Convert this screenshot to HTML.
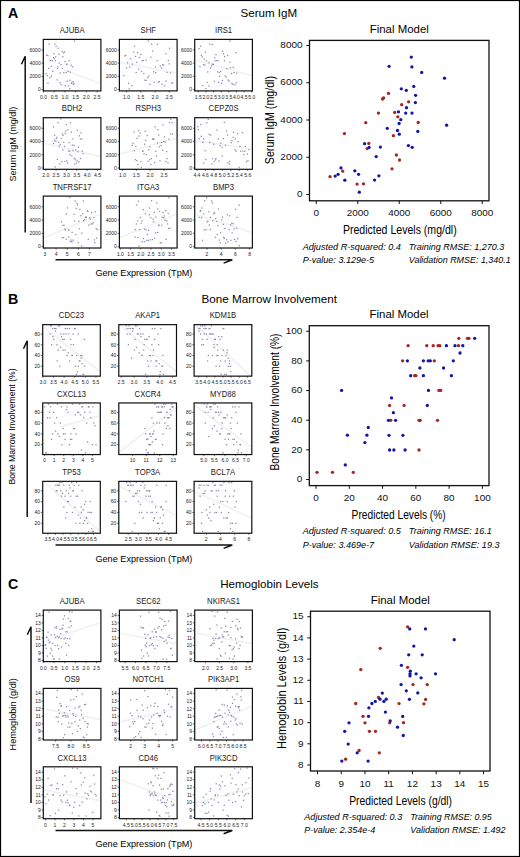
<!DOCTYPE html>
<html><head><meta charset="utf-8"><style>
html,body{margin:0;padding:0;background:#fff;width:520px;height:857px;overflow:hidden}
svg{display:block}
text{font-family:"Liberation Sans", sans-serif}
</style></head><body>
<svg width="520" height="857" viewBox="0 0 520 857" font-family='"Liberation Sans", sans-serif'>
<rect x="0" y="0" width="520" height="857" fill="#fff"/>
<rect x="0.55" y="0.55" width="518.9" height="855.9" fill="none" stroke="#000" stroke-width="1.1"/>
<text x="8.10" y="18.30" font-size="14.2" font-weight="bold">A</text>
<text x="240.50" y="17.20" font-size="11.6" textLength="56.70" lengthAdjust="spacingAndGlyphs">Serum IgM</text>
<text transform="translate(15.90,181.40) rotate(-90)" font-size="9.2" textLength="74.60" lengthAdjust="spacingAndGlyphs">Serum IgM (mg/dl)</text>
<path d="M25.20,232.50 L25.20,56.20 L21.50,64.20" fill="none" stroke="#111" stroke-width="1.5" stroke-linejoin="miter"/>
<path d="M55.5,259.80 L232.3,259.80 L223.6,263.10" fill="none" stroke="#111" stroke-width="1.5"/>
<text x="95.40" y="276.30" font-size="9.1" textLength="97.00" lengthAdjust="spacingAndGlyphs">Gene Expression (TpM)</text>
<text transform="translate(72.10,33.10) scale(0.93,1)" x="0" y="0" font-size="8.3" text-anchor="middle" fill="#1a1a1a">AJUBA</text>
<line x1="63.76" y1="69.78" x2="99.90" y2="83.18" stroke="#f1f1f1" stroke-width="1.7"/>
<rect x="53.29" y="53.02" width="1.25" height="1.25" fill="#8888b0"/>
<rect x="47.23" y="54.90" width="1.25" height="1.25" fill="#8888b0"/>
<rect x="46.07" y="54.45" width="1.25" height="1.25" fill="#8888b0"/>
<rect x="68.42" y="60.04" width="1.25" height="1.25" fill="#8888b0"/>
<rect x="50.17" y="59.88" width="1.25" height="1.25" fill="#8888b0"/>
<rect x="64.45" y="61.12" width="1.25" height="1.25" fill="#8888b0"/>
<rect x="62.24" y="56.07" width="1.25" height="1.25" fill="#8888b0"/>
<rect x="52.88" y="56.99" width="1.25" height="1.25" fill="#8888b0"/>
<rect x="66.16" y="63.71" width="1.25" height="1.25" fill="#8888b0"/>
<rect x="56.85" y="67.97" width="1.25" height="1.25" fill="#8888b0"/>
<rect x="65.84" y="63.63" width="1.25" height="1.25" fill="#8888b0"/>
<rect x="61.73" y="67.65" width="1.25" height="1.25" fill="#8888b0"/>
<rect x="52.18" y="70.67" width="1.25" height="1.25" fill="#8888b0"/>
<rect x="45.57" y="72.99" width="1.25" height="1.25" fill="#8888b0"/>
<rect x="46.71" y="75.04" width="1.25" height="1.25" fill="#8888b0"/>
<rect x="49.20" y="77.00" width="1.25" height="1.25" fill="#8888b0"/>
<rect x="69.24" y="79.66" width="1.25" height="1.25" fill="#8888b0"/>
<rect x="72.69" y="80.93" width="1.25" height="1.25" fill="#8888b0"/>
<rect x="73.54" y="82.94" width="1.25" height="1.25" fill="#8888b0"/>
<rect x="64.73" y="85.00" width="1.25" height="1.25" fill="#8888b0"/>
<rect x="68.03" y="85.37" width="1.25" height="1.25" fill="#8888b0"/>
<rect x="73.97" y="40.50" width="1.25" height="1.25" fill="#8888b0"/>
<rect x="48.63" y="43.50" width="1.25" height="1.25" fill="#8888b0"/>
<rect x="54.28" y="43.59" width="1.25" height="1.25" fill="#8888b0"/>
<rect x="55.52" y="45.72" width="1.25" height="1.25" fill="#8888b0"/>
<rect x="57.50" y="47.58" width="1.25" height="1.25" fill="#8888b0"/>
<rect x="61.50" y="50.84" width="1.25" height="1.25" fill="#8888b0"/>
<rect x="63.90" y="51.43" width="1.25" height="1.25" fill="#8888b0"/>
<rect x="62.86" y="52.25" width="1.25" height="1.25" fill="#8888b0"/>
<rect x="58.40" y="53.64" width="1.25" height="1.25" fill="#8888b0"/>
<rect x="55.08" y="56.17" width="1.25" height="1.25" fill="#8888b0"/>
<rect x="53.76" y="58.08" width="1.25" height="1.25" fill="#8888b0"/>
<rect x="49.50" y="59.92" width="1.25" height="1.25" fill="#8888b0"/>
<rect x="51.75" y="60.10" width="1.25" height="1.25" fill="#8888b0"/>
<rect x="54.74" y="60.10" width="1.25" height="1.25" fill="#8888b0"/>
<rect x="58.65" y="62.42" width="1.25" height="1.25" fill="#8888b0"/>
<rect x="60.37" y="64.02" width="1.25" height="1.25" fill="#8888b0"/>
<rect x="70.47" y="64.57" width="1.25" height="1.25" fill="#8888b0"/>
<rect x="50.66" y="65.69" width="1.25" height="1.25" fill="#8888b0"/>
<rect x="71.78" y="66.06" width="1.25" height="1.25" fill="#8888b0"/>
<rect x="57.30" y="66.37" width="1.25" height="1.25" fill="#8888b0"/>
<rect x="48.00" y="67.78" width="1.25" height="1.25" fill="#8888b0"/>
<rect x="67.58" y="70.74" width="1.25" height="1.25" fill="#8888b0"/>
<rect x="63.22" y="71.97" width="1.25" height="1.25" fill="#8888b0"/>
<rect x="65.57" y="72.01" width="1.25" height="1.25" fill="#8888b0"/>
<rect x="69.72" y="71.47" width="1.25" height="1.25" fill="#8888b0"/>
<rect x="59.57" y="72.43" width="1.25" height="1.25" fill="#8888b0"/>
<rect x="50.88" y="75.44" width="1.25" height="1.25" fill="#8888b0"/>
<rect x="56.43" y="79.27" width="1.25" height="1.25" fill="#8888b0"/>
<rect x="66.61" y="80.52" width="1.25" height="1.25" fill="#8888b0"/>
<rect x="71.27" y="81.62" width="1.25" height="1.25" fill="#8888b0"/>
<rect x="59.28" y="82.02" width="1.25" height="1.25" fill="#8888b0"/>
<rect x="70.98" y="82.62" width="1.25" height="1.25" fill="#8888b0"/>
<rect x="47.33" y="82.60" width="1.25" height="1.25" fill="#8888b0"/>
<rect x="60.55" y="83.89" width="1.25" height="1.25" fill="#8888b0"/>
<rect x="72.65" y="83.67" width="1.25" height="1.25" fill="#8888b0"/>
<rect x="69.13" y="88.10" width="1.25" height="1.25" fill="#8888b0"/>
<rect x="43.30" y="39.40" width="57.60" height="51.50" fill="none" stroke="#111" stroke-width="1.2"/>
<line x1="41.50" y1="49.96" x2="43.30" y2="49.96" stroke="#111" stroke-width="0.6"/>
<text x="40.70" y="51.76" font-size="5.0" text-anchor="end" fill="#222">6000</text>
<line x1="41.50" y1="63.17" x2="43.30" y2="63.17" stroke="#111" stroke-width="0.6"/>
<text x="40.70" y="64.97" font-size="5.0" text-anchor="end" fill="#222">4000</text>
<line x1="41.50" y1="76.37" x2="43.30" y2="76.37" stroke="#111" stroke-width="0.6"/>
<text x="40.70" y="78.17" font-size="5.0" text-anchor="end" fill="#222">2000</text>
<line x1="41.50" y1="89.58" x2="43.30" y2="89.58" stroke="#111" stroke-width="0.6"/>
<text x="40.70" y="91.38" font-size="5.0" text-anchor="end" fill="#222">0</text>
<line x1="43.50" y1="90.90" x2="43.50" y2="92.50" stroke="#111" stroke-width="0.6"/>
<text x="43.50" y="98.80" font-size="5.0" text-anchor="middle" fill="#222">0.0</text>
<line x1="54.22" y1="90.90" x2="54.22" y2="92.50" stroke="#111" stroke-width="0.6"/>
<text x="54.22" y="98.80" font-size="5.0" text-anchor="middle" fill="#222">0.5</text>
<line x1="64.94" y1="90.90" x2="64.94" y2="92.50" stroke="#111" stroke-width="0.6"/>
<text x="64.94" y="98.80" font-size="5.0" text-anchor="middle" fill="#222">1.0</text>
<line x1="75.66" y1="90.90" x2="75.66" y2="92.50" stroke="#111" stroke-width="0.6"/>
<text x="75.66" y="98.80" font-size="5.0" text-anchor="middle" fill="#222">1.5</text>
<line x1="86.38" y1="90.90" x2="86.38" y2="92.50" stroke="#111" stroke-width="0.6"/>
<text x="86.38" y="98.80" font-size="5.0" text-anchor="middle" fill="#222">2.0</text>
<line x1="97.10" y1="90.90" x2="97.10" y2="92.50" stroke="#111" stroke-width="0.6"/>
<text x="97.10" y="98.80" font-size="5.0" text-anchor="middle" fill="#222">2.5</text>
<text transform="translate(148.25,33.10) scale(0.93,1)" x="0" y="0" font-size="8.3" text-anchor="middle" fill="#1a1a1a">SHF</text>
<line x1="120.40" y1="62.58" x2="176.10" y2="72.88" stroke="#f1f1f1" stroke-width="1.7"/>
<rect x="165.23" y="53.18" width="1.25" height="1.25" fill="#8888b0"/>
<rect x="124.35" y="55.31" width="1.25" height="1.25" fill="#8888b0"/>
<rect x="125.03" y="54.78" width="1.25" height="1.25" fill="#8888b0"/>
<rect x="141.52" y="60.06" width="1.25" height="1.25" fill="#8888b0"/>
<rect x="156.58" y="59.99" width="1.25" height="1.25" fill="#8888b0"/>
<rect x="136.13" y="61.64" width="1.25" height="1.25" fill="#8888b0"/>
<rect x="134.91" y="55.85" width="1.25" height="1.25" fill="#8888b0"/>
<rect x="138.59" y="56.90" width="1.25" height="1.25" fill="#8888b0"/>
<rect x="168.58" y="63.25" width="1.25" height="1.25" fill="#8888b0"/>
<rect x="138.20" y="68.35" width="1.25" height="1.25" fill="#8888b0"/>
<rect x="131.87" y="63.45" width="1.25" height="1.25" fill="#8888b0"/>
<rect x="126.04" y="67.31" width="1.25" height="1.25" fill="#8888b0"/>
<rect x="140.93" y="70.84" width="1.25" height="1.25" fill="#8888b0"/>
<rect x="143.13" y="72.96" width="1.25" height="1.25" fill="#8888b0"/>
<rect x="123.14" y="75.06" width="1.25" height="1.25" fill="#8888b0"/>
<rect x="147.19" y="77.00" width="1.25" height="1.25" fill="#8888b0"/>
<rect x="145.50" y="79.77" width="1.25" height="1.25" fill="#8888b0"/>
<rect x="158.73" y="80.86" width="1.25" height="1.25" fill="#8888b0"/>
<rect x="171.34" y="82.43" width="1.25" height="1.25" fill="#8888b0"/>
<rect x="131.36" y="85.03" width="1.25" height="1.25" fill="#8888b0"/>
<rect x="163.95" y="85.32" width="1.25" height="1.25" fill="#8888b0"/>
<rect x="147.71" y="40.40" width="1.25" height="1.25" fill="#8888b0"/>
<rect x="150.99" y="43.47" width="1.25" height="1.25" fill="#8888b0"/>
<rect x="156.80" y="43.76" width="1.25" height="1.25" fill="#8888b0"/>
<rect x="133.84" y="45.55" width="1.25" height="1.25" fill="#8888b0"/>
<rect x="168.97" y="47.70" width="1.25" height="1.25" fill="#8888b0"/>
<rect x="152.06" y="50.56" width="1.25" height="1.25" fill="#8888b0"/>
<rect x="133.13" y="51.50" width="1.25" height="1.25" fill="#8888b0"/>
<rect x="136.93" y="52.05" width="1.25" height="1.25" fill="#8888b0"/>
<rect x="140.26" y="53.75" width="1.25" height="1.25" fill="#8888b0"/>
<rect x="150.25" y="56.59" width="1.25" height="1.25" fill="#8888b0"/>
<rect x="129.98" y="57.95" width="1.25" height="1.25" fill="#8888b0"/>
<rect x="145.47" y="59.39" width="1.25" height="1.25" fill="#8888b0"/>
<rect x="142.61" y="59.97" width="1.25" height="1.25" fill="#8888b0"/>
<rect x="167.70" y="60.10" width="1.25" height="1.25" fill="#8888b0"/>
<rect x="126.95" y="62.17" width="1.25" height="1.25" fill="#8888b0"/>
<rect x="162.03" y="63.96" width="1.25" height="1.25" fill="#8888b0"/>
<rect x="162.95" y="64.55" width="1.25" height="1.25" fill="#8888b0"/>
<rect x="159.69" y="65.37" width="1.25" height="1.25" fill="#8888b0"/>
<rect x="129.12" y="66.31" width="1.25" height="1.25" fill="#8888b0"/>
<rect x="154.86" y="66.36" width="1.25" height="1.25" fill="#8888b0"/>
<rect x="160.97" y="67.51" width="1.25" height="1.25" fill="#8888b0"/>
<rect x="153.02" y="71.19" width="1.25" height="1.25" fill="#8888b0"/>
<rect x="155.06" y="71.99" width="1.25" height="1.25" fill="#8888b0"/>
<rect x="169.82" y="72.37" width="1.25" height="1.25" fill="#8888b0"/>
<rect x="166.49" y="71.77" width="1.25" height="1.25" fill="#8888b0"/>
<rect x="135.54" y="72.00" width="1.25" height="1.25" fill="#8888b0"/>
<rect x="148.23" y="75.49" width="1.25" height="1.25" fill="#8888b0"/>
<rect x="144.24" y="79.57" width="1.25" height="1.25" fill="#8888b0"/>
<rect x="165.38" y="80.35" width="1.25" height="1.25" fill="#8888b0"/>
<rect x="153.63" y="81.62" width="1.25" height="1.25" fill="#8888b0"/>
<rect x="157.63" y="81.68" width="1.25" height="1.25" fill="#8888b0"/>
<rect x="128.01" y="82.70" width="1.25" height="1.25" fill="#8888b0"/>
<rect x="171.92" y="82.14" width="1.25" height="1.25" fill="#8888b0"/>
<rect x="161.53" y="83.62" width="1.25" height="1.25" fill="#8888b0"/>
<rect x="149.43" y="83.75" width="1.25" height="1.25" fill="#8888b0"/>
<rect x="128.55" y="88.38" width="1.25" height="1.25" fill="#8888b0"/>
<rect x="119.40" y="39.40" width="57.70" height="51.50" fill="none" stroke="#111" stroke-width="1.2"/>
<line x1="117.60" y1="49.96" x2="119.40" y2="49.96" stroke="#111" stroke-width="0.6"/>
<text x="116.80" y="51.76" font-size="5.0" text-anchor="end" fill="#222">6000</text>
<line x1="117.60" y1="63.17" x2="119.40" y2="63.17" stroke="#111" stroke-width="0.6"/>
<text x="116.80" y="64.97" font-size="5.0" text-anchor="end" fill="#222">4000</text>
<line x1="117.60" y1="76.37" x2="119.40" y2="76.37" stroke="#111" stroke-width="0.6"/>
<text x="116.80" y="78.17" font-size="5.0" text-anchor="end" fill="#222">2000</text>
<line x1="117.60" y1="89.58" x2="119.40" y2="89.58" stroke="#111" stroke-width="0.6"/>
<text x="116.80" y="91.38" font-size="5.0" text-anchor="end" fill="#222">0</text>
<line x1="126.60" y1="90.90" x2="126.60" y2="92.50" stroke="#111" stroke-width="0.6"/>
<text x="126.60" y="98.80" font-size="5.0" text-anchor="middle" fill="#222">1.0</text>
<line x1="140.80" y1="90.90" x2="140.80" y2="92.50" stroke="#111" stroke-width="0.6"/>
<text x="140.80" y="98.80" font-size="5.0" text-anchor="middle" fill="#222">1.5</text>
<line x1="155.00" y1="90.90" x2="155.00" y2="92.50" stroke="#111" stroke-width="0.6"/>
<text x="155.00" y="98.80" font-size="5.0" text-anchor="middle" fill="#222">2.0</text>
<line x1="169.20" y1="90.90" x2="169.20" y2="92.50" stroke="#111" stroke-width="0.6"/>
<text x="169.20" y="98.80" font-size="5.0" text-anchor="middle" fill="#222">2.5</text>
<text transform="translate(223.55,33.10) scale(0.93,1)" x="0" y="0" font-size="8.3" text-anchor="middle" fill="#1a1a1a">IRS1</text>
<line x1="195.70" y1="60.00" x2="251.40" y2="75.45" stroke="#f1f1f1" stroke-width="1.7"/>
<rect x="222.83" y="52.99" width="1.25" height="1.25" fill="#8888b0"/>
<rect x="200.75" y="54.90" width="1.25" height="1.25" fill="#8888b0"/>
<rect x="226.98" y="54.96" width="1.25" height="1.25" fill="#8888b0"/>
<rect x="223.78" y="60.16" width="1.25" height="1.25" fill="#8888b0"/>
<rect x="217.59" y="60.10" width="1.25" height="1.25" fill="#8888b0"/>
<rect x="229.20" y="61.64" width="1.25" height="1.25" fill="#8888b0"/>
<rect x="223.97" y="55.89" width="1.25" height="1.25" fill="#8888b0"/>
<rect x="214.13" y="57.23" width="1.25" height="1.25" fill="#8888b0"/>
<rect x="211.88" y="63.59" width="1.25" height="1.25" fill="#8888b0"/>
<rect x="226.20" y="68.03" width="1.25" height="1.25" fill="#8888b0"/>
<rect x="212.80" y="63.76" width="1.25" height="1.25" fill="#8888b0"/>
<rect x="229.89" y="67.18" width="1.25" height="1.25" fill="#8888b0"/>
<rect x="220.06" y="70.78" width="1.25" height="1.25" fill="#8888b0"/>
<rect x="230.88" y="72.85" width="1.25" height="1.25" fill="#8888b0"/>
<rect x="224.63" y="75.25" width="1.25" height="1.25" fill="#8888b0"/>
<rect x="225.44" y="76.47" width="1.25" height="1.25" fill="#8888b0"/>
<rect x="221.82" y="79.84" width="1.25" height="1.25" fill="#8888b0"/>
<rect x="228.50" y="80.48" width="1.25" height="1.25" fill="#8888b0"/>
<rect x="231.27" y="82.94" width="1.25" height="1.25" fill="#8888b0"/>
<rect x="208.26" y="85.47" width="1.25" height="1.25" fill="#8888b0"/>
<rect x="202.09" y="84.93" width="1.25" height="1.25" fill="#8888b0"/>
<rect x="229.44" y="40.42" width="1.25" height="1.25" fill="#8888b0"/>
<rect x="209.18" y="43.45" width="1.25" height="1.25" fill="#8888b0"/>
<rect x="211.70" y="44.01" width="1.25" height="1.25" fill="#8888b0"/>
<rect x="199.91" y="45.61" width="1.25" height="1.25" fill="#8888b0"/>
<rect x="198.35" y="47.97" width="1.25" height="1.25" fill="#8888b0"/>
<rect x="221.96" y="50.55" width="1.25" height="1.25" fill="#8888b0"/>
<rect x="204.77" y="51.46" width="1.25" height="1.25" fill="#8888b0"/>
<rect x="235.22" y="52.00" width="1.25" height="1.25" fill="#8888b0"/>
<rect x="215.34" y="54.04" width="1.25" height="1.25" fill="#8888b0"/>
<rect x="201.61" y="56.44" width="1.25" height="1.25" fill="#8888b0"/>
<rect x="203.59" y="58.36" width="1.25" height="1.25" fill="#8888b0"/>
<rect x="216.15" y="59.88" width="1.25" height="1.25" fill="#8888b0"/>
<rect x="205.80" y="60.15" width="1.25" height="1.25" fill="#8888b0"/>
<rect x="214.50" y="60.21" width="1.25" height="1.25" fill="#8888b0"/>
<rect x="208.46" y="62.16" width="1.25" height="1.25" fill="#8888b0"/>
<rect x="202.88" y="63.95" width="1.25" height="1.25" fill="#8888b0"/>
<rect x="204.23" y="64.53" width="1.25" height="1.25" fill="#8888b0"/>
<rect x="211.05" y="65.35" width="1.25" height="1.25" fill="#8888b0"/>
<rect x="199.37" y="66.01" width="1.25" height="1.25" fill="#8888b0"/>
<rect x="232.63" y="66.79" width="1.25" height="1.25" fill="#8888b0"/>
<rect x="210.01" y="67.40" width="1.25" height="1.25" fill="#8888b0"/>
<rect x="217.09" y="70.96" width="1.25" height="1.25" fill="#8888b0"/>
<rect x="218.56" y="72.00" width="1.25" height="1.25" fill="#8888b0"/>
<rect x="233.48" y="71.98" width="1.25" height="1.25" fill="#8888b0"/>
<rect x="207.08" y="71.33" width="1.25" height="1.25" fill="#8888b0"/>
<rect x="236.08" y="72.50" width="1.25" height="1.25" fill="#8888b0"/>
<rect x="219.17" y="75.68" width="1.25" height="1.25" fill="#8888b0"/>
<rect x="227.62" y="79.49" width="1.25" height="1.25" fill="#8888b0"/>
<rect x="213.71" y="80.71" width="1.25" height="1.25" fill="#8888b0"/>
<rect x="206.58" y="81.96" width="1.25" height="1.25" fill="#8888b0"/>
<rect x="217.92" y="81.95" width="1.25" height="1.25" fill="#8888b0"/>
<rect x="235.69" y="82.17" width="1.25" height="1.25" fill="#8888b0"/>
<rect x="221.03" y="82.60" width="1.25" height="1.25" fill="#8888b0"/>
<rect x="234.30" y="84.13" width="1.25" height="1.25" fill="#8888b0"/>
<rect x="232.05" y="83.58" width="1.25" height="1.25" fill="#8888b0"/>
<rect x="205.23" y="87.86" width="1.25" height="1.25" fill="#8888b0"/>
<rect x="194.70" y="39.40" width="57.70" height="51.50" fill="none" stroke="#111" stroke-width="1.2"/>
<line x1="192.90" y1="49.96" x2="194.70" y2="49.96" stroke="#111" stroke-width="0.6"/>
<text x="192.10" y="51.76" font-size="5.0" text-anchor="end" fill="#222">6000</text>
<line x1="192.90" y1="63.17" x2="194.70" y2="63.17" stroke="#111" stroke-width="0.6"/>
<text x="192.10" y="64.97" font-size="5.0" text-anchor="end" fill="#222">4000</text>
<line x1="192.90" y1="76.37" x2="194.70" y2="76.37" stroke="#111" stroke-width="0.6"/>
<text x="192.10" y="78.17" font-size="5.0" text-anchor="end" fill="#222">2000</text>
<line x1="192.90" y1="89.58" x2="194.70" y2="89.58" stroke="#111" stroke-width="0.6"/>
<text x="192.10" y="91.38" font-size="5.0" text-anchor="end" fill="#222">0</text>
<line x1="198.30" y1="90.90" x2="198.30" y2="92.50" stroke="#111" stroke-width="0.6"/>
<text x="198.30" y="98.80" font-size="5.0" text-anchor="middle" fill="#222">1.5</text>
<line x1="205.93" y1="90.90" x2="205.93" y2="92.50" stroke="#111" stroke-width="0.6"/>
<text x="205.93" y="98.80" font-size="5.0" text-anchor="middle" fill="#222">2.0</text>
<line x1="213.56" y1="90.90" x2="213.56" y2="92.50" stroke="#111" stroke-width="0.6"/>
<text x="213.56" y="98.80" font-size="5.0" text-anchor="middle" fill="#222">2.5</text>
<line x1="221.19" y1="90.90" x2="221.19" y2="92.50" stroke="#111" stroke-width="0.6"/>
<text x="221.19" y="98.80" font-size="5.0" text-anchor="middle" fill="#222">3.0</text>
<line x1="228.81" y1="90.90" x2="228.81" y2="92.50" stroke="#111" stroke-width="0.6"/>
<text x="228.81" y="98.80" font-size="5.0" text-anchor="middle" fill="#222">3.5</text>
<line x1="236.44" y1="90.90" x2="236.44" y2="92.50" stroke="#111" stroke-width="0.6"/>
<text x="236.44" y="98.80" font-size="5.0" text-anchor="middle" fill="#222">4.0</text>
<line x1="244.07" y1="90.90" x2="244.07" y2="92.50" stroke="#111" stroke-width="0.6"/>
<text x="244.07" y="98.80" font-size="5.0" text-anchor="middle" fill="#222">4.5</text>
<line x1="251.70" y1="90.90" x2="251.70" y2="92.50" stroke="#111" stroke-width="0.6"/>
<text x="251.70" y="98.80" font-size="5.0" text-anchor="middle" fill="#222">5.0</text>
<text transform="translate(72.10,111.40) scale(0.93,1)" x="0" y="0" font-size="8.3" text-anchor="middle" fill="#1a1a1a">BDH2</text>
<line x1="44.30" y1="143.50" x2="99.90" y2="156.40" stroke="#f1f1f1" stroke-width="1.7"/>
<rect x="70.66" y="131.47" width="1.25" height="1.25" fill="#8888b0"/>
<rect x="61.73" y="133.37" width="1.25" height="1.25" fill="#8888b0"/>
<rect x="64.58" y="132.81" width="1.25" height="1.25" fill="#8888b0"/>
<rect x="72.41" y="138.34" width="1.25" height="1.25" fill="#8888b0"/>
<rect x="55.58" y="138.17" width="1.25" height="1.25" fill="#8888b0"/>
<rect x="53.86" y="139.74" width="1.25" height="1.25" fill="#8888b0"/>
<rect x="54.04" y="134.63" width="1.25" height="1.25" fill="#8888b0"/>
<rect x="78.78" y="135.19" width="1.25" height="1.25" fill="#8888b0"/>
<rect x="63.12" y="141.69" width="1.25" height="1.25" fill="#8888b0"/>
<rect x="77.78" y="146.62" width="1.25" height="1.25" fill="#8888b0"/>
<rect x="58.01" y="141.77" width="1.25" height="1.25" fill="#8888b0"/>
<rect x="58.51" y="145.48" width="1.25" height="1.25" fill="#8888b0"/>
<rect x="62.25" y="149.39" width="1.25" height="1.25" fill="#8888b0"/>
<rect x="77.30" y="151.02" width="1.25" height="1.25" fill="#8888b0"/>
<rect x="82.35" y="153.15" width="1.25" height="1.25" fill="#8888b0"/>
<rect x="71.18" y="155.24" width="1.25" height="1.25" fill="#8888b0"/>
<rect x="79.82" y="157.94" width="1.25" height="1.25" fill="#8888b0"/>
<rect x="74.70" y="159.07" width="1.25" height="1.25" fill="#8888b0"/>
<rect x="61.27" y="160.89" width="1.25" height="1.25" fill="#8888b0"/>
<rect x="74.12" y="163.51" width="1.25" height="1.25" fill="#8888b0"/>
<rect x="59.03" y="163.34" width="1.25" height="1.25" fill="#8888b0"/>
<rect x="60.17" y="118.34" width="1.25" height="1.25" fill="#8888b0"/>
<rect x="57.49" y="122.11" width="1.25" height="1.25" fill="#8888b0"/>
<rect x="69.83" y="122.15" width="1.25" height="1.25" fill="#8888b0"/>
<rect x="65.67" y="123.91" width="1.25" height="1.25" fill="#8888b0"/>
<rect x="52.92" y="126.26" width="1.25" height="1.25" fill="#8888b0"/>
<rect x="67.17" y="129.23" width="1.25" height="1.25" fill="#8888b0"/>
<rect x="76.70" y="129.61" width="1.25" height="1.25" fill="#8888b0"/>
<rect x="65.11" y="130.49" width="1.25" height="1.25" fill="#8888b0"/>
<rect x="80.35" y="132.14" width="1.25" height="1.25" fill="#8888b0"/>
<rect x="62.52" y="134.77" width="1.25" height="1.25" fill="#8888b0"/>
<rect x="56.27" y="136.70" width="1.25" height="1.25" fill="#8888b0"/>
<rect x="60.46" y="137.74" width="1.25" height="1.25" fill="#8888b0"/>
<rect x="81.29" y="138.24" width="1.25" height="1.25" fill="#8888b0"/>
<rect x="79.72" y="138.42" width="1.25" height="1.25" fill="#8888b0"/>
<rect x="55.21" y="140.77" width="1.25" height="1.25" fill="#8888b0"/>
<rect x="68.45" y="141.97" width="1.25" height="1.25" fill="#8888b0"/>
<rect x="52.87" y="142.93" width="1.25" height="1.25" fill="#8888b0"/>
<rect x="59.65" y="143.87" width="1.25" height="1.25" fill="#8888b0"/>
<rect x="71.60" y="144.46" width="1.25" height="1.25" fill="#8888b0"/>
<rect x="73.37" y="144.81" width="1.25" height="1.25" fill="#8888b0"/>
<rect x="63.75" y="145.70" width="1.25" height="1.25" fill="#8888b0"/>
<rect x="75.05" y="149.21" width="1.25" height="1.25" fill="#8888b0"/>
<rect x="69.16" y="150.72" width="1.25" height="1.25" fill="#8888b0"/>
<rect x="81.67" y="150.57" width="1.25" height="1.25" fill="#8888b0"/>
<rect x="72.29" y="150.04" width="1.25" height="1.25" fill="#8888b0"/>
<rect x="67.93" y="150.35" width="1.25" height="1.25" fill="#8888b0"/>
<rect x="69.40" y="153.96" width="1.25" height="1.25" fill="#8888b0"/>
<rect x="73.63" y="157.76" width="1.25" height="1.25" fill="#8888b0"/>
<rect x="56.75" y="158.82" width="1.25" height="1.25" fill="#8888b0"/>
<rect x="76.50" y="160.23" width="1.25" height="1.25" fill="#8888b0"/>
<rect x="66.24" y="160.20" width="1.25" height="1.25" fill="#8888b0"/>
<rect x="78.23" y="161.04" width="1.25" height="1.25" fill="#8888b0"/>
<rect x="64.39" y="160.87" width="1.25" height="1.25" fill="#8888b0"/>
<rect x="76.03" y="162.36" width="1.25" height="1.25" fill="#8888b0"/>
<rect x="67.12" y="162.43" width="1.25" height="1.25" fill="#8888b0"/>
<rect x="54.52" y="166.32" width="1.25" height="1.25" fill="#8888b0"/>
<rect x="43.30" y="117.70" width="57.60" height="51.60" fill="none" stroke="#111" stroke-width="1.2"/>
<line x1="41.50" y1="128.28" x2="43.30" y2="128.28" stroke="#111" stroke-width="0.6"/>
<text x="40.70" y="130.08" font-size="5.0" text-anchor="end" fill="#222">6000</text>
<line x1="41.50" y1="141.52" x2="43.30" y2="141.52" stroke="#111" stroke-width="0.6"/>
<text x="40.70" y="143.32" font-size="5.0" text-anchor="end" fill="#222">4000</text>
<line x1="41.50" y1="154.75" x2="43.30" y2="154.75" stroke="#111" stroke-width="0.6"/>
<text x="40.70" y="156.55" font-size="5.0" text-anchor="end" fill="#222">2000</text>
<line x1="41.50" y1="167.98" x2="43.30" y2="167.98" stroke="#111" stroke-width="0.6"/>
<text x="40.70" y="169.78" font-size="5.0" text-anchor="end" fill="#222">0</text>
<line x1="45.75" y1="169.30" x2="45.75" y2="170.90" stroke="#111" stroke-width="0.6"/>
<text x="45.75" y="177.20" font-size="5.0" text-anchor="middle" fill="#222">2.0</text>
<line x1="56.10" y1="169.30" x2="56.10" y2="170.90" stroke="#111" stroke-width="0.6"/>
<text x="56.10" y="177.20" font-size="5.0" text-anchor="middle" fill="#222">2.5</text>
<line x1="66.45" y1="169.30" x2="66.45" y2="170.90" stroke="#111" stroke-width="0.6"/>
<text x="66.45" y="177.20" font-size="5.0" text-anchor="middle" fill="#222">3.0</text>
<line x1="76.80" y1="169.30" x2="76.80" y2="170.90" stroke="#111" stroke-width="0.6"/>
<text x="76.80" y="177.20" font-size="5.0" text-anchor="middle" fill="#222">3.5</text>
<line x1="87.15" y1="169.30" x2="87.15" y2="170.90" stroke="#111" stroke-width="0.6"/>
<text x="87.15" y="177.20" font-size="5.0" text-anchor="middle" fill="#222">4.0</text>
<line x1="97.50" y1="169.30" x2="97.50" y2="170.90" stroke="#111" stroke-width="0.6"/>
<text x="97.50" y="177.20" font-size="5.0" text-anchor="middle" fill="#222">4.5</text>
<text transform="translate(148.25,111.40) scale(0.93,1)" x="0" y="0" font-size="8.3" text-anchor="middle" fill="#1a1a1a">RSPH3</text>
<line x1="120.40" y1="153.82" x2="176.10" y2="138.34" stroke="#f1f1f1" stroke-width="1.7"/>
<rect x="133.37" y="131.58" width="1.25" height="1.25" fill="#8888b0"/>
<rect x="171.99" y="133.52" width="1.25" height="1.25" fill="#8888b0"/>
<rect x="169.99" y="133.21" width="1.25" height="1.25" fill="#8888b0"/>
<rect x="152.02" y="138.46" width="1.25" height="1.25" fill="#8888b0"/>
<rect x="152.65" y="138.22" width="1.25" height="1.25" fill="#8888b0"/>
<rect x="145.13" y="139.80" width="1.25" height="1.25" fill="#8888b0"/>
<rect x="158.09" y="134.40" width="1.25" height="1.25" fill="#8888b0"/>
<rect x="138.58" y="135.50" width="1.25" height="1.25" fill="#8888b0"/>
<rect x="160.92" y="141.93" width="1.25" height="1.25" fill="#8888b0"/>
<rect x="149.38" y="146.32" width="1.25" height="1.25" fill="#8888b0"/>
<rect x="164.55" y="141.56" width="1.25" height="1.25" fill="#8888b0"/>
<rect x="135.21" y="145.93" width="1.25" height="1.25" fill="#8888b0"/>
<rect x="148.08" y="149.00" width="1.25" height="1.25" fill="#8888b0"/>
<rect x="166.00" y="150.98" width="1.25" height="1.25" fill="#8888b0"/>
<rect x="143.40" y="153.10" width="1.25" height="1.25" fill="#8888b0"/>
<rect x="155.82" y="155.25" width="1.25" height="1.25" fill="#8888b0"/>
<rect x="150.85" y="157.96" width="1.25" height="1.25" fill="#8888b0"/>
<rect x="134.80" y="159.04" width="1.25" height="1.25" fill="#8888b0"/>
<rect x="165.14" y="160.92" width="1.25" height="1.25" fill="#8888b0"/>
<rect x="150.20" y="163.85" width="1.25" height="1.25" fill="#8888b0"/>
<rect x="137.38" y="163.78" width="1.25" height="1.25" fill="#8888b0"/>
<rect x="170.09" y="118.63" width="1.25" height="1.25" fill="#8888b0"/>
<rect x="168.79" y="121.92" width="1.25" height="1.25" fill="#8888b0"/>
<rect x="171.46" y="122.02" width="1.25" height="1.25" fill="#8888b0"/>
<rect x="162.24" y="124.21" width="1.25" height="1.25" fill="#8888b0"/>
<rect x="154.39" y="126.20" width="1.25" height="1.25" fill="#8888b0"/>
<rect x="157.29" y="129.05" width="1.25" height="1.25" fill="#8888b0"/>
<rect x="138.06" y="130.01" width="1.25" height="1.25" fill="#8888b0"/>
<rect x="144.64" y="130.61" width="1.25" height="1.25" fill="#8888b0"/>
<rect x="139.35" y="132.32" width="1.25" height="1.25" fill="#8888b0"/>
<rect x="146.63" y="134.96" width="1.25" height="1.25" fill="#8888b0"/>
<rect x="163.91" y="136.25" width="1.25" height="1.25" fill="#8888b0"/>
<rect x="136.35" y="137.70" width="1.25" height="1.25" fill="#8888b0"/>
<rect x="168.20" y="138.39" width="1.25" height="1.25" fill="#8888b0"/>
<rect x="153.33" y="138.72" width="1.25" height="1.25" fill="#8888b0"/>
<rect x="163.00" y="140.78" width="1.25" height="1.25" fill="#8888b0"/>
<rect x="156.82" y="142.35" width="1.25" height="1.25" fill="#8888b0"/>
<rect x="132.39" y="142.76" width="1.25" height="1.25" fill="#8888b0"/>
<rect x="144.01" y="143.59" width="1.25" height="1.25" fill="#8888b0"/>
<rect x="131.63" y="144.75" width="1.25" height="1.25" fill="#8888b0"/>
<rect x="160.57" y="144.93" width="1.25" height="1.25" fill="#8888b0"/>
<rect x="158.61" y="146.07" width="1.25" height="1.25" fill="#8888b0"/>
<rect x="162.10" y="149.61" width="1.25" height="1.25" fill="#8888b0"/>
<rect x="155.16" y="150.77" width="1.25" height="1.25" fill="#8888b0"/>
<rect x="142.44" y="150.52" width="1.25" height="1.25" fill="#8888b0"/>
<rect x="133.66" y="150.01" width="1.25" height="1.25" fill="#8888b0"/>
<rect x="141.97" y="150.49" width="1.25" height="1.25" fill="#8888b0"/>
<rect x="145.65" y="153.97" width="1.25" height="1.25" fill="#8888b0"/>
<rect x="166.49" y="157.96" width="1.25" height="1.25" fill="#8888b0"/>
<rect x="149.06" y="159.09" width="1.25" height="1.25" fill="#8888b0"/>
<rect x="136.24" y="160.00" width="1.25" height="1.25" fill="#8888b0"/>
<rect x="159.40" y="160.22" width="1.25" height="1.25" fill="#8888b0"/>
<rect x="147.39" y="160.68" width="1.25" height="1.25" fill="#8888b0"/>
<rect x="140.35" y="160.92" width="1.25" height="1.25" fill="#8888b0"/>
<rect x="153.97" y="161.99" width="1.25" height="1.25" fill="#8888b0"/>
<rect x="167.32" y="162.13" width="1.25" height="1.25" fill="#8888b0"/>
<rect x="140.75" y="166.51" width="1.25" height="1.25" fill="#8888b0"/>
<rect x="119.40" y="117.70" width="57.70" height="51.60" fill="none" stroke="#111" stroke-width="1.2"/>
<line x1="117.60" y1="128.28" x2="119.40" y2="128.28" stroke="#111" stroke-width="0.6"/>
<text x="116.80" y="130.08" font-size="5.0" text-anchor="end" fill="#222">6000</text>
<line x1="117.60" y1="141.52" x2="119.40" y2="141.52" stroke="#111" stroke-width="0.6"/>
<text x="116.80" y="143.32" font-size="5.0" text-anchor="end" fill="#222">4000</text>
<line x1="117.60" y1="154.75" x2="119.40" y2="154.75" stroke="#111" stroke-width="0.6"/>
<text x="116.80" y="156.55" font-size="5.0" text-anchor="end" fill="#222">2000</text>
<line x1="117.60" y1="167.98" x2="119.40" y2="167.98" stroke="#111" stroke-width="0.6"/>
<text x="116.80" y="169.78" font-size="5.0" text-anchor="end" fill="#222">0</text>
<line x1="122.50" y1="169.30" x2="122.50" y2="170.90" stroke="#111" stroke-width="0.6"/>
<text x="122.50" y="177.20" font-size="5.0" text-anchor="middle" fill="#222">1.0</text>
<line x1="136.33" y1="169.30" x2="136.33" y2="170.90" stroke="#111" stroke-width="0.6"/>
<text x="136.33" y="177.20" font-size="5.0" text-anchor="middle" fill="#222">1.5</text>
<line x1="150.17" y1="169.30" x2="150.17" y2="170.90" stroke="#111" stroke-width="0.6"/>
<text x="150.17" y="177.20" font-size="5.0" text-anchor="middle" fill="#222">2.0</text>
<line x1="164.00" y1="169.30" x2="164.00" y2="170.90" stroke="#111" stroke-width="0.6"/>
<text x="164.00" y="177.20" font-size="5.0" text-anchor="middle" fill="#222">2.5</text>
<text transform="translate(223.55,111.40) scale(0.93,1)" x="0" y="0" font-size="8.3" text-anchor="middle" fill="#1a1a1a">CEPZ0S</text>
<line x1="195.70" y1="140.92" x2="251.40" y2="148.66" stroke="#f1f1f1" stroke-width="1.7"/>
<rect x="232.97" y="131.66" width="1.25" height="1.25" fill="#8888b0"/>
<rect x="208.59" y="133.62" width="1.25" height="1.25" fill="#8888b0"/>
<rect x="237.12" y="132.92" width="1.25" height="1.25" fill="#8888b0"/>
<rect x="203.06" y="138.20" width="1.25" height="1.25" fill="#8888b0"/>
<rect x="234.67" y="138.27" width="1.25" height="1.25" fill="#8888b0"/>
<rect x="231.32" y="140.00" width="1.25" height="1.25" fill="#8888b0"/>
<rect x="210.11" y="134.48" width="1.25" height="1.25" fill="#8888b0"/>
<rect x="200.50" y="135.72" width="1.25" height="1.25" fill="#8888b0"/>
<rect x="209.01" y="141.62" width="1.25" height="1.25" fill="#8888b0"/>
<rect x="221.55" y="146.61" width="1.25" height="1.25" fill="#8888b0"/>
<rect x="202.11" y="141.81" width="1.25" height="1.25" fill="#8888b0"/>
<rect x="244.68" y="145.76" width="1.25" height="1.25" fill="#8888b0"/>
<rect x="248.42" y="149.01" width="1.25" height="1.25" fill="#8888b0"/>
<rect x="244.13" y="150.80" width="1.25" height="1.25" fill="#8888b0"/>
<rect x="246.84" y="153.43" width="1.25" height="1.25" fill="#8888b0"/>
<rect x="221.54" y="155.27" width="1.25" height="1.25" fill="#8888b0"/>
<rect x="212.01" y="158.17" width="1.25" height="1.25" fill="#8888b0"/>
<rect x="214.95" y="159.25" width="1.25" height="1.25" fill="#8888b0"/>
<rect x="213.60" y="160.78" width="1.25" height="1.25" fill="#8888b0"/>
<rect x="211.40" y="163.38" width="1.25" height="1.25" fill="#8888b0"/>
<rect x="228.69" y="163.35" width="1.25" height="1.25" fill="#8888b0"/>
<rect x="207.67" y="118.84" width="1.25" height="1.25" fill="#8888b0"/>
<rect x="223.74" y="121.80" width="1.25" height="1.25" fill="#8888b0"/>
<rect x="206.19" y="122.14" width="1.25" height="1.25" fill="#8888b0"/>
<rect x="200.15" y="123.73" width="1.25" height="1.25" fill="#8888b0"/>
<rect x="197.22" y="126.05" width="1.25" height="1.25" fill="#8888b0"/>
<rect x="197.73" y="128.87" width="1.25" height="1.25" fill="#8888b0"/>
<rect x="216.44" y="129.55" width="1.25" height="1.25" fill="#8888b0"/>
<rect x="225.90" y="130.28" width="1.25" height="1.25" fill="#8888b0"/>
<rect x="241.81" y="131.95" width="1.25" height="1.25" fill="#8888b0"/>
<rect x="226.93" y="134.46" width="1.25" height="1.25" fill="#8888b0"/>
<rect x="232.49" y="136.76" width="1.25" height="1.25" fill="#8888b0"/>
<rect x="222.77" y="137.98" width="1.25" height="1.25" fill="#8888b0"/>
<rect x="198.55" y="138.24" width="1.25" height="1.25" fill="#8888b0"/>
<rect x="217.57" y="138.31" width="1.25" height="1.25" fill="#8888b0"/>
<rect x="237.41" y="141.07" width="1.25" height="1.25" fill="#8888b0"/>
<rect x="230.55" y="142.01" width="1.25" height="1.25" fill="#8888b0"/>
<rect x="220.27" y="142.50" width="1.25" height="1.25" fill="#8888b0"/>
<rect x="213.06" y="143.73" width="1.25" height="1.25" fill="#8888b0"/>
<rect x="224.91" y="144.73" width="1.25" height="1.25" fill="#8888b0"/>
<rect x="219.40" y="144.99" width="1.25" height="1.25" fill="#8888b0"/>
<rect x="239.30" y="145.76" width="1.25" height="1.25" fill="#8888b0"/>
<rect x="234.40" y="149.25" width="1.25" height="1.25" fill="#8888b0"/>
<rect x="240.07" y="150.58" width="1.25" height="1.25" fill="#8888b0"/>
<rect x="242.27" y="150.27" width="1.25" height="1.25" fill="#8888b0"/>
<rect x="204.57" y="150.15" width="1.25" height="1.25" fill="#8888b0"/>
<rect x="235.53" y="150.52" width="1.25" height="1.25" fill="#8888b0"/>
<rect x="243.19" y="153.91" width="1.25" height="1.25" fill="#8888b0"/>
<rect x="215.26" y="158.06" width="1.25" height="1.25" fill="#8888b0"/>
<rect x="205.24" y="158.82" width="1.25" height="1.25" fill="#8888b0"/>
<rect x="218.21" y="160.35" width="1.25" height="1.25" fill="#8888b0"/>
<rect x="247.36" y="160.01" width="1.25" height="1.25" fill="#8888b0"/>
<rect x="229.26" y="160.68" width="1.25" height="1.25" fill="#8888b0"/>
<rect x="245.88" y="160.92" width="1.25" height="1.25" fill="#8888b0"/>
<rect x="227.32" y="161.98" width="1.25" height="1.25" fill="#8888b0"/>
<rect x="203.18" y="162.38" width="1.25" height="1.25" fill="#8888b0"/>
<rect x="238.54" y="166.63" width="1.25" height="1.25" fill="#8888b0"/>
<rect x="194.70" y="117.70" width="57.70" height="51.60" fill="none" stroke="#111" stroke-width="1.2"/>
<line x1="192.90" y1="128.28" x2="194.70" y2="128.28" stroke="#111" stroke-width="0.6"/>
<text x="192.10" y="130.08" font-size="5.0" text-anchor="end" fill="#222">6000</text>
<line x1="192.90" y1="141.52" x2="194.70" y2="141.52" stroke="#111" stroke-width="0.6"/>
<text x="192.10" y="143.32" font-size="5.0" text-anchor="end" fill="#222">4000</text>
<line x1="192.90" y1="154.75" x2="194.70" y2="154.75" stroke="#111" stroke-width="0.6"/>
<text x="192.10" y="156.55" font-size="5.0" text-anchor="end" fill="#222">2000</text>
<line x1="192.90" y1="167.98" x2="194.70" y2="167.98" stroke="#111" stroke-width="0.6"/>
<text x="192.10" y="169.78" font-size="5.0" text-anchor="end" fill="#222">0</text>
<line x1="196.90" y1="169.30" x2="196.90" y2="170.90" stroke="#111" stroke-width="0.6"/>
<text x="196.90" y="177.20" font-size="5.0" text-anchor="middle" fill="#222">4.4</text>
<line x1="205.37" y1="169.30" x2="205.37" y2="170.90" stroke="#111" stroke-width="0.6"/>
<text x="205.37" y="177.20" font-size="5.0" text-anchor="middle" fill="#222">4.6</text>
<line x1="213.83" y1="169.30" x2="213.83" y2="170.90" stroke="#111" stroke-width="0.6"/>
<text x="213.83" y="177.20" font-size="5.0" text-anchor="middle" fill="#222">4.8</text>
<line x1="222.30" y1="169.30" x2="222.30" y2="170.90" stroke="#111" stroke-width="0.6"/>
<text x="222.30" y="177.20" font-size="5.0" text-anchor="middle" fill="#222">5.0</text>
<line x1="230.77" y1="169.30" x2="230.77" y2="170.90" stroke="#111" stroke-width="0.6"/>
<text x="230.77" y="177.20" font-size="5.0" text-anchor="middle" fill="#222">5.2</text>
<line x1="239.23" y1="169.30" x2="239.23" y2="170.90" stroke="#111" stroke-width="0.6"/>
<text x="239.23" y="177.20" font-size="5.0" text-anchor="middle" fill="#222">5.4</text>
<line x1="247.70" y1="169.30" x2="247.70" y2="170.90" stroke="#111" stroke-width="0.6"/>
<text x="247.70" y="177.20" font-size="5.0" text-anchor="middle" fill="#222">5.6</text>
<text transform="translate(72.10,189.80) scale(0.93,1)" x="0" y="0" font-size="8.3" text-anchor="middle" fill="#1a1a1a">TNFRSF17</text>
<line x1="44.30" y1="237.62" x2="99.90" y2="214.26" stroke="#f1f1f1" stroke-width="1.7"/>
<rect x="86.76" y="210.18" width="1.25" height="1.25" fill="#8888b0"/>
<rect x="90.96" y="211.95" width="1.25" height="1.25" fill="#8888b0"/>
<rect x="94.66" y="211.30" width="1.25" height="1.25" fill="#8888b0"/>
<rect x="89.03" y="217.09" width="1.25" height="1.25" fill="#8888b0"/>
<rect x="84.75" y="216.63" width="1.25" height="1.25" fill="#8888b0"/>
<rect x="89.80" y="218.57" width="1.25" height="1.25" fill="#8888b0"/>
<rect x="82.04" y="213.10" width="1.25" height="1.25" fill="#8888b0"/>
<rect x="73.34" y="213.69" width="1.25" height="1.25" fill="#8888b0"/>
<rect x="73.96" y="220.33" width="1.25" height="1.25" fill="#8888b0"/>
<rect x="62.24" y="224.78" width="1.25" height="1.25" fill="#8888b0"/>
<rect x="83.03" y="220.17" width="1.25" height="1.25" fill="#8888b0"/>
<rect x="88.20" y="224.45" width="1.25" height="1.25" fill="#8888b0"/>
<rect x="78.86" y="228.04" width="1.25" height="1.25" fill="#8888b0"/>
<rect x="68.46" y="229.50" width="1.25" height="1.25" fill="#8888b0"/>
<rect x="71.49" y="231.78" width="1.25" height="1.25" fill="#8888b0"/>
<rect x="75.24" y="233.86" width="1.25" height="1.25" fill="#8888b0"/>
<rect x="62.98" y="236.87" width="1.25" height="1.25" fill="#8888b0"/>
<rect x="95.93" y="237.58" width="1.25" height="1.25" fill="#8888b0"/>
<rect x="70.46" y="239.47" width="1.25" height="1.25" fill="#8888b0"/>
<rect x="77.70" y="242.14" width="1.25" height="1.25" fill="#8888b0"/>
<rect x="94.13" y="242.00" width="1.25" height="1.25" fill="#8888b0"/>
<rect x="69.15" y="196.77" width="1.25" height="1.25" fill="#8888b0"/>
<rect x="82.63" y="200.28" width="1.25" height="1.25" fill="#8888b0"/>
<rect x="74.51" y="200.46" width="1.25" height="1.25" fill="#8888b0"/>
<rect x="76.19" y="202.71" width="1.25" height="1.25" fill="#8888b0"/>
<rect x="76.95" y="204.33" width="1.25" height="1.25" fill="#8888b0"/>
<rect x="66.82" y="207.32" width="1.25" height="1.25" fill="#8888b0"/>
<rect x="75.58" y="208.08" width="1.25" height="1.25" fill="#8888b0"/>
<rect x="79.22" y="208.93" width="1.25" height="1.25" fill="#8888b0"/>
<rect x="87.30" y="210.82" width="1.25" height="1.25" fill="#8888b0"/>
<rect x="65.69" y="213.38" width="1.25" height="1.25" fill="#8888b0"/>
<rect x="80.18" y="215.12" width="1.25" height="1.25" fill="#8888b0"/>
<rect x="85.61" y="216.44" width="1.25" height="1.25" fill="#8888b0"/>
<rect x="93.19" y="217.04" width="1.25" height="1.25" fill="#8888b0"/>
<rect x="85.51" y="217.00" width="1.25" height="1.25" fill="#8888b0"/>
<rect x="83.96" y="219.08" width="1.25" height="1.25" fill="#8888b0"/>
<rect x="78.16" y="220.64" width="1.25" height="1.25" fill="#8888b0"/>
<rect x="60.84" y="221.15" width="1.25" height="1.25" fill="#8888b0"/>
<rect x="92.56" y="222.16" width="1.25" height="1.25" fill="#8888b0"/>
<rect x="90.47" y="223.47" width="1.25" height="1.25" fill="#8888b0"/>
<rect x="91.47" y="223.27" width="1.25" height="1.25" fill="#8888b0"/>
<rect x="63.45" y="224.77" width="1.25" height="1.25" fill="#8888b0"/>
<rect x="95.60" y="228.12" width="1.25" height="1.25" fill="#8888b0"/>
<rect x="96.86" y="228.95" width="1.25" height="1.25" fill="#8888b0"/>
<rect x="64.74" y="229.32" width="1.25" height="1.25" fill="#8888b0"/>
<rect x="64.38" y="228.45" width="1.25" height="1.25" fill="#8888b0"/>
<rect x="67.59" y="229.34" width="1.25" height="1.25" fill="#8888b0"/>
<rect x="81.23" y="232.56" width="1.25" height="1.25" fill="#8888b0"/>
<rect x="68.01" y="236.39" width="1.25" height="1.25" fill="#8888b0"/>
<rect x="61.39" y="237.33" width="1.25" height="1.25" fill="#8888b0"/>
<rect x="65.58" y="238.61" width="1.25" height="1.25" fill="#8888b0"/>
<rect x="87.62" y="238.57" width="1.25" height="1.25" fill="#8888b0"/>
<rect x="93.80" y="239.32" width="1.25" height="1.25" fill="#8888b0"/>
<rect x="72.48" y="239.59" width="1.25" height="1.25" fill="#8888b0"/>
<rect x="69.65" y="240.95" width="1.25" height="1.25" fill="#8888b0"/>
<rect x="71.23" y="241.09" width="1.25" height="1.25" fill="#8888b0"/>
<rect x="80.99" y="245.34" width="1.25" height="1.25" fill="#8888b0"/>
<rect x="43.30" y="196.10" width="57.60" height="51.90" fill="none" stroke="#111" stroke-width="1.2"/>
<line x1="41.50" y1="206.75" x2="43.30" y2="206.75" stroke="#111" stroke-width="0.6"/>
<text x="40.70" y="208.55" font-size="5.0" text-anchor="end" fill="#222">6000</text>
<line x1="41.50" y1="220.05" x2="43.30" y2="220.05" stroke="#111" stroke-width="0.6"/>
<text x="40.70" y="221.85" font-size="5.0" text-anchor="end" fill="#222">4000</text>
<line x1="41.50" y1="233.36" x2="43.30" y2="233.36" stroke="#111" stroke-width="0.6"/>
<text x="40.70" y="235.16" font-size="5.0" text-anchor="end" fill="#222">2000</text>
<line x1="41.50" y1="246.67" x2="43.30" y2="246.67" stroke="#111" stroke-width="0.6"/>
<text x="40.70" y="248.47" font-size="5.0" text-anchor="end" fill="#222">0</text>
<line x1="45.00" y1="248.00" x2="45.00" y2="249.60" stroke="#111" stroke-width="0.6"/>
<text x="45.00" y="255.90" font-size="5.0" text-anchor="middle" fill="#222">3</text>
<line x1="56.12" y1="248.00" x2="56.12" y2="249.60" stroke="#111" stroke-width="0.6"/>
<text x="56.12" y="255.90" font-size="5.0" text-anchor="middle" fill="#222">4</text>
<line x1="67.25" y1="248.00" x2="67.25" y2="249.60" stroke="#111" stroke-width="0.6"/>
<text x="67.25" y="255.90" font-size="5.0" text-anchor="middle" fill="#222">5</text>
<line x1="78.38" y1="248.00" x2="78.38" y2="249.60" stroke="#111" stroke-width="0.6"/>
<text x="78.38" y="255.90" font-size="5.0" text-anchor="middle" fill="#222">6</text>
<line x1="89.50" y1="248.00" x2="89.50" y2="249.60" stroke="#111" stroke-width="0.6"/>
<text x="89.50" y="255.90" font-size="5.0" text-anchor="middle" fill="#222">7</text>
<text transform="translate(148.25,189.80) scale(0.93,1)" x="0" y="0" font-size="8.3" text-anchor="middle" fill="#1a1a1a">ITGA3</text>
<line x1="120.40" y1="237.62" x2="176.10" y2="214.26" stroke="#f1f1f1" stroke-width="1.7"/>
<rect x="165.04" y="210.10" width="1.25" height="1.25" fill="#8888b0"/>
<rect x="162.37" y="211.95" width="1.25" height="1.25" fill="#8888b0"/>
<rect x="153.70" y="211.81" width="1.25" height="1.25" fill="#8888b0"/>
<rect x="163.22" y="216.99" width="1.25" height="1.25" fill="#8888b0"/>
<rect x="161.51" y="216.82" width="1.25" height="1.25" fill="#8888b0"/>
<rect x="152.54" y="218.43" width="1.25" height="1.25" fill="#8888b0"/>
<rect x="167.54" y="212.68" width="1.25" height="1.25" fill="#8888b0"/>
<rect x="148.75" y="214.07" width="1.25" height="1.25" fill="#8888b0"/>
<rect x="166.05" y="220.19" width="1.25" height="1.25" fill="#8888b0"/>
<rect x="157.97" y="225.12" width="1.25" height="1.25" fill="#8888b0"/>
<rect x="141.35" y="220.28" width="1.25" height="1.25" fill="#8888b0"/>
<rect x="161.20" y="224.57" width="1.25" height="1.25" fill="#8888b0"/>
<rect x="169.23" y="227.57" width="1.25" height="1.25" fill="#8888b0"/>
<rect x="148.01" y="229.82" width="1.25" height="1.25" fill="#8888b0"/>
<rect x="157.03" y="231.89" width="1.25" height="1.25" fill="#8888b0"/>
<rect x="146.75" y="233.69" width="1.25" height="1.25" fill="#8888b0"/>
<rect x="137.29" y="236.95" width="1.25" height="1.25" fill="#8888b0"/>
<rect x="154.03" y="237.57" width="1.25" height="1.25" fill="#8888b0"/>
<rect x="147.58" y="239.85" width="1.25" height="1.25" fill="#8888b0"/>
<rect x="159.65" y="242.21" width="1.25" height="1.25" fill="#8888b0"/>
<rect x="160.66" y="242.32" width="1.25" height="1.25" fill="#8888b0"/>
<rect x="168.51" y="197.11" width="1.25" height="1.25" fill="#8888b0"/>
<rect x="150.97" y="199.95" width="1.25" height="1.25" fill="#8888b0"/>
<rect x="137.79" y="200.56" width="1.25" height="1.25" fill="#8888b0"/>
<rect x="156.17" y="202.16" width="1.25" height="1.25" fill="#8888b0"/>
<rect x="135.86" y="204.29" width="1.25" height="1.25" fill="#8888b0"/>
<rect x="148.97" y="207.44" width="1.25" height="1.25" fill="#8888b0"/>
<rect x="157.10" y="208.34" width="1.25" height="1.25" fill="#8888b0"/>
<rect x="142.67" y="208.99" width="1.25" height="1.25" fill="#8888b0"/>
<rect x="158.95" y="210.88" width="1.25" height="1.25" fill="#8888b0"/>
<rect x="144.79" y="213.18" width="1.25" height="1.25" fill="#8888b0"/>
<rect x="163.74" y="215.27" width="1.25" height="1.25" fill="#8888b0"/>
<rect x="155.25" y="216.44" width="1.25" height="1.25" fill="#8888b0"/>
<rect x="139.68" y="216.86" width="1.25" height="1.25" fill="#8888b0"/>
<rect x="150.18" y="216.93" width="1.25" height="1.25" fill="#8888b0"/>
<rect x="164.42" y="219.62" width="1.25" height="1.25" fill="#8888b0"/>
<rect x="137.04" y="220.40" width="1.25" height="1.25" fill="#8888b0"/>
<rect x="152.85" y="221.16" width="1.25" height="1.25" fill="#8888b0"/>
<rect x="140.53" y="222.44" width="1.25" height="1.25" fill="#8888b0"/>
<rect x="167.01" y="223.35" width="1.25" height="1.25" fill="#8888b0"/>
<rect x="135.81" y="223.29" width="1.25" height="1.25" fill="#8888b0"/>
<rect x="158.44" y="224.41" width="1.25" height="1.25" fill="#8888b0"/>
<rect x="167.89" y="227.91" width="1.25" height="1.25" fill="#8888b0"/>
<rect x="139.09" y="229.05" width="1.25" height="1.25" fill="#8888b0"/>
<rect x="145.50" y="229.27" width="1.25" height="1.25" fill="#8888b0"/>
<rect x="143.89" y="228.52" width="1.25" height="1.25" fill="#8888b0"/>
<rect x="134.81" y="228.90" width="1.25" height="1.25" fill="#8888b0"/>
<rect x="155.02" y="232.33" width="1.25" height="1.25" fill="#8888b0"/>
<rect x="134.47" y="236.49" width="1.25" height="1.25" fill="#8888b0"/>
<rect x="142.85" y="237.86" width="1.25" height="1.25" fill="#8888b0"/>
<rect x="165.53" y="238.70" width="1.25" height="1.25" fill="#8888b0"/>
<rect x="151.82" y="238.86" width="1.25" height="1.25" fill="#8888b0"/>
<rect x="146.18" y="239.71" width="1.25" height="1.25" fill="#8888b0"/>
<rect x="149.61" y="239.22" width="1.25" height="1.25" fill="#8888b0"/>
<rect x="141.66" y="240.98" width="1.25" height="1.25" fill="#8888b0"/>
<rect x="144.17" y="240.95" width="1.25" height="1.25" fill="#8888b0"/>
<rect x="138.51" y="245.31" width="1.25" height="1.25" fill="#8888b0"/>
<rect x="119.40" y="196.10" width="57.70" height="51.90" fill="none" stroke="#111" stroke-width="1.2"/>
<line x1="117.60" y1="206.75" x2="119.40" y2="206.75" stroke="#111" stroke-width="0.6"/>
<text x="116.80" y="208.55" font-size="5.0" text-anchor="end" fill="#222">6000</text>
<line x1="117.60" y1="220.05" x2="119.40" y2="220.05" stroke="#111" stroke-width="0.6"/>
<text x="116.80" y="221.85" font-size="5.0" text-anchor="end" fill="#222">4000</text>
<line x1="117.60" y1="233.36" x2="119.40" y2="233.36" stroke="#111" stroke-width="0.6"/>
<text x="116.80" y="235.16" font-size="5.0" text-anchor="end" fill="#222">2000</text>
<line x1="117.60" y1="246.67" x2="119.40" y2="246.67" stroke="#111" stroke-width="0.6"/>
<text x="116.80" y="248.47" font-size="5.0" text-anchor="end" fill="#222">0</text>
<line x1="120.40" y1="248.00" x2="120.40" y2="249.60" stroke="#111" stroke-width="0.6"/>
<text x="120.40" y="255.90" font-size="5.0" text-anchor="middle" fill="#222">1.0</text>
<line x1="130.62" y1="248.00" x2="130.62" y2="249.60" stroke="#111" stroke-width="0.6"/>
<text x="130.62" y="255.90" font-size="5.0" text-anchor="middle" fill="#222">1.5</text>
<line x1="140.84" y1="248.00" x2="140.84" y2="249.60" stroke="#111" stroke-width="0.6"/>
<text x="140.84" y="255.90" font-size="5.0" text-anchor="middle" fill="#222">2.0</text>
<line x1="151.06" y1="248.00" x2="151.06" y2="249.60" stroke="#111" stroke-width="0.6"/>
<text x="151.06" y="255.90" font-size="5.0" text-anchor="middle" fill="#222">2.5</text>
<line x1="161.28" y1="248.00" x2="161.28" y2="249.60" stroke="#111" stroke-width="0.6"/>
<text x="161.28" y="255.90" font-size="5.0" text-anchor="middle" fill="#222">3.0</text>
<line x1="171.50" y1="248.00" x2="171.50" y2="249.60" stroke="#111" stroke-width="0.6"/>
<text x="171.50" y="255.90" font-size="5.0" text-anchor="middle" fill="#222">3.5</text>
<text transform="translate(223.55,189.80) scale(0.93,1)" x="0" y="0" font-size="8.3" text-anchor="middle" fill="#1a1a1a">BMP3</text>
<line x1="195.70" y1="214.26" x2="251.40" y2="232.43" stroke="#f1f1f1" stroke-width="1.7"/>
<rect x="200.04" y="209.83" width="1.25" height="1.25" fill="#8888b0"/>
<rect x="214.06" y="212.16" width="1.25" height="1.25" fill="#8888b0"/>
<rect x="208.25" y="211.26" width="1.25" height="1.25" fill="#8888b0"/>
<rect x="200.88" y="216.95" width="1.25" height="1.25" fill="#8888b0"/>
<rect x="209.84" y="216.82" width="1.25" height="1.25" fill="#8888b0"/>
<rect x="215.09" y="218.13" width="1.25" height="1.25" fill="#8888b0"/>
<rect x="203.14" y="213.21" width="1.25" height="1.25" fill="#8888b0"/>
<rect x="226.72" y="214.20" width="1.25" height="1.25" fill="#8888b0"/>
<rect x="207.31" y="220.41" width="1.25" height="1.25" fill="#8888b0"/>
<rect x="217.41" y="224.85" width="1.25" height="1.25" fill="#8888b0"/>
<rect x="212.25" y="220.28" width="1.25" height="1.25" fill="#8888b0"/>
<rect x="229.97" y="224.14" width="1.25" height="1.25" fill="#8888b0"/>
<rect x="235.87" y="227.64" width="1.25" height="1.25" fill="#8888b0"/>
<rect x="203.68" y="229.40" width="1.25" height="1.25" fill="#8888b0"/>
<rect x="219.95" y="232.15" width="1.25" height="1.25" fill="#8888b0"/>
<rect x="216.55" y="233.88" width="1.25" height="1.25" fill="#8888b0"/>
<rect x="223.15" y="236.59" width="1.25" height="1.25" fill="#8888b0"/>
<rect x="237.23" y="238.00" width="1.25" height="1.25" fill="#8888b0"/>
<rect x="230.28" y="239.71" width="1.25" height="1.25" fill="#8888b0"/>
<rect x="225.00" y="242.57" width="1.25" height="1.25" fill="#8888b0"/>
<rect x="219.54" y="242.12" width="1.25" height="1.25" fill="#8888b0"/>
<rect x="205.96" y="197.15" width="1.25" height="1.25" fill="#8888b0"/>
<rect x="204.11" y="200.03" width="1.25" height="1.25" fill="#8888b0"/>
<rect x="211.13" y="200.26" width="1.25" height="1.25" fill="#8888b0"/>
<rect x="211.68" y="202.45" width="1.25" height="1.25" fill="#8888b0"/>
<rect x="238.34" y="204.62" width="1.25" height="1.25" fill="#8888b0"/>
<rect x="201.29" y="207.37" width="1.25" height="1.25" fill="#8888b0"/>
<rect x="217.79" y="208.48" width="1.25" height="1.25" fill="#8888b0"/>
<rect x="234.87" y="208.72" width="1.25" height="1.25" fill="#8888b0"/>
<rect x="199.53" y="210.87" width="1.25" height="1.25" fill="#8888b0"/>
<rect x="213.01" y="213.18" width="1.25" height="1.25" fill="#8888b0"/>
<rect x="229.03" y="215.25" width="1.25" height="1.25" fill="#8888b0"/>
<rect x="221.89" y="216.64" width="1.25" height="1.25" fill="#8888b0"/>
<rect x="236.53" y="216.78" width="1.25" height="1.25" fill="#8888b0"/>
<rect x="198.55" y="216.70" width="1.25" height="1.25" fill="#8888b0"/>
<rect x="221.28" y="219.27" width="1.25" height="1.25" fill="#8888b0"/>
<rect x="216.18" y="220.86" width="1.25" height="1.25" fill="#8888b0"/>
<rect x="206.40" y="221.26" width="1.25" height="1.25" fill="#8888b0"/>
<rect x="231.14" y="222.51" width="1.25" height="1.25" fill="#8888b0"/>
<rect x="232.42" y="223.03" width="1.25" height="1.25" fill="#8888b0"/>
<rect x="222.72" y="223.75" width="1.25" height="1.25" fill="#8888b0"/>
<rect x="208.74" y="224.42" width="1.25" height="1.25" fill="#8888b0"/>
<rect x="224.50" y="227.72" width="1.25" height="1.25" fill="#8888b0"/>
<rect x="209.62" y="228.97" width="1.25" height="1.25" fill="#8888b0"/>
<rect x="205.51" y="228.94" width="1.25" height="1.25" fill="#8888b0"/>
<rect x="233.38" y="228.36" width="1.25" height="1.25" fill="#8888b0"/>
<rect x="228.38" y="228.99" width="1.25" height="1.25" fill="#8888b0"/>
<rect x="231.53" y="232.21" width="1.25" height="1.25" fill="#8888b0"/>
<rect x="214.83" y="236.60" width="1.25" height="1.25" fill="#8888b0"/>
<rect x="223.64" y="237.79" width="1.25" height="1.25" fill="#8888b0"/>
<rect x="233.81" y="238.74" width="1.25" height="1.25" fill="#8888b0"/>
<rect x="226.03" y="239.13" width="1.25" height="1.25" fill="#8888b0"/>
<rect x="201.92" y="239.74" width="1.25" height="1.25" fill="#8888b0"/>
<rect x="218.73" y="239.46" width="1.25" height="1.25" fill="#8888b0"/>
<rect x="235.39" y="240.83" width="1.25" height="1.25" fill="#8888b0"/>
<rect x="227.30" y="241.17" width="1.25" height="1.25" fill="#8888b0"/>
<rect x="238.80" y="245.08" width="1.25" height="1.25" fill="#8888b0"/>
<rect x="194.70" y="196.10" width="57.70" height="51.90" fill="none" stroke="#111" stroke-width="1.2"/>
<line x1="192.90" y1="206.75" x2="194.70" y2="206.75" stroke="#111" stroke-width="0.6"/>
<text x="192.10" y="208.55" font-size="5.0" text-anchor="end" fill="#222">6000</text>
<line x1="192.90" y1="220.05" x2="194.70" y2="220.05" stroke="#111" stroke-width="0.6"/>
<text x="192.10" y="221.85" font-size="5.0" text-anchor="end" fill="#222">4000</text>
<line x1="192.90" y1="233.36" x2="194.70" y2="233.36" stroke="#111" stroke-width="0.6"/>
<text x="192.10" y="235.16" font-size="5.0" text-anchor="end" fill="#222">2000</text>
<line x1="192.90" y1="246.67" x2="194.70" y2="246.67" stroke="#111" stroke-width="0.6"/>
<text x="192.10" y="248.47" font-size="5.0" text-anchor="end" fill="#222">0</text>
<line x1="207.00" y1="248.00" x2="207.00" y2="249.60" stroke="#111" stroke-width="0.6"/>
<text x="207.00" y="255.90" font-size="5.0" text-anchor="middle" fill="#222">2</text>
<line x1="221.20" y1="248.00" x2="221.20" y2="249.60" stroke="#111" stroke-width="0.6"/>
<text x="221.20" y="255.90" font-size="5.0" text-anchor="middle" fill="#222">4</text>
<line x1="235.40" y1="248.00" x2="235.40" y2="249.60" stroke="#111" stroke-width="0.6"/>
<text x="235.40" y="255.90" font-size="5.0" text-anchor="middle" fill="#222">6</text>
<line x1="249.60" y1="248.00" x2="249.60" y2="249.60" stroke="#111" stroke-width="0.6"/>
<text x="249.60" y="255.90" font-size="5.0" text-anchor="middle" fill="#222">8</text>
<text x="369.70" y="32.90" font-size="11.4" textLength="59.10" lengthAdjust="spacingAndGlyphs">Final Model</text>
<circle cx="388.50" cy="93.40" r="1.65" fill="#a42624"/>
<circle cx="382.50" cy="99.00" r="1.65" fill="#a42624"/>
<circle cx="383.60" cy="97.90" r="1.65" fill="#a42624"/>
<circle cx="378.50" cy="113.10" r="1.65" fill="#a42624"/>
<circle cx="394.70" cy="112.40" r="1.65" fill="#a42624"/>
<circle cx="397.80" cy="116.80" r="1.65" fill="#a42624"/>
<circle cx="408.60" cy="101.80" r="1.65" fill="#a42624"/>
<circle cx="401.70" cy="104.70" r="1.65" fill="#a42624"/>
<circle cx="418.20" cy="122.50" r="1.65" fill="#a42624"/>
<circle cx="393.40" cy="135.70" r="1.65" fill="#a42624"/>
<circle cx="365.80" cy="122.70" r="1.65" fill="#a42624"/>
<circle cx="344.40" cy="133.60" r="1.65" fill="#a42624"/>
<circle cx="368.80" cy="143.40" r="1.65" fill="#a42624"/>
<circle cx="367.20" cy="148.60" r="1.65" fill="#a42624"/>
<circle cx="396.40" cy="155.00" r="1.65" fill="#a42624"/>
<circle cx="399.50" cy="160.00" r="1.65" fill="#a42624"/>
<circle cx="392.00" cy="168.80" r="1.65" fill="#a42624"/>
<circle cx="342.70" cy="171.20" r="1.65" fill="#a42624"/>
<circle cx="330.00" cy="176.70" r="1.65" fill="#a42624"/>
<circle cx="357.10" cy="184.10" r="1.65" fill="#a42624"/>
<circle cx="363.50" cy="183.80" r="1.65" fill="#a42624"/>
<circle cx="411.30" cy="57.10" r="1.65" fill="#1515a6"/>
<circle cx="389.10" cy="66.30" r="1.65" fill="#1515a6"/>
<circle cx="411.90" cy="66.90" r="1.65" fill="#1515a6"/>
<circle cx="421.70" cy="72.40" r="1.65" fill="#1515a6"/>
<circle cx="444.50" cy="78.20" r="1.65" fill="#1515a6"/>
<circle cx="413.80" cy="86.40" r="1.65" fill="#1515a6"/>
<circle cx="401.30" cy="88.80" r="1.65" fill="#1515a6"/>
<circle cx="406.30" cy="90.30" r="1.65" fill="#1515a6"/>
<circle cx="415.60" cy="95.30" r="1.65" fill="#1515a6"/>
<circle cx="415.40" cy="102.60" r="1.65" fill="#1515a6"/>
<circle cx="406.50" cy="107.70" r="1.65" fill="#1515a6"/>
<circle cx="398.50" cy="111.80" r="1.65" fill="#1515a6"/>
<circle cx="405.70" cy="113.10" r="1.65" fill="#1515a6"/>
<circle cx="412.00" cy="113.10" r="1.65" fill="#1515a6"/>
<circle cx="400.80" cy="119.70" r="1.65" fill="#1515a6"/>
<circle cx="399.10" cy="123.50" r="1.65" fill="#1515a6"/>
<circle cx="446.60" cy="125.20" r="1.65" fill="#1515a6"/>
<circle cx="387.30" cy="128.30" r="1.65" fill="#1515a6"/>
<circle cx="397.50" cy="130.50" r="1.65" fill="#1515a6"/>
<circle cx="417.80" cy="131.40" r="1.65" fill="#1515a6"/>
<circle cx="399.30" cy="134.20" r="1.65" fill="#1515a6"/>
<circle cx="364.60" cy="143.70" r="1.65" fill="#1515a6"/>
<circle cx="369.10" cy="147.40" r="1.65" fill="#1515a6"/>
<circle cx="380.40" cy="147.10" r="1.65" fill="#1515a6"/>
<circle cx="408.40" cy="145.60" r="1.65" fill="#1515a6"/>
<circle cx="412.20" cy="147.30" r="1.65" fill="#1515a6"/>
<circle cx="376.20" cy="156.60" r="1.65" fill="#1515a6"/>
<circle cx="341.00" cy="167.90" r="1.65" fill="#1515a6"/>
<circle cx="354.80" cy="170.80" r="1.65" fill="#1515a6"/>
<circle cx="338.10" cy="174.30" r="1.65" fill="#1515a6"/>
<circle cx="358.60" cy="174.30" r="1.65" fill="#1515a6"/>
<circle cx="335.20" cy="176.10" r="1.65" fill="#1515a6"/>
<circle cx="378.90" cy="175.80" r="1.65" fill="#1515a6"/>
<circle cx="344.80" cy="180.20" r="1.65" fill="#1515a6"/>
<circle cx="374.60" cy="180.10" r="1.65" fill="#1515a6"/>
<circle cx="359.30" cy="192.20" r="1.65" fill="#1515a6"/>
<rect x="309.50" y="40.40" width="179.50" height="160.40" fill="none" stroke="#111" stroke-width="1.3"/>
<line x1="306.30" y1="194.50" x2="309.50" y2="194.50" stroke="#111" stroke-width="1.0"/>
<text transform="translate(302.50,197.20) scale(1.07,1)" x="0" y="0" font-size="9.3" text-anchor="end" fill="#111">0</text>
<line x1="306.30" y1="157.25" x2="309.50" y2="157.25" stroke="#111" stroke-width="1.0"/>
<text transform="translate(302.50,159.95) scale(1.07,1)" x="0" y="0" font-size="9.3" text-anchor="end" fill="#111">2000</text>
<line x1="306.30" y1="120.00" x2="309.50" y2="120.00" stroke="#111" stroke-width="1.0"/>
<text transform="translate(302.50,122.70) scale(1.07,1)" x="0" y="0" font-size="9.3" text-anchor="end" fill="#111">4000</text>
<line x1="306.30" y1="82.75" x2="309.50" y2="82.75" stroke="#111" stroke-width="1.0"/>
<text transform="translate(302.50,85.45) scale(1.07,1)" x="0" y="0" font-size="9.3" text-anchor="end" fill="#111">6000</text>
<line x1="306.30" y1="45.50" x2="309.50" y2="45.50" stroke="#111" stroke-width="1.0"/>
<text transform="translate(302.50,48.20) scale(1.07,1)" x="0" y="0" font-size="9.3" text-anchor="end" fill="#111">8000</text>
<line x1="316.25" y1="200.80" x2="316.25" y2="204.00" stroke="#111" stroke-width="1.0"/>
<text transform="translate(316.25,216.40) scale(1.07,1)" x="0" y="0" font-size="9.3" text-anchor="middle" fill="#111">0</text>
<line x1="357.75" y1="200.80" x2="357.75" y2="204.00" stroke="#111" stroke-width="1.0"/>
<text transform="translate(357.75,216.40) scale(1.07,1)" x="0" y="0" font-size="9.3" text-anchor="middle" fill="#111">2000</text>
<line x1="399.25" y1="200.80" x2="399.25" y2="204.00" stroke="#111" stroke-width="1.0"/>
<text transform="translate(399.25,216.40) scale(1.07,1)" x="0" y="0" font-size="9.3" text-anchor="middle" fill="#111">4000</text>
<line x1="440.75" y1="200.80" x2="440.75" y2="204.00" stroke="#111" stroke-width="1.0"/>
<text transform="translate(440.75,216.40) scale(1.07,1)" x="0" y="0" font-size="9.3" text-anchor="middle" fill="#111">6000</text>
<line x1="482.25" y1="200.80" x2="482.25" y2="204.00" stroke="#111" stroke-width="1.0"/>
<text transform="translate(482.25,216.40) scale(1.07,1)" x="0" y="0" font-size="9.3" text-anchor="middle" fill="#111">8000</text>
<text x="342.90" y="234.20" font-size="13.0" textLength="113.80" lengthAdjust="spacingAndGlyphs">Predicted Levels (mg/dl)</text>
<text transform="translate(273.80,164.20) rotate(-90)" font-size="12.8" textLength="88.20" lengthAdjust="spacingAndGlyphs">Serum IgM (mg/dl)</text>
<text x="302.65" y="249.60" font-size="9.2" font-style="italic" textLength="98.30" lengthAdjust="spacingAndGlyphs">Adjusted R-squared: 0.4</text>
<text x="408.80" y="249.60" font-size="9.2" font-style="italic" textLength="95.60" lengthAdjust="spacingAndGlyphs">Training RMSE: 1,270.3</text>
<text x="302.65" y="263.40" font-size="9.2" font-style="italic" textLength="71.50" lengthAdjust="spacingAndGlyphs">P-value: 3.129e-5</text>
<text x="408.80" y="263.40" font-size="9.2" font-style="italic" textLength="101.90" lengthAdjust="spacingAndGlyphs">Validation RMSE: 1,340.1</text>
<text x="8.10" y="303.55" font-size="14.2" font-weight="bold">B</text>
<text x="201.40" y="302.50" font-size="11.6" textLength="135.70" lengthAdjust="spacingAndGlyphs">Bone Marrow Involvement</text>
<text transform="translate(14.90,484.50) rotate(-90)" font-size="9.2" textLength="116.10" lengthAdjust="spacingAndGlyphs">Bone Marrow Involvement (%)</text>
<path d="M27.20,517.00 L27.20,340.80 L23.50,348.80" fill="none" stroke="#111" stroke-width="1.5" stroke-linejoin="miter"/>
<path d="M55.5,545.05 L232.3,545.05 L223.6,548.35" fill="none" stroke="#111" stroke-width="1.5"/>
<text x="95.40" y="561.55" font-size="9.1" textLength="97.00" lengthAdjust="spacingAndGlyphs">Gene Expression (TpM)</text>
<text transform="translate(71.50,318.35) scale(0.93,1)" x="0" y="0" font-size="8.3" text-anchor="middle" fill="#1a1a1a">CDC23</text>
<line x1="43.70" y1="327.22" x2="99.30" y2="371.00" stroke="#f1f1f1" stroke-width="1.7"/>
<rect x="58.90" y="325.24" width="1.25" height="1.25" fill="#8888b0"/>
<rect x="57.98" y="325.24" width="1.25" height="1.25" fill="#8888b0"/>
<rect x="49.98" y="325.24" width="1.25" height="1.25" fill="#8888b0"/>
<rect x="66.55" y="327.92" width="1.25" height="1.25" fill="#8888b0"/>
<rect x="55.36" y="327.92" width="1.25" height="1.25" fill="#8888b0"/>
<rect x="53.87" y="327.92" width="1.25" height="1.25" fill="#8888b0"/>
<rect x="74.53" y="327.92" width="1.25" height="1.25" fill="#8888b0"/>
<rect x="51.88" y="327.92" width="1.25" height="1.25" fill="#8888b0"/>
<rect x="68.63" y="327.92" width="1.25" height="1.25" fill="#8888b0"/>
<rect x="65.40" y="333.38" width="1.25" height="1.25" fill="#8888b0"/>
<rect x="72.44" y="333.38" width="1.25" height="1.25" fill="#8888b0"/>
<rect x="69.90" y="338.77" width="1.25" height="1.25" fill="#8888b0"/>
<rect x="63.57" y="338.77" width="1.25" height="1.25" fill="#8888b0"/>
<rect x="72.90" y="344.09" width="1.25" height="1.25" fill="#8888b0"/>
<rect x="70.32" y="344.09" width="1.25" height="1.25" fill="#8888b0"/>
<rect x="64.51" y="349.52" width="1.25" height="1.25" fill="#8888b0"/>
<rect x="62.45" y="349.52" width="1.25" height="1.25" fill="#8888b0"/>
<rect x="71.76" y="354.91" width="1.25" height="1.25" fill="#8888b0"/>
<rect x="71.35" y="354.91" width="1.25" height="1.25" fill="#8888b0"/>
<rect x="66.47" y="354.91" width="1.25" height="1.25" fill="#8888b0"/>
<rect x="76.06" y="354.91" width="1.25" height="1.25" fill="#8888b0"/>
<rect x="59.13" y="365.66" width="1.25" height="1.25" fill="#8888b0"/>
<rect x="82.93" y="373.73" width="1.25" height="1.25" fill="#8888b0"/>
<rect x="82.44" y="373.73" width="1.25" height="1.25" fill="#8888b0"/>
<rect x="75.67" y="373.73" width="1.25" height="1.25" fill="#8888b0"/>
<rect x="50.52" y="325.24" width="1.25" height="1.25" fill="#8888b0"/>
<rect x="64.65" y="327.92" width="1.25" height="1.25" fill="#8888b0"/>
<rect x="73.87" y="327.92" width="1.25" height="1.25" fill="#8888b0"/>
<rect x="54.58" y="327.92" width="1.25" height="1.25" fill="#8888b0"/>
<rect x="54.77" y="330.56" width="1.25" height="1.25" fill="#8888b0"/>
<rect x="77.70" y="333.38" width="1.25" height="1.25" fill="#8888b0"/>
<rect x="68.22" y="333.38" width="1.25" height="1.25" fill="#8888b0"/>
<rect x="60.37" y="333.38" width="1.25" height="1.25" fill="#8888b0"/>
<rect x="63.12" y="333.38" width="1.25" height="1.25" fill="#8888b0"/>
<rect x="49.48" y="333.38" width="1.25" height="1.25" fill="#8888b0"/>
<rect x="52.20" y="335.99" width="1.25" height="1.25" fill="#8888b0"/>
<rect x="60.88" y="335.99" width="1.25" height="1.25" fill="#8888b0"/>
<rect x="83.74" y="338.77" width="1.25" height="1.25" fill="#8888b0"/>
<rect x="53.01" y="338.77" width="1.25" height="1.25" fill="#8888b0"/>
<rect x="62.03" y="338.77" width="1.25" height="1.25" fill="#8888b0"/>
<rect x="56.34" y="344.09" width="1.25" height="1.25" fill="#8888b0"/>
<rect x="51.06" y="344.09" width="1.25" height="1.25" fill="#8888b0"/>
<rect x="59.93" y="346.81" width="1.25" height="1.25" fill="#8888b0"/>
<rect x="57.59" y="349.52" width="1.25" height="1.25" fill="#8888b0"/>
<rect x="67.67" y="352.16" width="1.25" height="1.25" fill="#8888b0"/>
<rect x="80.01" y="354.91" width="1.25" height="1.25" fill="#8888b0"/>
<rect x="81.33" y="354.91" width="1.25" height="1.25" fill="#8888b0"/>
<rect x="79.40" y="360.34" width="1.25" height="1.25" fill="#8888b0"/>
<rect x="56.57" y="360.34" width="1.25" height="1.25" fill="#8888b0"/>
<rect x="84.05" y="365.66" width="1.25" height="1.25" fill="#8888b0"/>
<rect x="77.66" y="365.66" width="1.25" height="1.25" fill="#8888b0"/>
<rect x="74.81" y="365.66" width="1.25" height="1.25" fill="#8888b0"/>
<rect x="80.66" y="357.52" width="1.25" height="1.25" fill="#8888b0"/>
<rect x="78.65" y="360.30" width="1.25" height="1.25" fill="#8888b0"/>
<rect x="69.06" y="360.30" width="1.25" height="1.25" fill="#8888b0"/>
<rect x="81.51" y="362.98" width="1.25" height="1.25" fill="#8888b0"/>
<rect x="76.75" y="371.05" width="1.25" height="1.25" fill="#8888b0"/>
<rect x="42.70" y="324.65" width="57.60" height="51.50" fill="none" stroke="#111" stroke-width="1.2"/>
<line x1="40.90" y1="334.04" x2="42.70" y2="334.04" stroke="#111" stroke-width="0.6"/>
<text x="40.10" y="335.84" font-size="5.0" text-anchor="end" fill="#222">80</text>
<line x1="40.90" y1="344.77" x2="42.70" y2="344.77" stroke="#111" stroke-width="0.6"/>
<text x="40.10" y="346.57" font-size="5.0" text-anchor="end" fill="#222">60</text>
<line x1="40.90" y1="355.50" x2="42.70" y2="355.50" stroke="#111" stroke-width="0.6"/>
<text x="40.10" y="357.30" font-size="5.0" text-anchor="end" fill="#222">40</text>
<line x1="40.90" y1="366.23" x2="42.70" y2="366.23" stroke="#111" stroke-width="0.6"/>
<text x="40.10" y="368.03" font-size="5.0" text-anchor="end" fill="#222">20</text>
<line x1="42.90" y1="376.15" x2="42.90" y2="377.75" stroke="#111" stroke-width="0.6"/>
<text x="42.90" y="384.05" font-size="5.0" text-anchor="middle" fill="#222">3.0</text>
<line x1="53.50" y1="376.15" x2="53.50" y2="377.75" stroke="#111" stroke-width="0.6"/>
<text x="53.50" y="384.05" font-size="5.0" text-anchor="middle" fill="#222">3.5</text>
<line x1="64.10" y1="376.15" x2="64.10" y2="377.75" stroke="#111" stroke-width="0.6"/>
<text x="64.10" y="384.05" font-size="5.0" text-anchor="middle" fill="#222">4.0</text>
<line x1="74.70" y1="376.15" x2="74.70" y2="377.75" stroke="#111" stroke-width="0.6"/>
<text x="74.70" y="384.05" font-size="5.0" text-anchor="middle" fill="#222">4.5</text>
<line x1="85.30" y1="376.15" x2="85.30" y2="377.75" stroke="#111" stroke-width="0.6"/>
<text x="85.30" y="384.05" font-size="5.0" text-anchor="middle" fill="#222">5.0</text>
<line x1="95.90" y1="376.15" x2="95.90" y2="377.75" stroke="#111" stroke-width="0.6"/>
<text x="95.90" y="384.05" font-size="5.0" text-anchor="middle" fill="#222">5.5</text>
<text transform="translate(147.65,318.35) scale(0.93,1)" x="0" y="0" font-size="8.3" text-anchor="middle" fill="#1a1a1a">AKAP1</text>
<line x1="119.80" y1="324.65" x2="175.50" y2="371.00" stroke="#f1f1f1" stroke-width="1.7"/>
<rect x="136.56" y="325.24" width="1.25" height="1.25" fill="#8888b0"/>
<rect x="134.84" y="325.24" width="1.25" height="1.25" fill="#8888b0"/>
<rect x="125.55" y="325.24" width="1.25" height="1.25" fill="#8888b0"/>
<rect x="138.91" y="327.92" width="1.25" height="1.25" fill="#8888b0"/>
<rect x="132.61" y="327.92" width="1.25" height="1.25" fill="#8888b0"/>
<rect x="154.29" y="327.92" width="1.25" height="1.25" fill="#8888b0"/>
<rect x="130.12" y="327.92" width="1.25" height="1.25" fill="#8888b0"/>
<rect x="151.70" y="327.92" width="1.25" height="1.25" fill="#8888b0"/>
<rect x="160.21" y="327.92" width="1.25" height="1.25" fill="#8888b0"/>
<rect x="157.38" y="333.38" width="1.25" height="1.25" fill="#8888b0"/>
<rect x="137.65" y="333.38" width="1.25" height="1.25" fill="#8888b0"/>
<rect x="146.45" y="338.77" width="1.25" height="1.25" fill="#8888b0"/>
<rect x="154.02" y="338.77" width="1.25" height="1.25" fill="#8888b0"/>
<rect x="127.82" y="344.09" width="1.25" height="1.25" fill="#8888b0"/>
<rect x="143.51" y="344.09" width="1.25" height="1.25" fill="#8888b0"/>
<rect x="143.14" y="349.52" width="1.25" height="1.25" fill="#8888b0"/>
<rect x="133.79" y="349.52" width="1.25" height="1.25" fill="#8888b0"/>
<rect x="141.11" y="354.91" width="1.25" height="1.25" fill="#8888b0"/>
<rect x="152.43" y="354.91" width="1.25" height="1.25" fill="#8888b0"/>
<rect x="162.20" y="354.91" width="1.25" height="1.25" fill="#8888b0"/>
<rect x="149.01" y="354.91" width="1.25" height="1.25" fill="#8888b0"/>
<rect x="155.65" y="365.66" width="1.25" height="1.25" fill="#8888b0"/>
<rect x="159.34" y="373.73" width="1.25" height="1.25" fill="#8888b0"/>
<rect x="145.05" y="373.73" width="1.25" height="1.25" fill="#8888b0"/>
<rect x="162.78" y="373.73" width="1.25" height="1.25" fill="#8888b0"/>
<rect x="128.57" y="325.24" width="1.25" height="1.25" fill="#8888b0"/>
<rect x="131.86" y="327.92" width="1.25" height="1.25" fill="#8888b0"/>
<rect x="128.24" y="327.92" width="1.25" height="1.25" fill="#8888b0"/>
<rect x="126.49" y="327.92" width="1.25" height="1.25" fill="#8888b0"/>
<rect x="132.09" y="330.56" width="1.25" height="1.25" fill="#8888b0"/>
<rect x="142.26" y="333.38" width="1.25" height="1.25" fill="#8888b0"/>
<rect x="136.74" y="333.38" width="1.25" height="1.25" fill="#8888b0"/>
<rect x="126.58" y="333.38" width="1.25" height="1.25" fill="#8888b0"/>
<rect x="139.91" y="333.38" width="1.25" height="1.25" fill="#8888b0"/>
<rect x="129.44" y="333.38" width="1.25" height="1.25" fill="#8888b0"/>
<rect x="148.52" y="335.99" width="1.25" height="1.25" fill="#8888b0"/>
<rect x="140.41" y="335.99" width="1.25" height="1.25" fill="#8888b0"/>
<rect x="144.19" y="338.77" width="1.25" height="1.25" fill="#8888b0"/>
<rect x="134.52" y="338.77" width="1.25" height="1.25" fill="#8888b0"/>
<rect x="145.75" y="338.77" width="1.25" height="1.25" fill="#8888b0"/>
<rect x="151.26" y="344.09" width="1.25" height="1.25" fill="#8888b0"/>
<rect x="158.02" y="344.09" width="1.25" height="1.25" fill="#8888b0"/>
<rect x="135.74" y="346.81" width="1.25" height="1.25" fill="#8888b0"/>
<rect x="153.03" y="349.52" width="1.25" height="1.25" fill="#8888b0"/>
<rect x="138.47" y="352.16" width="1.25" height="1.25" fill="#8888b0"/>
<rect x="141.35" y="354.91" width="1.25" height="1.25" fill="#8888b0"/>
<rect x="149.91" y="354.91" width="1.25" height="1.25" fill="#8888b0"/>
<rect x="156.33" y="360.34" width="1.25" height="1.25" fill="#8888b0"/>
<rect x="150.33" y="360.34" width="1.25" height="1.25" fill="#8888b0"/>
<rect x="147.93" y="365.66" width="1.25" height="1.25" fill="#8888b0"/>
<rect x="161.34" y="365.66" width="1.25" height="1.25" fill="#8888b0"/>
<rect x="161.84" y="365.66" width="1.25" height="1.25" fill="#8888b0"/>
<rect x="130.96" y="357.52" width="1.25" height="1.25" fill="#8888b0"/>
<rect x="155.18" y="360.30" width="1.25" height="1.25" fill="#8888b0"/>
<rect x="147.00" y="360.30" width="1.25" height="1.25" fill="#8888b0"/>
<rect x="158.69" y="362.98" width="1.25" height="1.25" fill="#8888b0"/>
<rect x="159.62" y="371.05" width="1.25" height="1.25" fill="#8888b0"/>
<rect x="118.80" y="324.65" width="57.70" height="51.50" fill="none" stroke="#111" stroke-width="1.2"/>
<line x1="117.00" y1="334.04" x2="118.80" y2="334.04" stroke="#111" stroke-width="0.6"/>
<text x="116.20" y="335.84" font-size="5.0" text-anchor="end" fill="#222">80</text>
<line x1="117.00" y1="344.77" x2="118.80" y2="344.77" stroke="#111" stroke-width="0.6"/>
<text x="116.20" y="346.57" font-size="5.0" text-anchor="end" fill="#222">60</text>
<line x1="117.00" y1="355.50" x2="118.80" y2="355.50" stroke="#111" stroke-width="0.6"/>
<text x="116.20" y="357.30" font-size="5.0" text-anchor="end" fill="#222">40</text>
<line x1="117.00" y1="366.23" x2="118.80" y2="366.23" stroke="#111" stroke-width="0.6"/>
<text x="116.20" y="368.03" font-size="5.0" text-anchor="end" fill="#222">20</text>
<line x1="121.10" y1="376.15" x2="121.10" y2="377.75" stroke="#111" stroke-width="0.6"/>
<text x="121.10" y="384.05" font-size="5.0" text-anchor="middle" fill="#222">2.5</text>
<line x1="133.97" y1="376.15" x2="133.97" y2="377.75" stroke="#111" stroke-width="0.6"/>
<text x="133.97" y="384.05" font-size="5.0" text-anchor="middle" fill="#222">3.0</text>
<line x1="146.85" y1="376.15" x2="146.85" y2="377.75" stroke="#111" stroke-width="0.6"/>
<text x="146.85" y="384.05" font-size="5.0" text-anchor="middle" fill="#222">3.5</text>
<line x1="159.72" y1="376.15" x2="159.72" y2="377.75" stroke="#111" stroke-width="0.6"/>
<text x="159.72" y="384.05" font-size="5.0" text-anchor="middle" fill="#222">4.0</text>
<line x1="172.60" y1="376.15" x2="172.60" y2="377.75" stroke="#111" stroke-width="0.6"/>
<text x="172.60" y="384.05" font-size="5.0" text-anchor="middle" fill="#222">4.5</text>
<text transform="translate(222.95,318.35) scale(0.93,1)" x="0" y="0" font-size="8.3" text-anchor="middle" fill="#1a1a1a">KDM1B</text>
<line x1="195.10" y1="324.65" x2="250.80" y2="376.15" stroke="#f1f1f1" stroke-width="1.7"/>
<rect x="200.11" y="325.24" width="1.25" height="1.25" fill="#8888b0"/>
<rect x="201.97" y="325.24" width="1.25" height="1.25" fill="#8888b0"/>
<rect x="204.19" y="325.24" width="1.25" height="1.25" fill="#8888b0"/>
<rect x="209.27" y="327.92" width="1.25" height="1.25" fill="#8888b0"/>
<rect x="205.49" y="327.92" width="1.25" height="1.25" fill="#8888b0"/>
<rect x="205.01" y="327.92" width="1.25" height="1.25" fill="#8888b0"/>
<rect x="208.44" y="327.92" width="1.25" height="1.25" fill="#8888b0"/>
<rect x="198.09" y="327.92" width="1.25" height="1.25" fill="#8888b0"/>
<rect x="223.16" y="327.92" width="1.25" height="1.25" fill="#8888b0"/>
<rect x="210.05" y="333.38" width="1.25" height="1.25" fill="#8888b0"/>
<rect x="212.56" y="333.38" width="1.25" height="1.25" fill="#8888b0"/>
<rect x="214.87" y="338.77" width="1.25" height="1.25" fill="#8888b0"/>
<rect x="206.58" y="338.77" width="1.25" height="1.25" fill="#8888b0"/>
<rect x="202.83" y="344.09" width="1.25" height="1.25" fill="#8888b0"/>
<rect x="201.12" y="344.09" width="1.25" height="1.25" fill="#8888b0"/>
<rect x="217.12" y="349.52" width="1.25" height="1.25" fill="#8888b0"/>
<rect x="226.62" y="349.52" width="1.25" height="1.25" fill="#8888b0"/>
<rect x="221.44" y="354.91" width="1.25" height="1.25" fill="#8888b0"/>
<rect x="211.85" y="354.91" width="1.25" height="1.25" fill="#8888b0"/>
<rect x="225.33" y="354.91" width="1.25" height="1.25" fill="#8888b0"/>
<rect x="217.64" y="354.91" width="1.25" height="1.25" fill="#8888b0"/>
<rect x="227.72" y="365.66" width="1.25" height="1.25" fill="#8888b0"/>
<rect x="225.73" y="373.73" width="1.25" height="1.25" fill="#8888b0"/>
<rect x="220.63" y="373.73" width="1.25" height="1.25" fill="#8888b0"/>
<rect x="223.88" y="373.73" width="1.25" height="1.25" fill="#8888b0"/>
<rect x="210.84" y="325.24" width="1.25" height="1.25" fill="#8888b0"/>
<rect x="203.38" y="327.92" width="1.25" height="1.25" fill="#8888b0"/>
<rect x="222.40" y="327.92" width="1.25" height="1.25" fill="#8888b0"/>
<rect x="199.30" y="327.92" width="1.25" height="1.25" fill="#8888b0"/>
<rect x="198.51" y="330.56" width="1.25" height="1.25" fill="#8888b0"/>
<rect x="205.78" y="333.38" width="1.25" height="1.25" fill="#8888b0"/>
<rect x="200.00" y="333.38" width="1.25" height="1.25" fill="#8888b0"/>
<rect x="203.59" y="333.38" width="1.25" height="1.25" fill="#8888b0"/>
<rect x="211.32" y="333.38" width="1.25" height="1.25" fill="#8888b0"/>
<rect x="208.91" y="333.38" width="1.25" height="1.25" fill="#8888b0"/>
<rect x="221.23" y="335.99" width="1.25" height="1.25" fill="#8888b0"/>
<rect x="218.04" y="335.99" width="1.25" height="1.25" fill="#8888b0"/>
<rect x="219.51" y="338.77" width="1.25" height="1.25" fill="#8888b0"/>
<rect x="213.84" y="338.77" width="1.25" height="1.25" fill="#8888b0"/>
<rect x="201.54" y="338.77" width="1.25" height="1.25" fill="#8888b0"/>
<rect x="216.58" y="344.09" width="1.25" height="1.25" fill="#8888b0"/>
<rect x="213.25" y="344.09" width="1.25" height="1.25" fill="#8888b0"/>
<rect x="213.65" y="346.81" width="1.25" height="1.25" fill="#8888b0"/>
<rect x="222.75" y="349.52" width="1.25" height="1.25" fill="#8888b0"/>
<rect x="226.45" y="352.16" width="1.25" height="1.25" fill="#8888b0"/>
<rect x="207.65" y="354.91" width="1.25" height="1.25" fill="#8888b0"/>
<rect x="215.91" y="354.91" width="1.25" height="1.25" fill="#8888b0"/>
<rect x="207.04" y="360.34" width="1.25" height="1.25" fill="#8888b0"/>
<rect x="219.92" y="360.34" width="1.25" height="1.25" fill="#8888b0"/>
<rect x="229.78" y="365.66" width="1.25" height="1.25" fill="#8888b0"/>
<rect x="215.50" y="365.66" width="1.25" height="1.25" fill="#8888b0"/>
<rect x="218.91" y="365.66" width="1.25" height="1.25" fill="#8888b0"/>
<rect x="227.54" y="357.52" width="1.25" height="1.25" fill="#8888b0"/>
<rect x="228.89" y="360.30" width="1.25" height="1.25" fill="#8888b0"/>
<rect x="224.73" y="360.30" width="1.25" height="1.25" fill="#8888b0"/>
<rect x="228.78" y="362.98" width="1.25" height="1.25" fill="#8888b0"/>
<rect x="230.24" y="371.05" width="1.25" height="1.25" fill="#8888b0"/>
<rect x="194.10" y="324.65" width="57.70" height="51.50" fill="none" stroke="#111" stroke-width="1.2"/>
<line x1="192.30" y1="334.04" x2="194.10" y2="334.04" stroke="#111" stroke-width="0.6"/>
<text x="191.50" y="335.84" font-size="5.0" text-anchor="end" fill="#222">80</text>
<line x1="192.30" y1="344.77" x2="194.10" y2="344.77" stroke="#111" stroke-width="0.6"/>
<text x="191.50" y="346.57" font-size="5.0" text-anchor="end" fill="#222">60</text>
<line x1="192.30" y1="355.50" x2="194.10" y2="355.50" stroke="#111" stroke-width="0.6"/>
<text x="191.50" y="357.30" font-size="5.0" text-anchor="end" fill="#222">40</text>
<line x1="192.30" y1="366.23" x2="194.10" y2="366.23" stroke="#111" stroke-width="0.6"/>
<text x="191.50" y="368.03" font-size="5.0" text-anchor="end" fill="#222">20</text>
<line x1="198.70" y1="376.15" x2="198.70" y2="377.75" stroke="#111" stroke-width="0.6"/>
<text x="198.70" y="384.05" font-size="5.0" text-anchor="middle" fill="#222">3.5</text>
<line x1="206.80" y1="376.15" x2="206.80" y2="377.75" stroke="#111" stroke-width="0.6"/>
<text x="206.80" y="384.05" font-size="5.0" text-anchor="middle" fill="#222">4.0</text>
<line x1="214.90" y1="376.15" x2="214.90" y2="377.75" stroke="#111" stroke-width="0.6"/>
<text x="214.90" y="384.05" font-size="5.0" text-anchor="middle" fill="#222">4.5</text>
<line x1="223.00" y1="376.15" x2="223.00" y2="377.75" stroke="#111" stroke-width="0.6"/>
<text x="223.00" y="384.05" font-size="5.0" text-anchor="middle" fill="#222">5.0</text>
<line x1="231.10" y1="376.15" x2="231.10" y2="377.75" stroke="#111" stroke-width="0.6"/>
<text x="231.10" y="384.05" font-size="5.0" text-anchor="middle" fill="#222">5.5</text>
<line x1="239.20" y1="376.15" x2="239.20" y2="377.75" stroke="#111" stroke-width="0.6"/>
<text x="239.20" y="384.05" font-size="5.0" text-anchor="middle" fill="#222">6.0</text>
<line x1="247.30" y1="376.15" x2="247.30" y2="377.75" stroke="#111" stroke-width="0.6"/>
<text x="247.30" y="384.05" font-size="5.0" text-anchor="middle" fill="#222">6.5</text>
<text transform="translate(71.50,396.65) scale(0.93,1)" x="0" y="0" font-size="8.3" text-anchor="middle" fill="#1a1a1a">CXCL13</text>
<line x1="60.38" y1="426.69" x2="99.30" y2="415.85" stroke="#f1f1f1" stroke-width="1.7"/>
<rect x="71.83" y="403.54" width="1.25" height="1.25" fill="#8888b0"/>
<rect x="56.92" y="403.54" width="1.25" height="1.25" fill="#8888b0"/>
<rect x="79.03" y="403.54" width="1.25" height="1.25" fill="#8888b0"/>
<rect x="87.72" y="406.23" width="1.25" height="1.25" fill="#8888b0"/>
<rect x="81.25" y="406.23" width="1.25" height="1.25" fill="#8888b0"/>
<rect x="66.38" y="406.23" width="1.25" height="1.25" fill="#8888b0"/>
<rect x="50.01" y="406.23" width="1.25" height="1.25" fill="#8888b0"/>
<rect x="43.95" y="406.23" width="1.25" height="1.25" fill="#8888b0"/>
<rect x="60.77" y="406.23" width="1.25" height="1.25" fill="#8888b0"/>
<rect x="52.99" y="411.70" width="1.25" height="1.25" fill="#8888b0"/>
<rect x="67.45" y="411.70" width="1.25" height="1.25" fill="#8888b0"/>
<rect x="55.99" y="417.10" width="1.25" height="1.25" fill="#8888b0"/>
<rect x="46.80" y="417.10" width="1.25" height="1.25" fill="#8888b0"/>
<rect x="86.07" y="422.43" width="1.25" height="1.25" fill="#8888b0"/>
<rect x="53.95" y="422.43" width="1.25" height="1.25" fill="#8888b0"/>
<rect x="74.10" y="427.87" width="1.25" height="1.25" fill="#8888b0"/>
<rect x="73.04" y="427.87" width="1.25" height="1.25" fill="#8888b0"/>
<rect x="75.47" y="433.27" width="1.25" height="1.25" fill="#8888b0"/>
<rect x="57.35" y="433.27" width="1.25" height="1.25" fill="#8888b0"/>
<rect x="70.29" y="433.27" width="1.25" height="1.25" fill="#8888b0"/>
<rect x="62.71" y="433.27" width="1.25" height="1.25" fill="#8888b0"/>
<rect x="68.78" y="444.04" width="1.25" height="1.25" fill="#8888b0"/>
<rect x="84.83" y="452.13" width="1.25" height="1.25" fill="#8888b0"/>
<rect x="45.60" y="452.13" width="1.25" height="1.25" fill="#8888b0"/>
<rect x="45.15" y="452.13" width="1.25" height="1.25" fill="#8888b0"/>
<rect x="47.78" y="403.54" width="1.25" height="1.25" fill="#8888b0"/>
<rect x="92.35" y="406.23" width="1.25" height="1.25" fill="#8888b0"/>
<rect x="88.44" y="406.23" width="1.25" height="1.25" fill="#8888b0"/>
<rect x="81.89" y="406.23" width="1.25" height="1.25" fill="#8888b0"/>
<rect x="65.86" y="408.87" width="1.25" height="1.25" fill="#8888b0"/>
<rect x="77.16" y="411.70" width="1.25" height="1.25" fill="#8888b0"/>
<rect x="77.95" y="411.70" width="1.25" height="1.25" fill="#8888b0"/>
<rect x="89.41" y="411.70" width="1.25" height="1.25" fill="#8888b0"/>
<rect x="84.08" y="411.70" width="1.25" height="1.25" fill="#8888b0"/>
<rect x="48.81" y="411.70" width="1.25" height="1.25" fill="#8888b0"/>
<rect x="74.54" y="414.31" width="1.25" height="1.25" fill="#8888b0"/>
<rect x="79.69" y="414.31" width="1.25" height="1.25" fill="#8888b0"/>
<rect x="49.20" y="417.10" width="1.25" height="1.25" fill="#8888b0"/>
<rect x="90.12" y="417.10" width="1.25" height="1.25" fill="#8888b0"/>
<rect x="83.10" y="417.10" width="1.25" height="1.25" fill="#8888b0"/>
<rect x="93.20" y="422.43" width="1.25" height="1.25" fill="#8888b0"/>
<rect x="59.76" y="422.43" width="1.25" height="1.25" fill="#8888b0"/>
<rect x="94.30" y="425.15" width="1.25" height="1.25" fill="#8888b0"/>
<rect x="62.54" y="427.87" width="1.25" height="1.25" fill="#8888b0"/>
<rect x="54.99" y="430.52" width="1.25" height="1.25" fill="#8888b0"/>
<rect x="52.05" y="433.27" width="1.25" height="1.25" fill="#8888b0"/>
<rect x="64.59" y="433.27" width="1.25" height="1.25" fill="#8888b0"/>
<rect x="51.05" y="438.71" width="1.25" height="1.25" fill="#8888b0"/>
<rect x="71.10" y="438.71" width="1.25" height="1.25" fill="#8888b0"/>
<rect x="95.42" y="444.04" width="1.25" height="1.25" fill="#8888b0"/>
<rect x="91.72" y="444.04" width="1.25" height="1.25" fill="#8888b0"/>
<rect x="61.20" y="444.04" width="1.25" height="1.25" fill="#8888b0"/>
<rect x="58.57" y="435.88" width="1.25" height="1.25" fill="#8888b0"/>
<rect x="69.70" y="438.67" width="1.25" height="1.25" fill="#8888b0"/>
<rect x="64.44" y="438.67" width="1.25" height="1.25" fill="#8888b0"/>
<rect x="86.92" y="441.36" width="1.25" height="1.25" fill="#8888b0"/>
<rect x="80.63" y="449.44" width="1.25" height="1.25" fill="#8888b0"/>
<rect x="42.70" y="402.95" width="57.60" height="51.60" fill="none" stroke="#111" stroke-width="1.2"/>
<line x1="40.90" y1="412.36" x2="42.70" y2="412.36" stroke="#111" stroke-width="0.6"/>
<text x="40.10" y="414.16" font-size="5.0" text-anchor="end" fill="#222">80</text>
<line x1="40.90" y1="423.11" x2="42.70" y2="423.11" stroke="#111" stroke-width="0.6"/>
<text x="40.10" y="424.91" font-size="5.0" text-anchor="end" fill="#222">60</text>
<line x1="40.90" y1="433.86" x2="42.70" y2="433.86" stroke="#111" stroke-width="0.6"/>
<text x="40.10" y="435.66" font-size="5.0" text-anchor="end" fill="#222">40</text>
<line x1="40.90" y1="444.61" x2="42.70" y2="444.61" stroke="#111" stroke-width="0.6"/>
<text x="40.10" y="446.41" font-size="5.0" text-anchor="end" fill="#222">20</text>
<line x1="44.50" y1="454.55" x2="44.50" y2="456.15" stroke="#111" stroke-width="0.6"/>
<text x="44.50" y="462.45" font-size="5.0" text-anchor="middle" fill="#222">0</text>
<line x1="54.10" y1="454.55" x2="54.10" y2="456.15" stroke="#111" stroke-width="0.6"/>
<text x="54.10" y="462.45" font-size="5.0" text-anchor="middle" fill="#222">1</text>
<line x1="63.70" y1="454.55" x2="63.70" y2="456.15" stroke="#111" stroke-width="0.6"/>
<text x="63.70" y="462.45" font-size="5.0" text-anchor="middle" fill="#222">2</text>
<line x1="73.30" y1="454.55" x2="73.30" y2="456.15" stroke="#111" stroke-width="0.6"/>
<text x="73.30" y="462.45" font-size="5.0" text-anchor="middle" fill="#222">3</text>
<line x1="82.90" y1="454.55" x2="82.90" y2="456.15" stroke="#111" stroke-width="0.6"/>
<text x="82.90" y="462.45" font-size="5.0" text-anchor="middle" fill="#222">4</text>
<line x1="92.50" y1="454.55" x2="92.50" y2="456.15" stroke="#111" stroke-width="0.6"/>
<text x="92.50" y="462.45" font-size="5.0" text-anchor="middle" fill="#222">5</text>
<text transform="translate(147.65,396.65) scale(0.93,1)" x="0" y="0" font-size="8.3" text-anchor="middle" fill="#1a1a1a">CXCR4</text>
<line x1="119.80" y1="451.97" x2="175.50" y2="408.11" stroke="#f1f1f1" stroke-width="1.7"/>
<rect x="165.18" y="403.54" width="1.25" height="1.25" fill="#8888b0"/>
<rect x="154.45" y="403.54" width="1.25" height="1.25" fill="#8888b0"/>
<rect x="171.16" y="403.54" width="1.25" height="1.25" fill="#8888b0"/>
<rect x="155.99" y="406.23" width="1.25" height="1.25" fill="#8888b0"/>
<rect x="157.97" y="406.23" width="1.25" height="1.25" fill="#8888b0"/>
<rect x="157.70" y="406.23" width="1.25" height="1.25" fill="#8888b0"/>
<rect x="163.70" y="406.23" width="1.25" height="1.25" fill="#8888b0"/>
<rect x="161.56" y="406.23" width="1.25" height="1.25" fill="#8888b0"/>
<rect x="171.92" y="406.23" width="1.25" height="1.25" fill="#8888b0"/>
<rect x="166.02" y="411.70" width="1.25" height="1.25" fill="#8888b0"/>
<rect x="158.33" y="411.70" width="1.25" height="1.25" fill="#8888b0"/>
<rect x="167.89" y="417.10" width="1.25" height="1.25" fill="#8888b0"/>
<rect x="168.41" y="417.10" width="1.25" height="1.25" fill="#8888b0"/>
<rect x="152.80" y="422.43" width="1.25" height="1.25" fill="#8888b0"/>
<rect x="158.87" y="422.43" width="1.25" height="1.25" fill="#8888b0"/>
<rect x="169.25" y="427.87" width="1.25" height="1.25" fill="#8888b0"/>
<rect x="165.75" y="427.87" width="1.25" height="1.25" fill="#8888b0"/>
<rect x="145.13" y="433.27" width="1.25" height="1.25" fill="#8888b0"/>
<rect x="149.03" y="433.27" width="1.25" height="1.25" fill="#8888b0"/>
<rect x="162.42" y="433.27" width="1.25" height="1.25" fill="#8888b0"/>
<rect x="149.69" y="433.27" width="1.25" height="1.25" fill="#8888b0"/>
<rect x="148.76" y="444.04" width="1.25" height="1.25" fill="#8888b0"/>
<rect x="147.77" y="452.13" width="1.25" height="1.25" fill="#8888b0"/>
<rect x="153.79" y="452.13" width="1.25" height="1.25" fill="#8888b0"/>
<rect x="146.69" y="452.13" width="1.25" height="1.25" fill="#8888b0"/>
<rect x="163.22" y="403.54" width="1.25" height="1.25" fill="#8888b0"/>
<rect x="161.08" y="406.23" width="1.25" height="1.25" fill="#8888b0"/>
<rect x="171.64" y="406.23" width="1.25" height="1.25" fill="#8888b0"/>
<rect x="172.52" y="406.23" width="1.25" height="1.25" fill="#8888b0"/>
<rect x="169.64" y="408.87" width="1.25" height="1.25" fill="#8888b0"/>
<rect x="160.54" y="411.70" width="1.25" height="1.25" fill="#8888b0"/>
<rect x="157.11" y="411.70" width="1.25" height="1.25" fill="#8888b0"/>
<rect x="166.39" y="411.70" width="1.25" height="1.25" fill="#8888b0"/>
<rect x="159.96" y="411.70" width="1.25" height="1.25" fill="#8888b0"/>
<rect x="159.47" y="411.70" width="1.25" height="1.25" fill="#8888b0"/>
<rect x="170.42" y="414.31" width="1.25" height="1.25" fill="#8888b0"/>
<rect x="169.91" y="414.31" width="1.25" height="1.25" fill="#8888b0"/>
<rect x="166.81" y="417.10" width="1.25" height="1.25" fill="#8888b0"/>
<rect x="163.93" y="417.10" width="1.25" height="1.25" fill="#8888b0"/>
<rect x="151.26" y="417.10" width="1.25" height="1.25" fill="#8888b0"/>
<rect x="164.34" y="422.43" width="1.25" height="1.25" fill="#8888b0"/>
<rect x="156.29" y="422.43" width="1.25" height="1.25" fill="#8888b0"/>
<rect x="167.29" y="425.15" width="1.25" height="1.25" fill="#8888b0"/>
<rect x="144.44" y="427.87" width="1.25" height="1.25" fill="#8888b0"/>
<rect x="153.34" y="430.52" width="1.25" height="1.25" fill="#8888b0"/>
<rect x="152.23" y="433.27" width="1.25" height="1.25" fill="#8888b0"/>
<rect x="152.39" y="433.27" width="1.25" height="1.25" fill="#8888b0"/>
<rect x="155.41" y="438.71" width="1.25" height="1.25" fill="#8888b0"/>
<rect x="146.01" y="438.71" width="1.25" height="1.25" fill="#8888b0"/>
<rect x="148.22" y="444.04" width="1.25" height="1.25" fill="#8888b0"/>
<rect x="149.89" y="444.04" width="1.25" height="1.25" fill="#8888b0"/>
<rect x="161.87" y="444.04" width="1.25" height="1.25" fill="#8888b0"/>
<rect x="150.48" y="435.88" width="1.25" height="1.25" fill="#8888b0"/>
<rect x="147.07" y="438.67" width="1.25" height="1.25" fill="#8888b0"/>
<rect x="154.79" y="438.67" width="1.25" height="1.25" fill="#8888b0"/>
<rect x="151.76" y="441.36" width="1.25" height="1.25" fill="#8888b0"/>
<rect x="145.57" y="449.44" width="1.25" height="1.25" fill="#8888b0"/>
<rect x="118.80" y="402.95" width="57.70" height="51.60" fill="none" stroke="#111" stroke-width="1.2"/>
<line x1="117.00" y1="412.36" x2="118.80" y2="412.36" stroke="#111" stroke-width="0.6"/>
<text x="116.20" y="414.16" font-size="5.0" text-anchor="end" fill="#222">80</text>
<line x1="117.00" y1="423.11" x2="118.80" y2="423.11" stroke="#111" stroke-width="0.6"/>
<text x="116.20" y="424.91" font-size="5.0" text-anchor="end" fill="#222">60</text>
<line x1="117.00" y1="433.86" x2="118.80" y2="433.86" stroke="#111" stroke-width="0.6"/>
<text x="116.20" y="435.66" font-size="5.0" text-anchor="end" fill="#222">40</text>
<line x1="117.00" y1="444.61" x2="118.80" y2="444.61" stroke="#111" stroke-width="0.6"/>
<text x="116.20" y="446.41" font-size="5.0" text-anchor="end" fill="#222">20</text>
<line x1="132.60" y1="454.55" x2="132.60" y2="456.15" stroke="#111" stroke-width="0.6"/>
<text x="132.60" y="462.45" font-size="5.0" text-anchor="middle" fill="#222">10</text>
<line x1="146.17" y1="454.55" x2="146.17" y2="456.15" stroke="#111" stroke-width="0.6"/>
<text x="146.17" y="462.45" font-size="5.0" text-anchor="middle" fill="#222">11</text>
<line x1="159.73" y1="454.55" x2="159.73" y2="456.15" stroke="#111" stroke-width="0.6"/>
<text x="159.73" y="462.45" font-size="5.0" text-anchor="middle" fill="#222">12</text>
<line x1="173.30" y1="454.55" x2="173.30" y2="456.15" stroke="#111" stroke-width="0.6"/>
<text x="173.30" y="462.45" font-size="5.0" text-anchor="middle" fill="#222">13</text>
<text transform="translate(222.95,396.65) scale(0.93,1)" x="0" y="0" font-size="8.3" text-anchor="middle" fill="#1a1a1a">MYD88</text>
<line x1="195.10" y1="405.53" x2="250.80" y2="446.81" stroke="#f1f1f1" stroke-width="1.7"/>
<rect x="214.60" y="403.54" width="1.25" height="1.25" fill="#8888b0"/>
<rect x="212.88" y="403.54" width="1.25" height="1.25" fill="#8888b0"/>
<rect x="203.58" y="403.54" width="1.25" height="1.25" fill="#8888b0"/>
<rect x="216.95" y="406.23" width="1.25" height="1.25" fill="#8888b0"/>
<rect x="210.64" y="406.23" width="1.25" height="1.25" fill="#8888b0"/>
<rect x="234.36" y="406.23" width="1.25" height="1.25" fill="#8888b0"/>
<rect x="208.99" y="406.23" width="1.25" height="1.25" fill="#8888b0"/>
<rect x="232.06" y="406.23" width="1.25" height="1.25" fill="#8888b0"/>
<rect x="238.24" y="406.23" width="1.25" height="1.25" fill="#8888b0"/>
<rect x="235.41" y="411.70" width="1.25" height="1.25" fill="#8888b0"/>
<rect x="215.69" y="411.70" width="1.25" height="1.25" fill="#8888b0"/>
<rect x="225.04" y="417.10" width="1.25" height="1.25" fill="#8888b0"/>
<rect x="231.06" y="417.10" width="1.25" height="1.25" fill="#8888b0"/>
<rect x="204.62" y="422.43" width="1.25" height="1.25" fill="#8888b0"/>
<rect x="221.55" y="422.43" width="1.25" height="1.25" fill="#8888b0"/>
<rect x="221.17" y="427.87" width="1.25" height="1.25" fill="#8888b0"/>
<rect x="211.83" y="427.87" width="1.25" height="1.25" fill="#8888b0"/>
<rect x="219.15" y="433.27" width="1.25" height="1.25" fill="#8888b0"/>
<rect x="229.30" y="433.27" width="1.25" height="1.25" fill="#8888b0"/>
<rect x="240.24" y="433.27" width="1.25" height="1.25" fill="#8888b0"/>
<rect x="227.05" y="433.27" width="1.25" height="1.25" fill="#8888b0"/>
<rect x="233.22" y="444.04" width="1.25" height="1.25" fill="#8888b0"/>
<rect x="237.38" y="452.13" width="1.25" height="1.25" fill="#8888b0"/>
<rect x="222.23" y="452.13" width="1.25" height="1.25" fill="#8888b0"/>
<rect x="240.82" y="452.13" width="1.25" height="1.25" fill="#8888b0"/>
<rect x="206.60" y="403.54" width="1.25" height="1.25" fill="#8888b0"/>
<rect x="209.89" y="406.23" width="1.25" height="1.25" fill="#8888b0"/>
<rect x="206.28" y="406.23" width="1.25" height="1.25" fill="#8888b0"/>
<rect x="205.85" y="406.23" width="1.25" height="1.25" fill="#8888b0"/>
<rect x="210.13" y="408.87" width="1.25" height="1.25" fill="#8888b0"/>
<rect x="220.30" y="411.70" width="1.25" height="1.25" fill="#8888b0"/>
<rect x="214.77" y="411.70" width="1.25" height="1.25" fill="#8888b0"/>
<rect x="204.52" y="411.70" width="1.25" height="1.25" fill="#8888b0"/>
<rect x="217.94" y="411.70" width="1.25" height="1.25" fill="#8888b0"/>
<rect x="207.48" y="411.70" width="1.25" height="1.25" fill="#8888b0"/>
<rect x="226.55" y="414.31" width="1.25" height="1.25" fill="#8888b0"/>
<rect x="218.45" y="414.31" width="1.25" height="1.25" fill="#8888b0"/>
<rect x="223.09" y="417.10" width="1.25" height="1.25" fill="#8888b0"/>
<rect x="212.55" y="417.10" width="1.25" height="1.25" fill="#8888b0"/>
<rect x="223.79" y="417.10" width="1.25" height="1.25" fill="#8888b0"/>
<rect x="229.73" y="422.43" width="1.25" height="1.25" fill="#8888b0"/>
<rect x="236.73" y="422.43" width="1.25" height="1.25" fill="#8888b0"/>
<rect x="213.78" y="425.15" width="1.25" height="1.25" fill="#8888b0"/>
<rect x="230.47" y="427.87" width="1.25" height="1.25" fill="#8888b0"/>
<rect x="216.50" y="430.52" width="1.25" height="1.25" fill="#8888b0"/>
<rect x="219.38" y="433.27" width="1.25" height="1.25" fill="#8888b0"/>
<rect x="228.37" y="433.27" width="1.25" height="1.25" fill="#8888b0"/>
<rect x="233.68" y="438.71" width="1.25" height="1.25" fill="#8888b0"/>
<rect x="227.94" y="438.71" width="1.25" height="1.25" fill="#8888b0"/>
<rect x="225.97" y="444.04" width="1.25" height="1.25" fill="#8888b0"/>
<rect x="239.37" y="444.04" width="1.25" height="1.25" fill="#8888b0"/>
<rect x="239.88" y="444.04" width="1.25" height="1.25" fill="#8888b0"/>
<rect x="208.16" y="435.88" width="1.25" height="1.25" fill="#8888b0"/>
<rect x="232.33" y="438.67" width="1.25" height="1.25" fill="#8888b0"/>
<rect x="224.49" y="438.67" width="1.25" height="1.25" fill="#8888b0"/>
<rect x="236.05" y="441.36" width="1.25" height="1.25" fill="#8888b0"/>
<rect x="237.65" y="449.44" width="1.25" height="1.25" fill="#8888b0"/>
<rect x="194.10" y="402.95" width="57.70" height="51.60" fill="none" stroke="#111" stroke-width="1.2"/>
<line x1="192.30" y1="412.36" x2="194.10" y2="412.36" stroke="#111" stroke-width="0.6"/>
<text x="191.50" y="414.16" font-size="5.0" text-anchor="end" fill="#222">80</text>
<line x1="192.30" y1="423.11" x2="194.10" y2="423.11" stroke="#111" stroke-width="0.6"/>
<text x="191.50" y="424.91" font-size="5.0" text-anchor="end" fill="#222">60</text>
<line x1="192.30" y1="433.86" x2="194.10" y2="433.86" stroke="#111" stroke-width="0.6"/>
<text x="191.50" y="435.66" font-size="5.0" text-anchor="end" fill="#222">40</text>
<line x1="192.30" y1="444.61" x2="194.10" y2="444.61" stroke="#111" stroke-width="0.6"/>
<text x="191.50" y="446.41" font-size="5.0" text-anchor="end" fill="#222">20</text>
<line x1="203.80" y1="454.55" x2="203.80" y2="456.15" stroke="#111" stroke-width="0.6"/>
<text x="203.80" y="462.45" font-size="5.0" text-anchor="middle" fill="#222">5.0</text>
<line x1="214.40" y1="454.55" x2="214.40" y2="456.15" stroke="#111" stroke-width="0.6"/>
<text x="214.40" y="462.45" font-size="5.0" text-anchor="middle" fill="#222">5.5</text>
<line x1="225.00" y1="454.55" x2="225.00" y2="456.15" stroke="#111" stroke-width="0.6"/>
<text x="225.00" y="462.45" font-size="5.0" text-anchor="middle" fill="#222">6.0</text>
<line x1="235.60" y1="454.55" x2="235.60" y2="456.15" stroke="#111" stroke-width="0.6"/>
<text x="235.60" y="462.45" font-size="5.0" text-anchor="middle" fill="#222">6.5</text>
<line x1="246.20" y1="454.55" x2="246.20" y2="456.15" stroke="#111" stroke-width="0.6"/>
<text x="246.20" y="462.45" font-size="5.0" text-anchor="middle" fill="#222">7.0</text>
<text transform="translate(71.50,475.05) scale(0.93,1)" x="0" y="0" font-size="8.3" text-anchor="middle" fill="#1a1a1a">TP53</text>
<line x1="43.70" y1="481.35" x2="99.30" y2="530.65" stroke="#f1f1f1" stroke-width="1.7"/>
<rect x="59.19" y="481.95" width="1.25" height="1.25" fill="#8888b0"/>
<rect x="70.95" y="481.95" width="1.25" height="1.25" fill="#8888b0"/>
<rect x="61.48" y="481.95" width="1.25" height="1.25" fill="#8888b0"/>
<rect x="57.61" y="484.65" width="1.25" height="1.25" fill="#8888b0"/>
<rect x="63.10" y="484.65" width="1.25" height="1.25" fill="#8888b0"/>
<rect x="58.13" y="484.65" width="1.25" height="1.25" fill="#8888b0"/>
<rect x="78.19" y="484.65" width="1.25" height="1.25" fill="#8888b0"/>
<rect x="58.72" y="484.65" width="1.25" height="1.25" fill="#8888b0"/>
<rect x="68.75" y="484.65" width="1.25" height="1.25" fill="#8888b0"/>
<rect x="56.48" y="490.15" width="1.25" height="1.25" fill="#8888b0"/>
<rect x="65.69" y="490.15" width="1.25" height="1.25" fill="#8888b0"/>
<rect x="60.74" y="495.59" width="1.25" height="1.25" fill="#8888b0"/>
<rect x="69.99" y="495.59" width="1.25" height="1.25" fill="#8888b0"/>
<rect x="85.04" y="500.95" width="1.25" height="1.25" fill="#8888b0"/>
<rect x="67.02" y="500.95" width="1.25" height="1.25" fill="#8888b0"/>
<rect x="74.21" y="506.42" width="1.25" height="1.25" fill="#8888b0"/>
<rect x="80.57" y="506.42" width="1.25" height="1.25" fill="#8888b0"/>
<rect x="80.76" y="511.85" width="1.25" height="1.25" fill="#8888b0"/>
<rect x="90.68" y="511.85" width="1.25" height="1.25" fill="#8888b0"/>
<rect x="71.72" y="511.85" width="1.25" height="1.25" fill="#8888b0"/>
<rect x="66.36" y="511.85" width="1.25" height="1.25" fill="#8888b0"/>
<rect x="75.21" y="522.68" width="1.25" height="1.25" fill="#8888b0"/>
<rect x="88.15" y="530.82" width="1.25" height="1.25" fill="#8888b0"/>
<rect x="92.71" y="530.82" width="1.25" height="1.25" fill="#8888b0"/>
<rect x="91.65" y="530.82" width="1.25" height="1.25" fill="#8888b0"/>
<rect x="76.00" y="481.95" width="1.25" height="1.25" fill="#8888b0"/>
<rect x="55.12" y="484.65" width="1.25" height="1.25" fill="#8888b0"/>
<rect x="56.68" y="484.65" width="1.25" height="1.25" fill="#8888b0"/>
<rect x="73.39" y="484.65" width="1.25" height="1.25" fill="#8888b0"/>
<rect x="69.44" y="487.31" width="1.25" height="1.25" fill="#8888b0"/>
<rect x="60.20" y="490.15" width="1.25" height="1.25" fill="#8888b0"/>
<rect x="72.33" y="490.15" width="1.25" height="1.25" fill="#8888b0"/>
<rect x="81.53" y="490.15" width="1.25" height="1.25" fill="#8888b0"/>
<rect x="72.71" y="490.15" width="1.25" height="1.25" fill="#8888b0"/>
<rect x="55.72" y="490.15" width="1.25" height="1.25" fill="#8888b0"/>
<rect x="61.93" y="492.78" width="1.25" height="1.25" fill="#8888b0"/>
<rect x="67.98" y="492.78" width="1.25" height="1.25" fill="#8888b0"/>
<rect x="64.25" y="495.59" width="1.25" height="1.25" fill="#8888b0"/>
<rect x="77.08" y="495.59" width="1.25" height="1.25" fill="#8888b0"/>
<rect x="75.52" y="495.59" width="1.25" height="1.25" fill="#8888b0"/>
<rect x="89.58" y="500.95" width="1.25" height="1.25" fill="#8888b0"/>
<rect x="67.90" y="500.95" width="1.25" height="1.25" fill="#8888b0"/>
<rect x="83.93" y="503.68" width="1.25" height="1.25" fill="#8888b0"/>
<rect x="63.23" y="506.42" width="1.25" height="1.25" fill="#8888b0"/>
<rect x="82.53" y="509.08" width="1.25" height="1.25" fill="#8888b0"/>
<rect x="87.39" y="511.85" width="1.25" height="1.25" fill="#8888b0"/>
<rect x="89.32" y="511.85" width="1.25" height="1.25" fill="#8888b0"/>
<rect x="79.78" y="517.32" width="1.25" height="1.25" fill="#8888b0"/>
<rect x="86.05" y="517.32" width="1.25" height="1.25" fill="#8888b0"/>
<rect x="82.72" y="522.68" width="1.25" height="1.25" fill="#8888b0"/>
<rect x="79.29" y="522.68" width="1.25" height="1.25" fill="#8888b0"/>
<rect x="87.05" y="522.68" width="1.25" height="1.25" fill="#8888b0"/>
<rect x="77.74" y="514.48" width="1.25" height="1.25" fill="#8888b0"/>
<rect x="65.02" y="517.29" width="1.25" height="1.25" fill="#8888b0"/>
<rect x="85.61" y="517.29" width="1.25" height="1.25" fill="#8888b0"/>
<rect x="84.07" y="519.98" width="1.25" height="1.25" fill="#8888b0"/>
<rect x="91.02" y="528.12" width="1.25" height="1.25" fill="#8888b0"/>
<rect x="42.70" y="481.35" width="57.60" height="51.90" fill="none" stroke="#111" stroke-width="1.2"/>
<line x1="40.90" y1="490.81" x2="42.70" y2="490.81" stroke="#111" stroke-width="0.6"/>
<text x="40.10" y="492.61" font-size="5.0" text-anchor="end" fill="#222">80</text>
<line x1="40.90" y1="501.62" x2="42.70" y2="501.62" stroke="#111" stroke-width="0.6"/>
<text x="40.10" y="503.42" font-size="5.0" text-anchor="end" fill="#222">60</text>
<line x1="40.90" y1="512.44" x2="42.70" y2="512.44" stroke="#111" stroke-width="0.6"/>
<text x="40.10" y="514.24" font-size="5.0" text-anchor="end" fill="#222">40</text>
<line x1="40.90" y1="523.25" x2="42.70" y2="523.25" stroke="#111" stroke-width="0.6"/>
<text x="40.10" y="525.05" font-size="5.0" text-anchor="end" fill="#222">20</text>
<line x1="47.90" y1="533.25" x2="47.90" y2="534.85" stroke="#111" stroke-width="0.6"/>
<text x="47.90" y="541.15" font-size="5.0" text-anchor="middle" fill="#222">3.5</text>
<line x1="55.48" y1="533.25" x2="55.48" y2="534.85" stroke="#111" stroke-width="0.6"/>
<text x="55.48" y="541.15" font-size="5.0" text-anchor="middle" fill="#222">4.0</text>
<line x1="63.07" y1="533.25" x2="63.07" y2="534.85" stroke="#111" stroke-width="0.6"/>
<text x="63.07" y="541.15" font-size="5.0" text-anchor="middle" fill="#222">4.5</text>
<line x1="70.65" y1="533.25" x2="70.65" y2="534.85" stroke="#111" stroke-width="0.6"/>
<text x="70.65" y="541.15" font-size="5.0" text-anchor="middle" fill="#222">5.0</text>
<line x1="78.23" y1="533.25" x2="78.23" y2="534.85" stroke="#111" stroke-width="0.6"/>
<text x="78.23" y="541.15" font-size="5.0" text-anchor="middle" fill="#222">5.5</text>
<line x1="85.82" y1="533.25" x2="85.82" y2="534.85" stroke="#111" stroke-width="0.6"/>
<text x="85.82" y="541.15" font-size="5.0" text-anchor="middle" fill="#222">6.0</text>
<line x1="93.40" y1="533.25" x2="93.40" y2="534.85" stroke="#111" stroke-width="0.6"/>
<text x="93.40" y="541.15" font-size="5.0" text-anchor="middle" fill="#222">6.5</text>
<text transform="translate(147.65,475.05) scale(0.93,1)" x="0" y="0" font-size="8.3" text-anchor="middle" fill="#1a1a1a">TOP3A</text>
<line x1="119.80" y1="486.54" x2="175.50" y2="515.09" stroke="#f1f1f1" stroke-width="1.7"/>
<rect x="142.24" y="481.95" width="1.25" height="1.25" fill="#8888b0"/>
<rect x="125.99" y="481.95" width="1.25" height="1.25" fill="#8888b0"/>
<rect x="129.44" y="481.95" width="1.25" height="1.25" fill="#8888b0"/>
<rect x="130.15" y="484.65" width="1.25" height="1.25" fill="#8888b0"/>
<rect x="130.73" y="484.65" width="1.25" height="1.25" fill="#8888b0"/>
<rect x="126.96" y="484.65" width="1.25" height="1.25" fill="#8888b0"/>
<rect x="128.03" y="484.65" width="1.25" height="1.25" fill="#8888b0"/>
<rect x="132.64" y="484.65" width="1.25" height="1.25" fill="#8888b0"/>
<rect x="165.59" y="484.65" width="1.25" height="1.25" fill="#8888b0"/>
<rect x="128.73" y="490.15" width="1.25" height="1.25" fill="#8888b0"/>
<rect x="147.29" y="490.15" width="1.25" height="1.25" fill="#8888b0"/>
<rect x="147.97" y="495.59" width="1.25" height="1.25" fill="#8888b0"/>
<rect x="132.14" y="495.59" width="1.25" height="1.25" fill="#8888b0"/>
<rect x="125.16" y="500.95" width="1.25" height="1.25" fill="#8888b0"/>
<rect x="151.48" y="500.95" width="1.25" height="1.25" fill="#8888b0"/>
<rect x="160.00" y="506.42" width="1.25" height="1.25" fill="#8888b0"/>
<rect x="160.90" y="506.42" width="1.25" height="1.25" fill="#8888b0"/>
<rect x="141.04" y="511.85" width="1.25" height="1.25" fill="#8888b0"/>
<rect x="146.43" y="511.85" width="1.25" height="1.25" fill="#8888b0"/>
<rect x="150.42" y="511.85" width="1.25" height="1.25" fill="#8888b0"/>
<rect x="155.92" y="511.85" width="1.25" height="1.25" fill="#8888b0"/>
<rect x="134.26" y="522.68" width="1.25" height="1.25" fill="#8888b0"/>
<rect x="131.58" y="530.82" width="1.25" height="1.25" fill="#8888b0"/>
<rect x="163.60" y="530.82" width="1.25" height="1.25" fill="#8888b0"/>
<rect x="164.53" y="530.82" width="1.25" height="1.25" fill="#8888b0"/>
<rect x="135.69" y="481.95" width="1.25" height="1.25" fill="#8888b0"/>
<rect x="156.24" y="484.65" width="1.25" height="1.25" fill="#8888b0"/>
<rect x="140.30" y="484.65" width="1.25" height="1.25" fill="#8888b0"/>
<rect x="144.31" y="484.65" width="1.25" height="1.25" fill="#8888b0"/>
<rect x="143.69" y="487.31" width="1.25" height="1.25" fill="#8888b0"/>
<rect x="145.70" y="490.15" width="1.25" height="1.25" fill="#8888b0"/>
<rect x="138.93" y="490.15" width="1.25" height="1.25" fill="#8888b0"/>
<rect x="148.86" y="490.15" width="1.25" height="1.25" fill="#8888b0"/>
<rect x="136.88" y="490.15" width="1.25" height="1.25" fill="#8888b0"/>
<rect x="149.15" y="490.15" width="1.25" height="1.25" fill="#8888b0"/>
<rect x="136.37" y="492.78" width="1.25" height="1.25" fill="#8888b0"/>
<rect x="135.01" y="492.78" width="1.25" height="1.25" fill="#8888b0"/>
<rect x="145.18" y="495.59" width="1.25" height="1.25" fill="#8888b0"/>
<rect x="133.50" y="495.59" width="1.25" height="1.25" fill="#8888b0"/>
<rect x="149.72" y="495.59" width="1.25" height="1.25" fill="#8888b0"/>
<rect x="137.88" y="500.95" width="1.25" height="1.25" fill="#8888b0"/>
<rect x="165.38" y="500.95" width="1.25" height="1.25" fill="#8888b0"/>
<rect x="139.82" y="503.68" width="1.25" height="1.25" fill="#8888b0"/>
<rect x="155.06" y="506.42" width="1.25" height="1.25" fill="#8888b0"/>
<rect x="162.11" y="509.08" width="1.25" height="1.25" fill="#8888b0"/>
<rect x="151.79" y="511.85" width="1.25" height="1.25" fill="#8888b0"/>
<rect x="138.60" y="511.85" width="1.25" height="1.25" fill="#8888b0"/>
<rect x="153.97" y="517.32" width="1.25" height="1.25" fill="#8888b0"/>
<rect x="153.64" y="517.32" width="1.25" height="1.25" fill="#8888b0"/>
<rect x="156.95" y="522.68" width="1.25" height="1.25" fill="#8888b0"/>
<rect x="161.77" y="522.68" width="1.25" height="1.25" fill="#8888b0"/>
<rect x="157.80" y="522.68" width="1.25" height="1.25" fill="#8888b0"/>
<rect x="162.90" y="514.48" width="1.25" height="1.25" fill="#8888b0"/>
<rect x="159.63" y="517.29" width="1.25" height="1.25" fill="#8888b0"/>
<rect x="142.61" y="517.29" width="1.25" height="1.25" fill="#8888b0"/>
<rect x="152.79" y="519.98" width="1.25" height="1.25" fill="#8888b0"/>
<rect x="158.58" y="528.12" width="1.25" height="1.25" fill="#8888b0"/>
<rect x="118.80" y="481.35" width="57.70" height="51.90" fill="none" stroke="#111" stroke-width="1.2"/>
<line x1="117.00" y1="490.81" x2="118.80" y2="490.81" stroke="#111" stroke-width="0.6"/>
<text x="116.20" y="492.61" font-size="5.0" text-anchor="end" fill="#222">80</text>
<line x1="117.00" y1="501.62" x2="118.80" y2="501.62" stroke="#111" stroke-width="0.6"/>
<text x="116.20" y="503.42" font-size="5.0" text-anchor="end" fill="#222">60</text>
<line x1="117.00" y1="512.44" x2="118.80" y2="512.44" stroke="#111" stroke-width="0.6"/>
<text x="116.20" y="514.24" font-size="5.0" text-anchor="end" fill="#222">40</text>
<line x1="117.00" y1="523.25" x2="118.80" y2="523.25" stroke="#111" stroke-width="0.6"/>
<text x="116.20" y="525.05" font-size="5.0" text-anchor="end" fill="#222">20</text>
<line x1="128.20" y1="533.25" x2="128.20" y2="534.85" stroke="#111" stroke-width="0.6"/>
<text x="128.20" y="541.15" font-size="5.0" text-anchor="middle" fill="#222">2.5</text>
<line x1="138.30" y1="533.25" x2="138.30" y2="534.85" stroke="#111" stroke-width="0.6"/>
<text x="138.30" y="541.15" font-size="5.0" text-anchor="middle" fill="#222">3.0</text>
<line x1="148.40" y1="533.25" x2="148.40" y2="534.85" stroke="#111" stroke-width="0.6"/>
<text x="148.40" y="541.15" font-size="5.0" text-anchor="middle" fill="#222">3.5</text>
<line x1="158.50" y1="533.25" x2="158.50" y2="534.85" stroke="#111" stroke-width="0.6"/>
<text x="158.50" y="541.15" font-size="5.0" text-anchor="middle" fill="#222">4.0</text>
<line x1="168.60" y1="533.25" x2="168.60" y2="534.85" stroke="#111" stroke-width="0.6"/>
<text x="168.60" y="541.15" font-size="5.0" text-anchor="middle" fill="#222">4.5</text>
<text transform="translate(222.95,475.05) scale(0.93,1)" x="0" y="0" font-size="8.3" text-anchor="middle" fill="#1a1a1a">BCL7A</text>
<line x1="195.10" y1="491.73" x2="250.80" y2="517.68" stroke="#f1f1f1" stroke-width="1.7"/>
<rect x="212.20" y="481.95" width="1.25" height="1.25" fill="#8888b0"/>
<rect x="223.29" y="481.95" width="1.25" height="1.25" fill="#8888b0"/>
<rect x="228.41" y="481.95" width="1.25" height="1.25" fill="#8888b0"/>
<rect x="203.30" y="484.65" width="1.25" height="1.25" fill="#8888b0"/>
<rect x="198.70" y="484.65" width="1.25" height="1.25" fill="#8888b0"/>
<rect x="206.27" y="484.65" width="1.25" height="1.25" fill="#8888b0"/>
<rect x="200.21" y="484.65" width="1.25" height="1.25" fill="#8888b0"/>
<rect x="214.82" y="484.65" width="1.25" height="1.25" fill="#8888b0"/>
<rect x="221.36" y="484.65" width="1.25" height="1.25" fill="#8888b0"/>
<rect x="217.91" y="490.15" width="1.25" height="1.25" fill="#8888b0"/>
<rect x="204.48" y="490.15" width="1.25" height="1.25" fill="#8888b0"/>
<rect x="232.68" y="495.59" width="1.25" height="1.25" fill="#8888b0"/>
<rect x="228.99" y="495.59" width="1.25" height="1.25" fill="#8888b0"/>
<rect x="220.17" y="500.95" width="1.25" height="1.25" fill="#8888b0"/>
<rect x="222.33" y="500.95" width="1.25" height="1.25" fill="#8888b0"/>
<rect x="218.71" y="506.42" width="1.25" height="1.25" fill="#8888b0"/>
<rect x="209.12" y="506.42" width="1.25" height="1.25" fill="#8888b0"/>
<rect x="209.30" y="511.85" width="1.25" height="1.25" fill="#8888b0"/>
<rect x="214.33" y="511.85" width="1.25" height="1.25" fill="#8888b0"/>
<rect x="216.06" y="511.85" width="1.25" height="1.25" fill="#8888b0"/>
<rect x="227.78" y="511.85" width="1.25" height="1.25" fill="#8888b0"/>
<rect x="200.89" y="522.68" width="1.25" height="1.25" fill="#8888b0"/>
<rect x="232.25" y="530.82" width="1.25" height="1.25" fill="#8888b0"/>
<rect x="217.65" y="530.82" width="1.25" height="1.25" fill="#8888b0"/>
<rect x="201.90" y="530.82" width="1.25" height="1.25" fill="#8888b0"/>
<rect x="231.08" y="481.95" width="1.25" height="1.25" fill="#8888b0"/>
<rect x="207.78" y="484.65" width="1.25" height="1.25" fill="#8888b0"/>
<rect x="219.57" y="484.65" width="1.25" height="1.25" fill="#8888b0"/>
<rect x="213.70" y="484.65" width="1.25" height="1.25" fill="#8888b0"/>
<rect x="198.37" y="487.31" width="1.25" height="1.25" fill="#8888b0"/>
<rect x="224.83" y="490.15" width="1.25" height="1.25" fill="#8888b0"/>
<rect x="210.69" y="490.15" width="1.25" height="1.25" fill="#8888b0"/>
<rect x="211.32" y="490.15" width="1.25" height="1.25" fill="#8888b0"/>
<rect x="215.71" y="490.15" width="1.25" height="1.25" fill="#8888b0"/>
<rect x="233.74" y="490.15" width="1.25" height="1.25" fill="#8888b0"/>
<rect x="202.58" y="492.78" width="1.25" height="1.25" fill="#8888b0"/>
<rect x="203.97" y="492.78" width="1.25" height="1.25" fill="#8888b0"/>
<rect x="224.50" y="495.59" width="1.25" height="1.25" fill="#8888b0"/>
<rect x="199.48" y="495.59" width="1.25" height="1.25" fill="#8888b0"/>
<rect x="216.58" y="495.59" width="1.25" height="1.25" fill="#8888b0"/>
<rect x="226.51" y="500.95" width="1.25" height="1.25" fill="#8888b0"/>
<rect x="235.84" y="500.95" width="1.25" height="1.25" fill="#8888b0"/>
<rect x="213.09" y="503.68" width="1.25" height="1.25" fill="#8888b0"/>
<rect x="234.34" y="506.42" width="1.25" height="1.25" fill="#8888b0"/>
<rect x="205.68" y="509.08" width="1.25" height="1.25" fill="#8888b0"/>
<rect x="201.25" y="511.85" width="1.25" height="1.25" fill="#8888b0"/>
<rect x="220.66" y="511.85" width="1.25" height="1.25" fill="#8888b0"/>
<rect x="225.62" y="517.32" width="1.25" height="1.25" fill="#8888b0"/>
<rect x="226.67" y="517.32" width="1.25" height="1.25" fill="#8888b0"/>
<rect x="235.22" y="522.68" width="1.25" height="1.25" fill="#8888b0"/>
<rect x="231.82" y="522.68" width="1.25" height="1.25" fill="#8888b0"/>
<rect x="230.05" y="522.68" width="1.25" height="1.25" fill="#8888b0"/>
<rect x="206.67" y="514.48" width="1.25" height="1.25" fill="#8888b0"/>
<rect x="208.18" y="517.29" width="1.25" height="1.25" fill="#8888b0"/>
<rect x="223.17" y="517.29" width="1.25" height="1.25" fill="#8888b0"/>
<rect x="210.25" y="519.98" width="1.25" height="1.25" fill="#8888b0"/>
<rect x="229.81" y="528.12" width="1.25" height="1.25" fill="#8888b0"/>
<rect x="194.10" y="481.35" width="57.70" height="51.90" fill="none" stroke="#111" stroke-width="1.2"/>
<line x1="192.30" y1="490.81" x2="194.10" y2="490.81" stroke="#111" stroke-width="0.6"/>
<text x="191.50" y="492.61" font-size="5.0" text-anchor="end" fill="#222">80</text>
<line x1="192.30" y1="501.62" x2="194.10" y2="501.62" stroke="#111" stroke-width="0.6"/>
<text x="191.50" y="503.42" font-size="5.0" text-anchor="end" fill="#222">60</text>
<line x1="192.30" y1="512.44" x2="194.10" y2="512.44" stroke="#111" stroke-width="0.6"/>
<text x="191.50" y="514.24" font-size="5.0" text-anchor="end" fill="#222">40</text>
<line x1="192.30" y1="523.25" x2="194.10" y2="523.25" stroke="#111" stroke-width="0.6"/>
<text x="191.50" y="525.05" font-size="5.0" text-anchor="end" fill="#222">20</text>
<line x1="206.20" y1="533.25" x2="206.20" y2="534.85" stroke="#111" stroke-width="0.6"/>
<text x="206.20" y="541.15" font-size="5.0" text-anchor="middle" fill="#222">2</text>
<line x1="220.40" y1="533.25" x2="220.40" y2="534.85" stroke="#111" stroke-width="0.6"/>
<text x="220.40" y="541.15" font-size="5.0" text-anchor="middle" fill="#222">4</text>
<line x1="234.60" y1="533.25" x2="234.60" y2="534.85" stroke="#111" stroke-width="0.6"/>
<text x="234.60" y="541.15" font-size="5.0" text-anchor="middle" fill="#222">6</text>
<line x1="248.80" y1="533.25" x2="248.80" y2="534.85" stroke="#111" stroke-width="0.6"/>
<text x="248.80" y="541.15" font-size="5.0" text-anchor="middle" fill="#222">8</text>
<text x="369.50" y="318.20" font-size="11.4" textLength="59.10" lengthAdjust="spacingAndGlyphs">Final Model</text>
<circle cx="458.80" cy="338.30" r="1.65" fill="#a42624"/>
<circle cx="467.50" cy="338.30" r="1.65" fill="#a42624"/>
<circle cx="468.90" cy="338.30" r="1.65" fill="#a42624"/>
<circle cx="408.10" cy="345.70" r="1.65" fill="#a42624"/>
<circle cx="426.80" cy="345.70" r="1.65" fill="#a42624"/>
<circle cx="433.20" cy="345.70" r="1.65" fill="#a42624"/>
<circle cx="438.10" cy="345.70" r="1.65" fill="#a42624"/>
<circle cx="439.80" cy="345.70" r="1.65" fill="#a42624"/>
<circle cx="458.50" cy="345.70" r="1.65" fill="#a42624"/>
<circle cx="402.60" cy="360.80" r="1.65" fill="#a42624"/>
<circle cx="434.30" cy="360.80" r="1.65" fill="#a42624"/>
<circle cx="414.70" cy="375.70" r="1.65" fill="#a42624"/>
<circle cx="415.90" cy="375.70" r="1.65" fill="#a42624"/>
<circle cx="438.90" cy="390.40" r="1.65" fill="#a42624"/>
<circle cx="440.70" cy="390.40" r="1.65" fill="#a42624"/>
<circle cx="389.60" cy="405.40" r="1.65" fill="#a42624"/>
<circle cx="404.10" cy="405.40" r="1.65" fill="#a42624"/>
<circle cx="390.80" cy="420.30" r="1.65" fill="#a42624"/>
<circle cx="419.00" cy="420.30" r="1.65" fill="#a42624"/>
<circle cx="420.20" cy="420.30" r="1.65" fill="#a42624"/>
<circle cx="437.50" cy="420.30" r="1.65" fill="#a42624"/>
<circle cx="419.00" cy="450.00" r="1.65" fill="#a42624"/>
<circle cx="317.00" cy="472.30" r="1.65" fill="#a42624"/>
<circle cx="332.50" cy="472.30" r="1.65" fill="#a42624"/>
<circle cx="353.30" cy="472.30" r="1.65" fill="#a42624"/>
<circle cx="474.70" cy="338.30" r="1.65" fill="#1515a6"/>
<circle cx="446.40" cy="345.70" r="1.65" fill="#1515a6"/>
<circle cx="455.00" cy="345.70" r="1.65" fill="#1515a6"/>
<circle cx="462.80" cy="345.70" r="1.65" fill="#1515a6"/>
<circle cx="460.00" cy="353.00" r="1.65" fill="#1515a6"/>
<circle cx="407.40" cy="360.80" r="1.65" fill="#1515a6"/>
<circle cx="423.40" cy="360.80" r="1.65" fill="#1515a6"/>
<circle cx="428.20" cy="360.80" r="1.65" fill="#1515a6"/>
<circle cx="430.30" cy="360.80" r="1.65" fill="#1515a6"/>
<circle cx="453.30" cy="360.80" r="1.65" fill="#1515a6"/>
<circle cx="419.90" cy="368.00" r="1.65" fill="#1515a6"/>
<circle cx="443.60" cy="368.00" r="1.65" fill="#1515a6"/>
<circle cx="410.70" cy="375.70" r="1.65" fill="#1515a6"/>
<circle cx="423.40" cy="375.70" r="1.65" fill="#1515a6"/>
<circle cx="451.40" cy="375.70" r="1.65" fill="#1515a6"/>
<circle cx="428.50" cy="390.40" r="1.65" fill="#1515a6"/>
<circle cx="341.60" cy="390.40" r="1.65" fill="#1515a6"/>
<circle cx="391.50" cy="397.90" r="1.65" fill="#1515a6"/>
<circle cx="427.30" cy="405.40" r="1.65" fill="#1515a6"/>
<circle cx="393.40" cy="412.70" r="1.65" fill="#1515a6"/>
<circle cx="388.50" cy="420.30" r="1.65" fill="#1515a6"/>
<circle cx="395.60" cy="420.30" r="1.65" fill="#1515a6"/>
<circle cx="389.00" cy="435.30" r="1.65" fill="#1515a6"/>
<circle cx="402.90" cy="435.30" r="1.65" fill="#1515a6"/>
<circle cx="389.60" cy="450.00" r="1.65" fill="#1515a6"/>
<circle cx="393.90" cy="450.00" r="1.65" fill="#1515a6"/>
<circle cx="405.10" cy="450.00" r="1.65" fill="#1515a6"/>
<circle cx="368.30" cy="427.50" r="1.65" fill="#1515a6"/>
<circle cx="347.40" cy="435.20" r="1.65" fill="#1515a6"/>
<circle cx="366.90" cy="435.20" r="1.65" fill="#1515a6"/>
<circle cx="364.90" cy="442.60" r="1.65" fill="#1515a6"/>
<circle cx="345.30" cy="464.90" r="1.65" fill="#1515a6"/>
<rect x="309.30" y="325.70" width="179.70" height="159.90" fill="none" stroke="#111" stroke-width="1.3"/>
<line x1="306.10" y1="479.50" x2="309.30" y2="479.50" stroke="#111" stroke-width="1.0"/>
<text transform="translate(302.30,482.20) scale(1.07,1)" x="0" y="0" font-size="9.3" text-anchor="end" fill="#111">0</text>
<line x1="306.10" y1="449.85" x2="309.30" y2="449.85" stroke="#111" stroke-width="1.0"/>
<text transform="translate(302.30,452.55) scale(1.07,1)" x="0" y="0" font-size="9.3" text-anchor="end" fill="#111">20</text>
<line x1="306.10" y1="420.20" x2="309.30" y2="420.20" stroke="#111" stroke-width="1.0"/>
<text transform="translate(302.30,422.90) scale(1.07,1)" x="0" y="0" font-size="9.3" text-anchor="end" fill="#111">40</text>
<line x1="306.10" y1="390.55" x2="309.30" y2="390.55" stroke="#111" stroke-width="1.0"/>
<text transform="translate(302.30,393.25) scale(1.07,1)" x="0" y="0" font-size="9.3" text-anchor="end" fill="#111">60</text>
<line x1="306.10" y1="360.90" x2="309.30" y2="360.90" stroke="#111" stroke-width="1.0"/>
<text transform="translate(302.30,363.60) scale(1.07,1)" x="0" y="0" font-size="9.3" text-anchor="end" fill="#111">80</text>
<line x1="306.10" y1="331.25" x2="309.30" y2="331.25" stroke="#111" stroke-width="1.0"/>
<text transform="translate(302.30,333.95) scale(1.07,1)" x="0" y="0" font-size="9.3" text-anchor="end" fill="#111">100</text>
<line x1="316.00" y1="485.60" x2="316.00" y2="488.80" stroke="#111" stroke-width="1.0"/>
<text transform="translate(316.00,501.20) scale(1.07,1)" x="0" y="0" font-size="9.3" text-anchor="middle" fill="#111">0</text>
<line x1="349.28" y1="485.60" x2="349.28" y2="488.80" stroke="#111" stroke-width="1.0"/>
<text transform="translate(349.28,501.20) scale(1.07,1)" x="0" y="0" font-size="9.3" text-anchor="middle" fill="#111">20</text>
<line x1="382.56" y1="485.60" x2="382.56" y2="488.80" stroke="#111" stroke-width="1.0"/>
<text transform="translate(382.56,501.20) scale(1.07,1)" x="0" y="0" font-size="9.3" text-anchor="middle" fill="#111">40</text>
<line x1="415.84" y1="485.60" x2="415.84" y2="488.80" stroke="#111" stroke-width="1.0"/>
<text transform="translate(415.84,501.20) scale(1.07,1)" x="0" y="0" font-size="9.3" text-anchor="middle" fill="#111">60</text>
<line x1="449.12" y1="485.60" x2="449.12" y2="488.80" stroke="#111" stroke-width="1.0"/>
<text transform="translate(449.12,501.20) scale(1.07,1)" x="0" y="0" font-size="9.3" text-anchor="middle" fill="#111">80</text>
<line x1="482.40" y1="485.60" x2="482.40" y2="488.80" stroke="#111" stroke-width="1.0"/>
<text transform="translate(482.40,501.20) scale(1.07,1)" x="0" y="0" font-size="9.3" text-anchor="middle" fill="#111">100</text>
<text x="351.60" y="519.40" font-size="13.0" textLength="94.10" lengthAdjust="spacingAndGlyphs">Predicted Levels (%)</text>
<text transform="translate(278.80,470.50) rotate(-90)" font-size="12.8" textLength="137.00" lengthAdjust="spacingAndGlyphs">Bone Marrow Involvement (%)</text>
<text x="302.65" y="534.40" font-size="9.2" font-style="italic" textLength="98.30" lengthAdjust="spacingAndGlyphs">Adjusted R-squared: 0.5</text>
<text x="408.80" y="534.40" font-size="9.2" font-style="italic" textLength="82.90" lengthAdjust="spacingAndGlyphs">Training RMSE: 16.1</text>
<text x="302.65" y="548.10" font-size="9.2" font-style="italic" textLength="71.50" lengthAdjust="spacingAndGlyphs">P-value: 3.469e-7</text>
<text x="408.80" y="548.10" font-size="9.2" font-style="italic" textLength="90.70" lengthAdjust="spacingAndGlyphs">Validation RMSE: 19.3</text>
<text x="8.10" y="589.00" font-size="14.2" font-weight="bold">C</text>
<text x="220.20" y="588.30" font-size="11.6" textLength="98.40" lengthAdjust="spacingAndGlyphs">Hemoglobin Levels</text>
<text transform="translate(15.80,750.40) rotate(-90)" font-size="9.2" textLength="72.30" lengthAdjust="spacingAndGlyphs">Hemoglobin (g/dl)</text>
<path d="M31.00,803.00 L31.00,626.70 L27.30,634.70" fill="none" stroke="#111" stroke-width="1.5" stroke-linejoin="miter"/>
<path d="M55.5,830.50 L232.3,830.50 L223.6,833.80" fill="none" stroke="#111" stroke-width="1.5"/>
<text x="95.40" y="847.00" font-size="9.1" textLength="97.00" lengthAdjust="spacingAndGlyphs">Gene Expression (TpM)</text>
<text transform="translate(72.10,603.80) scale(0.93,1)" x="0" y="0" font-size="8.3" text-anchor="middle" fill="#1a1a1a">AJUBA</text>
<line x1="60.98" y1="635.59" x2="99.90" y2="622.98" stroke="#f1f1f1" stroke-width="1.7"/>
<rect x="68.90" y="611.00" width="1.25" height="1.25" fill="#8888b0"/>
<rect x="62.77" y="618.50" width="1.25" height="1.25" fill="#8888b0"/>
<rect x="55.70" y="625.95" width="1.25" height="1.25" fill="#8888b0"/>
<rect x="70.71" y="625.25" width="1.25" height="1.25" fill="#8888b0"/>
<rect x="65.30" y="631.13" width="1.25" height="1.25" fill="#8888b0"/>
<rect x="47.44" y="631.52" width="1.25" height="1.25" fill="#8888b0"/>
<rect x="46.20" y="636.81" width="1.25" height="1.25" fill="#8888b0"/>
<rect x="69.22" y="638.14" width="1.25" height="1.25" fill="#8888b0"/>
<rect x="56.69" y="635.77" width="1.25" height="1.25" fill="#8888b0"/>
<rect x="60.58" y="637.97" width="1.25" height="1.25" fill="#8888b0"/>
<rect x="66.79" y="637.97" width="1.25" height="1.25" fill="#8888b0"/>
<rect x="48.62" y="642.31" width="1.25" height="1.25" fill="#8888b0"/>
<rect x="44.56" y="644.85" width="1.25" height="1.25" fill="#8888b0"/>
<rect x="57.01" y="644.75" width="1.25" height="1.25" fill="#8888b0"/>
<rect x="68.03" y="644.70" width="1.25" height="1.25" fill="#8888b0"/>
<rect x="50.32" y="647.66" width="1.25" height="1.25" fill="#8888b0"/>
<rect x="45.46" y="647.73" width="1.25" height="1.25" fill="#8888b0"/>
<rect x="65.91" y="654.48" width="1.25" height="1.25" fill="#8888b0"/>
<rect x="52.03" y="655.48" width="1.25" height="1.25" fill="#8888b0"/>
<rect x="52.91" y="657.94" width="1.25" height="1.25" fill="#8888b0"/>
<rect x="71.45" y="611.46" width="1.25" height="1.25" fill="#8888b0"/>
<rect x="48.48" y="611.48" width="1.25" height="1.25" fill="#8888b0"/>
<rect x="63.85" y="615.26" width="1.25" height="1.25" fill="#8888b0"/>
<rect x="67.58" y="617.85" width="1.25" height="1.25" fill="#8888b0"/>
<rect x="69.63" y="620.76" width="1.25" height="1.25" fill="#8888b0"/>
<rect x="70.18" y="620.61" width="1.25" height="1.25" fill="#8888b0"/>
<rect x="62.31" y="624.54" width="1.25" height="1.25" fill="#8888b0"/>
<rect x="68.50" y="626.67" width="1.25" height="1.25" fill="#8888b0"/>
<rect x="62.12" y="627.76" width="1.25" height="1.25" fill="#8888b0"/>
<rect x="61.30" y="628.37" width="1.25" height="1.25" fill="#8888b0"/>
<rect x="54.21" y="627.22" width="1.25" height="1.25" fill="#8888b0"/>
<rect x="56.27" y="627.50" width="1.25" height="1.25" fill="#8888b0"/>
<rect x="59.34" y="628.71" width="1.25" height="1.25" fill="#8888b0"/>
<rect x="66.46" y="631.10" width="1.25" height="1.25" fill="#8888b0"/>
<rect x="60.12" y="633.24" width="1.25" height="1.25" fill="#8888b0"/>
<rect x="50.57" y="634.32" width="1.25" height="1.25" fill="#8888b0"/>
<rect x="54.96" y="636.79" width="1.25" height="1.25" fill="#8888b0"/>
<rect x="53.79" y="634.16" width="1.25" height="1.25" fill="#8888b0"/>
<rect x="58.91" y="636.25" width="1.25" height="1.25" fill="#8888b0"/>
<rect x="45.86" y="636.46" width="1.25" height="1.25" fill="#8888b0"/>
<rect x="57.72" y="637.03" width="1.25" height="1.25" fill="#8888b0"/>
<rect x="64.65" y="637.21" width="1.25" height="1.25" fill="#8888b0"/>
<rect x="63.44" y="638.21" width="1.25" height="1.25" fill="#8888b0"/>
<rect x="47.84" y="639.50" width="1.25" height="1.25" fill="#8888b0"/>
<rect x="49.47" y="641.06" width="1.25" height="1.25" fill="#8888b0"/>
<rect x="51.92" y="642.71" width="1.25" height="1.25" fill="#8888b0"/>
<rect x="65.08" y="642.70" width="1.25" height="1.25" fill="#8888b0"/>
<rect x="44.93" y="644.12" width="1.25" height="1.25" fill="#8888b0"/>
<rect x="54.45" y="645.06" width="1.25" height="1.25" fill="#8888b0"/>
<rect x="60.82" y="646.45" width="1.25" height="1.25" fill="#8888b0"/>
<rect x="58.01" y="647.95" width="1.25" height="1.25" fill="#8888b0"/>
<rect x="51.18" y="649.49" width="1.25" height="1.25" fill="#8888b0"/>
<rect x="49.62" y="652.67" width="1.25" height="1.25" fill="#8888b0"/>
<rect x="46.77" y="655.47" width="1.25" height="1.25" fill="#8888b0"/>
<rect x="53.38" y="658.35" width="1.25" height="1.25" fill="#8888b0"/>
<rect x="58.68" y="658.35" width="1.25" height="1.25" fill="#8888b0"/>
<rect x="43.30" y="610.10" width="57.60" height="51.50" fill="none" stroke="#111" stroke-width="1.2"/>
<line x1="41.50" y1="615.36" x2="43.30" y2="615.36" stroke="#111" stroke-width="0.6"/>
<text x="40.70" y="617.16" font-size="5.0" text-anchor="end" fill="#222">14</text>
<line x1="41.50" y1="622.88" x2="43.30" y2="622.88" stroke="#111" stroke-width="0.6"/>
<text x="40.70" y="624.68" font-size="5.0" text-anchor="end" fill="#222">13</text>
<line x1="41.50" y1="630.40" x2="43.30" y2="630.40" stroke="#111" stroke-width="0.6"/>
<text x="40.70" y="632.20" font-size="5.0" text-anchor="end" fill="#222">12</text>
<line x1="41.50" y1="637.92" x2="43.30" y2="637.92" stroke="#111" stroke-width="0.6"/>
<text x="40.70" y="639.72" font-size="5.0" text-anchor="end" fill="#222">11</text>
<line x1="41.50" y1="645.44" x2="43.30" y2="645.44" stroke="#111" stroke-width="0.6"/>
<text x="40.70" y="647.24" font-size="5.0" text-anchor="end" fill="#222">10</text>
<line x1="41.50" y1="652.95" x2="43.30" y2="652.95" stroke="#111" stroke-width="0.6"/>
<text x="40.70" y="654.75" font-size="5.0" text-anchor="end" fill="#222">9</text>
<line x1="41.50" y1="660.47" x2="43.30" y2="660.47" stroke="#111" stroke-width="0.6"/>
<text x="40.70" y="662.27" font-size="5.0" text-anchor="end" fill="#222">8</text>
<line x1="43.40" y1="661.60" x2="43.40" y2="663.20" stroke="#111" stroke-width="0.6"/>
<text x="43.40" y="669.50" font-size="5.0" text-anchor="middle" fill="#222">0.0</text>
<line x1="54.04" y1="661.60" x2="54.04" y2="663.20" stroke="#111" stroke-width="0.6"/>
<text x="54.04" y="669.50" font-size="5.0" text-anchor="middle" fill="#222">0.5</text>
<line x1="64.68" y1="661.60" x2="64.68" y2="663.20" stroke="#111" stroke-width="0.6"/>
<text x="64.68" y="669.50" font-size="5.0" text-anchor="middle" fill="#222">1.0</text>
<line x1="75.32" y1="661.60" x2="75.32" y2="663.20" stroke="#111" stroke-width="0.6"/>
<text x="75.32" y="669.50" font-size="5.0" text-anchor="middle" fill="#222">1.5</text>
<line x1="85.96" y1="661.60" x2="85.96" y2="663.20" stroke="#111" stroke-width="0.6"/>
<text x="85.96" y="669.50" font-size="5.0" text-anchor="middle" fill="#222">2.0</text>
<line x1="96.60" y1="661.60" x2="96.60" y2="663.20" stroke="#111" stroke-width="0.6"/>
<text x="96.60" y="669.50" font-size="5.0" text-anchor="middle" fill="#222">2.5</text>
<text transform="translate(148.25,603.80) scale(0.93,1)" x="0" y="0" font-size="8.3" text-anchor="middle" fill="#1a1a1a">SEC62</text>
<line x1="120.40" y1="633.27" x2="176.10" y2="643.58" stroke="#f1f1f1" stroke-width="1.7"/>
<rect x="169.80" y="610.80" width="1.25" height="1.25" fill="#8888b0"/>
<rect x="161.36" y="618.71" width="1.25" height="1.25" fill="#8888b0"/>
<rect x="158.54" y="625.98" width="1.25" height="1.25" fill="#8888b0"/>
<rect x="163.12" y="625.34" width="1.25" height="1.25" fill="#8888b0"/>
<rect x="151.59" y="631.14" width="1.25" height="1.25" fill="#8888b0"/>
<rect x="155.68" y="631.37" width="1.25" height="1.25" fill="#8888b0"/>
<rect x="167.39" y="636.54" width="1.25" height="1.25" fill="#8888b0"/>
<rect x="162.27" y="637.86" width="1.25" height="1.25" fill="#8888b0"/>
<rect x="159.23" y="635.83" width="1.25" height="1.25" fill="#8888b0"/>
<rect x="145.06" y="637.91" width="1.25" height="1.25" fill="#8888b0"/>
<rect x="149.56" y="637.90" width="1.25" height="1.25" fill="#8888b0"/>
<rect x="146.11" y="642.58" width="1.25" height="1.25" fill="#8888b0"/>
<rect x="144.65" y="644.60" width="1.25" height="1.25" fill="#8888b0"/>
<rect x="148.93" y="645.04" width="1.25" height="1.25" fill="#8888b0"/>
<rect x="152.69" y="644.85" width="1.25" height="1.25" fill="#8888b0"/>
<rect x="170.56" y="647.62" width="1.25" height="1.25" fill="#8888b0"/>
<rect x="154.19" y="647.83" width="1.25" height="1.25" fill="#8888b0"/>
<rect x="171.73" y="654.56" width="1.25" height="1.25" fill="#8888b0"/>
<rect x="143.05" y="655.38" width="1.25" height="1.25" fill="#8888b0"/>
<rect x="141.40" y="657.55" width="1.25" height="1.25" fill="#8888b0"/>
<rect x="158.02" y="611.58" width="1.25" height="1.25" fill="#8888b0"/>
<rect x="148.37" y="611.73" width="1.25" height="1.25" fill="#8888b0"/>
<rect x="139.94" y="615.52" width="1.25" height="1.25" fill="#8888b0"/>
<rect x="159.39" y="617.52" width="1.25" height="1.25" fill="#8888b0"/>
<rect x="164.10" y="620.83" width="1.25" height="1.25" fill="#8888b0"/>
<rect x="167.86" y="620.51" width="1.25" height="1.25" fill="#8888b0"/>
<rect x="165.16" y="624.62" width="1.25" height="1.25" fill="#8888b0"/>
<rect x="140.56" y="626.69" width="1.25" height="1.25" fill="#8888b0"/>
<rect x="157.17" y="627.38" width="1.25" height="1.25" fill="#8888b0"/>
<rect x="154.02" y="628.42" width="1.25" height="1.25" fill="#8888b0"/>
<rect x="142.06" y="627.34" width="1.25" height="1.25" fill="#8888b0"/>
<rect x="142.87" y="627.31" width="1.25" height="1.25" fill="#8888b0"/>
<rect x="160.99" y="629.12" width="1.25" height="1.25" fill="#8888b0"/>
<rect x="154.89" y="631.30" width="1.25" height="1.25" fill="#8888b0"/>
<rect x="144.05" y="633.77" width="1.25" height="1.25" fill="#8888b0"/>
<rect x="168.40" y="634.55" width="1.25" height="1.25" fill="#8888b0"/>
<rect x="153.02" y="636.57" width="1.25" height="1.25" fill="#8888b0"/>
<rect x="147.35" y="634.17" width="1.25" height="1.25" fill="#8888b0"/>
<rect x="160.43" y="636.75" width="1.25" height="1.25" fill="#8888b0"/>
<rect x="155.84" y="636.29" width="1.25" height="1.25" fill="#8888b0"/>
<rect x="150.14" y="637.05" width="1.25" height="1.25" fill="#8888b0"/>
<rect x="168.92" y="637.00" width="1.25" height="1.25" fill="#8888b0"/>
<rect x="171.19" y="637.95" width="1.25" height="1.25" fill="#8888b0"/>
<rect x="165.58" y="639.53" width="1.25" height="1.25" fill="#8888b0"/>
<rect x="163.51" y="640.92" width="1.25" height="1.25" fill="#8888b0"/>
<rect x="166.52" y="642.64" width="1.25" height="1.25" fill="#8888b0"/>
<rect x="151.86" y="642.89" width="1.25" height="1.25" fill="#8888b0"/>
<rect x="150.74" y="644.02" width="1.25" height="1.25" fill="#8888b0"/>
<rect x="156.60" y="645.08" width="1.25" height="1.25" fill="#8888b0"/>
<rect x="145.55" y="646.18" width="1.25" height="1.25" fill="#8888b0"/>
<rect x="170.20" y="647.97" width="1.25" height="1.25" fill="#8888b0"/>
<rect x="140.88" y="649.48" width="1.25" height="1.25" fill="#8888b0"/>
<rect x="146.58" y="652.70" width="1.25" height="1.25" fill="#8888b0"/>
<rect x="147.70" y="655.27" width="1.25" height="1.25" fill="#8888b0"/>
<rect x="162.36" y="658.72" width="1.25" height="1.25" fill="#8888b0"/>
<rect x="165.92" y="658.54" width="1.25" height="1.25" fill="#8888b0"/>
<rect x="119.40" y="610.10" width="57.70" height="51.50" fill="none" stroke="#111" stroke-width="1.2"/>
<line x1="117.60" y1="615.36" x2="119.40" y2="615.36" stroke="#111" stroke-width="0.6"/>
<text x="116.80" y="617.16" font-size="5.0" text-anchor="end" fill="#222">14</text>
<line x1="117.60" y1="622.88" x2="119.40" y2="622.88" stroke="#111" stroke-width="0.6"/>
<text x="116.80" y="624.68" font-size="5.0" text-anchor="end" fill="#222">13</text>
<line x1="117.60" y1="630.40" x2="119.40" y2="630.40" stroke="#111" stroke-width="0.6"/>
<text x="116.80" y="632.20" font-size="5.0" text-anchor="end" fill="#222">12</text>
<line x1="117.60" y1="637.92" x2="119.40" y2="637.92" stroke="#111" stroke-width="0.6"/>
<text x="116.80" y="639.72" font-size="5.0" text-anchor="end" fill="#222">11</text>
<line x1="117.60" y1="645.44" x2="119.40" y2="645.44" stroke="#111" stroke-width="0.6"/>
<text x="116.80" y="647.24" font-size="5.0" text-anchor="end" fill="#222">10</text>
<line x1="117.60" y1="652.95" x2="119.40" y2="652.95" stroke="#111" stroke-width="0.6"/>
<text x="116.80" y="654.75" font-size="5.0" text-anchor="end" fill="#222">9</text>
<line x1="117.60" y1="660.47" x2="119.40" y2="660.47" stroke="#111" stroke-width="0.6"/>
<text x="116.80" y="662.27" font-size="5.0" text-anchor="end" fill="#222">8</text>
<line x1="125.10" y1="661.60" x2="125.10" y2="663.20" stroke="#111" stroke-width="0.6"/>
<text x="125.10" y="669.50" font-size="5.0" text-anchor="middle" fill="#222">5.5</text>
<line x1="135.53" y1="661.60" x2="135.53" y2="663.20" stroke="#111" stroke-width="0.6"/>
<text x="135.53" y="669.50" font-size="5.0" text-anchor="middle" fill="#222">6.0</text>
<line x1="145.95" y1="661.60" x2="145.95" y2="663.20" stroke="#111" stroke-width="0.6"/>
<text x="145.95" y="669.50" font-size="5.0" text-anchor="middle" fill="#222">6.5</text>
<line x1="156.38" y1="661.60" x2="156.38" y2="663.20" stroke="#111" stroke-width="0.6"/>
<text x="156.38" y="669.50" font-size="5.0" text-anchor="middle" fill="#222">7.0</text>
<line x1="166.80" y1="661.60" x2="166.80" y2="663.20" stroke="#111" stroke-width="0.6"/>
<text x="166.80" y="669.50" font-size="5.0" text-anchor="middle" fill="#222">7.5</text>
<text transform="translate(223.55,603.80) scale(0.93,1)" x="0" y="0" font-size="8.3" text-anchor="middle" fill="#1a1a1a">NKIRAS1</text>
<line x1="195.70" y1="633.27" x2="251.40" y2="643.58" stroke="#f1f1f1" stroke-width="1.7"/>
<rect x="211.35" y="610.88" width="1.25" height="1.25" fill="#8888b0"/>
<rect x="236.44" y="618.72" width="1.25" height="1.25" fill="#8888b0"/>
<rect x="225.08" y="625.69" width="1.25" height="1.25" fill="#8888b0"/>
<rect x="235.26" y="625.11" width="1.25" height="1.25" fill="#8888b0"/>
<rect x="223.64" y="631.07" width="1.25" height="1.25" fill="#8888b0"/>
<rect x="225.67" y="631.19" width="1.25" height="1.25" fill="#8888b0"/>
<rect x="241.30" y="636.84" width="1.25" height="1.25" fill="#8888b0"/>
<rect x="215.10" y="637.93" width="1.25" height="1.25" fill="#8888b0"/>
<rect x="240.68" y="635.67" width="1.25" height="1.25" fill="#8888b0"/>
<rect x="234.98" y="638.24" width="1.25" height="1.25" fill="#8888b0"/>
<rect x="217.64" y="638.03" width="1.25" height="1.25" fill="#8888b0"/>
<rect x="212.13" y="642.72" width="1.25" height="1.25" fill="#8888b0"/>
<rect x="229.60" y="645.14" width="1.25" height="1.25" fill="#8888b0"/>
<rect x="228.58" y="644.83" width="1.25" height="1.25" fill="#8888b0"/>
<rect x="239.46" y="644.86" width="1.25" height="1.25" fill="#8888b0"/>
<rect x="232.70" y="648.02" width="1.25" height="1.25" fill="#8888b0"/>
<rect x="238.40" y="647.98" width="1.25" height="1.25" fill="#8888b0"/>
<rect x="219.77" y="654.53" width="1.25" height="1.25" fill="#8888b0"/>
<rect x="233.88" y="655.54" width="1.25" height="1.25" fill="#8888b0"/>
<rect x="228.78" y="657.88" width="1.25" height="1.25" fill="#8888b0"/>
<rect x="216.92" y="611.41" width="1.25" height="1.25" fill="#8888b0"/>
<rect x="226.52" y="611.65" width="1.25" height="1.25" fill="#8888b0"/>
<rect x="214.15" y="615.50" width="1.25" height="1.25" fill="#8888b0"/>
<rect x="224.12" y="617.67" width="1.25" height="1.25" fill="#8888b0"/>
<rect x="238.61" y="620.96" width="1.25" height="1.25" fill="#8888b0"/>
<rect x="231.88" y="620.81" width="1.25" height="1.25" fill="#8888b0"/>
<rect x="216.26" y="624.47" width="1.25" height="1.25" fill="#8888b0"/>
<rect x="230.25" y="626.83" width="1.25" height="1.25" fill="#8888b0"/>
<rect x="239.82" y="627.35" width="1.25" height="1.25" fill="#8888b0"/>
<rect x="209.45" y="628.01" width="1.25" height="1.25" fill="#8888b0"/>
<rect x="236.97" y="627.75" width="1.25" height="1.25" fill="#8888b0"/>
<rect x="220.67" y="627.34" width="1.25" height="1.25" fill="#8888b0"/>
<rect x="237.44" y="629.04" width="1.25" height="1.25" fill="#8888b0"/>
<rect x="227.00" y="631.12" width="1.25" height="1.25" fill="#8888b0"/>
<rect x="215.51" y="633.52" width="1.25" height="1.25" fill="#8888b0"/>
<rect x="221.59" y="634.37" width="1.25" height="1.25" fill="#8888b0"/>
<rect x="222.19" y="636.34" width="1.25" height="1.25" fill="#8888b0"/>
<rect x="227.56" y="634.44" width="1.25" height="1.25" fill="#8888b0"/>
<rect x="223.11" y="636.30" width="1.25" height="1.25" fill="#8888b0"/>
<rect x="241.75" y="636.55" width="1.25" height="1.25" fill="#8888b0"/>
<rect x="230.41" y="637.09" width="1.25" height="1.25" fill="#8888b0"/>
<rect x="219.01" y="637.22" width="1.25" height="1.25" fill="#8888b0"/>
<rect x="212.40" y="637.75" width="1.25" height="1.25" fill="#8888b0"/>
<rect x="213.15" y="639.61" width="1.25" height="1.25" fill="#8888b0"/>
<rect x="221.37" y="641.24" width="1.25" height="1.25" fill="#8888b0"/>
<rect x="213.52" y="642.78" width="1.25" height="1.25" fill="#8888b0"/>
<rect x="236.11" y="642.48" width="1.25" height="1.25" fill="#8888b0"/>
<rect x="211.00" y="644.32" width="1.25" height="1.25" fill="#8888b0"/>
<rect x="209.97" y="644.86" width="1.25" height="1.25" fill="#8888b0"/>
<rect x="233.61" y="646.45" width="1.25" height="1.25" fill="#8888b0"/>
<rect x="218.60" y="647.79" width="1.25" height="1.25" fill="#8888b0"/>
<rect x="231.46" y="649.27" width="1.25" height="1.25" fill="#8888b0"/>
<rect x="224.79" y="652.61" width="1.25" height="1.25" fill="#8888b0"/>
<rect x="220.36" y="655.66" width="1.25" height="1.25" fill="#8888b0"/>
<rect x="216.50" y="658.21" width="1.25" height="1.25" fill="#8888b0"/>
<rect x="232.37" y="658.56" width="1.25" height="1.25" fill="#8888b0"/>
<rect x="194.70" y="610.10" width="57.70" height="51.50" fill="none" stroke="#111" stroke-width="1.2"/>
<line x1="192.90" y1="615.36" x2="194.70" y2="615.36" stroke="#111" stroke-width="0.6"/>
<text x="192.10" y="617.16" font-size="5.0" text-anchor="end" fill="#222">14</text>
<line x1="192.90" y1="622.88" x2="194.70" y2="622.88" stroke="#111" stroke-width="0.6"/>
<text x="192.10" y="624.68" font-size="5.0" text-anchor="end" fill="#222">13</text>
<line x1="192.90" y1="630.40" x2="194.70" y2="630.40" stroke="#111" stroke-width="0.6"/>
<text x="192.10" y="632.20" font-size="5.0" text-anchor="end" fill="#222">12</text>
<line x1="192.90" y1="637.92" x2="194.70" y2="637.92" stroke="#111" stroke-width="0.6"/>
<text x="192.10" y="639.72" font-size="5.0" text-anchor="end" fill="#222">11</text>
<line x1="192.90" y1="645.44" x2="194.70" y2="645.44" stroke="#111" stroke-width="0.6"/>
<text x="192.10" y="647.24" font-size="5.0" text-anchor="end" fill="#222">10</text>
<line x1="192.90" y1="652.95" x2="194.70" y2="652.95" stroke="#111" stroke-width="0.6"/>
<text x="192.10" y="654.75" font-size="5.0" text-anchor="end" fill="#222">9</text>
<line x1="192.90" y1="660.47" x2="194.70" y2="660.47" stroke="#111" stroke-width="0.6"/>
<text x="192.10" y="662.27" font-size="5.0" text-anchor="end" fill="#222">8</text>
<line x1="205.50" y1="661.60" x2="205.50" y2="663.20" stroke="#111" stroke-width="0.6"/>
<text x="205.50" y="669.50" font-size="5.0" text-anchor="middle" fill="#222">2.0</text>
<line x1="219.63" y1="661.60" x2="219.63" y2="663.20" stroke="#111" stroke-width="0.6"/>
<text x="219.63" y="669.50" font-size="5.0" text-anchor="middle" fill="#222">2.5</text>
<line x1="233.77" y1="661.60" x2="233.77" y2="663.20" stroke="#111" stroke-width="0.6"/>
<text x="233.77" y="669.50" font-size="5.0" text-anchor="middle" fill="#222">3.0</text>
<line x1="247.90" y1="661.60" x2="247.90" y2="663.20" stroke="#111" stroke-width="0.6"/>
<text x="247.90" y="669.50" font-size="5.0" text-anchor="middle" fill="#222">3.5</text>
<text transform="translate(72.10,682.10) scale(0.93,1)" x="0" y="0" font-size="8.3" text-anchor="middle" fill="#1a1a1a">OS9</text>
<line x1="44.30" y1="709.04" x2="99.90" y2="719.36" stroke="#f1f1f1" stroke-width="1.7"/>
<rect x="70.53" y="689.04" width="1.25" height="1.25" fill="#8888b0"/>
<rect x="56.13" y="696.69" width="1.25" height="1.25" fill="#8888b0"/>
<rect x="83.90" y="704.03" width="1.25" height="1.25" fill="#8888b0"/>
<rect x="85.09" y="703.71" width="1.25" height="1.25" fill="#8888b0"/>
<rect x="80.52" y="709.52" width="1.25" height="1.25" fill="#8888b0"/>
<rect x="58.15" y="709.49" width="1.25" height="1.25" fill="#8888b0"/>
<rect x="63.10" y="715.15" width="1.25" height="1.25" fill="#8888b0"/>
<rect x="55.63" y="716.38" width="1.25" height="1.25" fill="#8888b0"/>
<rect x="80.90" y="714.09" width="1.25" height="1.25" fill="#8888b0"/>
<rect x="57.38" y="716.49" width="1.25" height="1.25" fill="#8888b0"/>
<rect x="67.52" y="716.31" width="1.25" height="1.25" fill="#8888b0"/>
<rect x="74.25" y="721.11" width="1.25" height="1.25" fill="#8888b0"/>
<rect x="86.64" y="722.94" width="1.25" height="1.25" fill="#8888b0"/>
<rect x="71.22" y="722.91" width="1.25" height="1.25" fill="#8888b0"/>
<rect x="87.57" y="723.42" width="1.25" height="1.25" fill="#8888b0"/>
<rect x="69.27" y="726.44" width="1.25" height="1.25" fill="#8888b0"/>
<rect x="86.78" y="726.52" width="1.25" height="1.25" fill="#8888b0"/>
<rect x="71.89" y="733.02" width="1.25" height="1.25" fill="#8888b0"/>
<rect x="86.03" y="734.02" width="1.25" height="1.25" fill="#8888b0"/>
<rect x="82.64" y="736.42" width="1.25" height="1.25" fill="#8888b0"/>
<rect x="56.74" y="689.89" width="1.25" height="1.25" fill="#8888b0"/>
<rect x="76.87" y="689.86" width="1.25" height="1.25" fill="#8888b0"/>
<rect x="81.69" y="693.42" width="1.25" height="1.25" fill="#8888b0"/>
<rect x="75.62" y="695.94" width="1.25" height="1.25" fill="#8888b0"/>
<rect x="70.17" y="699.35" width="1.25" height="1.25" fill="#8888b0"/>
<rect x="73.26" y="698.91" width="1.25" height="1.25" fill="#8888b0"/>
<rect x="59.50" y="702.93" width="1.25" height="1.25" fill="#8888b0"/>
<rect x="60.34" y="705.05" width="1.25" height="1.25" fill="#8888b0"/>
<rect x="79.22" y="705.59" width="1.25" height="1.25" fill="#8888b0"/>
<rect x="77.98" y="706.73" width="1.25" height="1.25" fill="#8888b0"/>
<rect x="60.83" y="705.74" width="1.25" height="1.25" fill="#8888b0"/>
<rect x="66.06" y="706.09" width="1.25" height="1.25" fill="#8888b0"/>
<rect x="74.45" y="707.48" width="1.25" height="1.25" fill="#8888b0"/>
<rect x="68.93" y="709.94" width="1.25" height="1.25" fill="#8888b0"/>
<rect x="63.73" y="712.12" width="1.25" height="1.25" fill="#8888b0"/>
<rect x="72.41" y="712.89" width="1.25" height="1.25" fill="#8888b0"/>
<rect x="72.76" y="714.72" width="1.25" height="1.25" fill="#8888b0"/>
<rect x="58.89" y="712.81" width="1.25" height="1.25" fill="#8888b0"/>
<rect x="66.52" y="714.94" width="1.25" height="1.25" fill="#8888b0"/>
<rect x="64.47" y="714.69" width="1.25" height="1.25" fill="#8888b0"/>
<rect x="61.95" y="715.45" width="1.25" height="1.25" fill="#8888b0"/>
<rect x="75.05" y="715.76" width="1.25" height="1.25" fill="#8888b0"/>
<rect x="65.29" y="716.48" width="1.25" height="1.25" fill="#8888b0"/>
<rect x="82.43" y="717.66" width="1.25" height="1.25" fill="#8888b0"/>
<rect x="79.06" y="719.50" width="1.25" height="1.25" fill="#8888b0"/>
<rect x="84.45" y="721.08" width="1.25" height="1.25" fill="#8888b0"/>
<rect x="57.70" y="721.08" width="1.25" height="1.25" fill="#8888b0"/>
<rect x="68.11" y="722.39" width="1.25" height="1.25" fill="#8888b0"/>
<rect x="61.23" y="723.40" width="1.25" height="1.25" fill="#8888b0"/>
<rect x="77.78" y="725.09" width="1.25" height="1.25" fill="#8888b0"/>
<rect x="67.36" y="726.52" width="1.25" height="1.25" fill="#8888b0"/>
<rect x="79.73" y="727.99" width="1.25" height="1.25" fill="#8888b0"/>
<rect x="76.70" y="730.88" width="1.25" height="1.25" fill="#8888b0"/>
<rect x="63.96" y="733.92" width="1.25" height="1.25" fill="#8888b0"/>
<rect x="62.52" y="736.97" width="1.25" height="1.25" fill="#8888b0"/>
<rect x="83.36" y="736.98" width="1.25" height="1.25" fill="#8888b0"/>
<rect x="43.30" y="688.40" width="57.60" height="51.60" fill="none" stroke="#111" stroke-width="1.2"/>
<line x1="41.50" y1="693.67" x2="43.30" y2="693.67" stroke="#111" stroke-width="0.6"/>
<text x="40.70" y="695.47" font-size="5.0" text-anchor="end" fill="#222">14</text>
<line x1="41.50" y1="701.21" x2="43.30" y2="701.21" stroke="#111" stroke-width="0.6"/>
<text x="40.70" y="703.01" font-size="5.0" text-anchor="end" fill="#222">13</text>
<line x1="41.50" y1="708.74" x2="43.30" y2="708.74" stroke="#111" stroke-width="0.6"/>
<text x="40.70" y="710.54" font-size="5.0" text-anchor="end" fill="#222">12</text>
<line x1="41.50" y1="716.27" x2="43.30" y2="716.27" stroke="#111" stroke-width="0.6"/>
<text x="40.70" y="718.07" font-size="5.0" text-anchor="end" fill="#222">11</text>
<line x1="41.50" y1="723.80" x2="43.30" y2="723.80" stroke="#111" stroke-width="0.6"/>
<text x="40.70" y="725.60" font-size="5.0" text-anchor="end" fill="#222">10</text>
<line x1="41.50" y1="731.34" x2="43.30" y2="731.34" stroke="#111" stroke-width="0.6"/>
<text x="40.70" y="733.14" font-size="5.0" text-anchor="end" fill="#222">9</text>
<line x1="41.50" y1="738.87" x2="43.30" y2="738.87" stroke="#111" stroke-width="0.6"/>
<text x="40.70" y="740.67" font-size="5.0" text-anchor="end" fill="#222">8</text>
<line x1="55.50" y1="740.00" x2="55.50" y2="741.60" stroke="#111" stroke-width="0.6"/>
<text x="55.50" y="747.90" font-size="5.0" text-anchor="middle" fill="#222">7.5</text>
<line x1="70.90" y1="740.00" x2="70.90" y2="741.60" stroke="#111" stroke-width="0.6"/>
<text x="70.90" y="747.90" font-size="5.0" text-anchor="middle" fill="#222">8.0</text>
<line x1="86.30" y1="740.00" x2="86.30" y2="741.60" stroke="#111" stroke-width="0.6"/>
<text x="86.30" y="747.90" font-size="5.0" text-anchor="middle" fill="#222">8.5</text>
<text transform="translate(148.25,682.10) scale(0.93,1)" x="0" y="0" font-size="8.3" text-anchor="middle" fill="#1a1a1a">NOTCH1</text>
<line x1="120.40" y1="721.94" x2="176.10" y2="709.04" stroke="#f1f1f1" stroke-width="1.7"/>
<rect x="164.91" y="689.13" width="1.25" height="1.25" fill="#8888b0"/>
<rect x="172.02" y="696.49" width="1.25" height="1.25" fill="#8888b0"/>
<rect x="141.54" y="704.40" width="1.25" height="1.25" fill="#8888b0"/>
<rect x="167.82" y="703.64" width="1.25" height="1.25" fill="#8888b0"/>
<rect x="163.40" y="709.68" width="1.25" height="1.25" fill="#8888b0"/>
<rect x="136.52" y="709.81" width="1.25" height="1.25" fill="#8888b0"/>
<rect x="158.03" y="714.91" width="1.25" height="1.25" fill="#8888b0"/>
<rect x="140.04" y="716.24" width="1.25" height="1.25" fill="#8888b0"/>
<rect x="153.12" y="714.40" width="1.25" height="1.25" fill="#8888b0"/>
<rect x="169.35" y="716.39" width="1.25" height="1.25" fill="#8888b0"/>
<rect x="159.20" y="716.30" width="1.25" height="1.25" fill="#8888b0"/>
<rect x="160.98" y="720.75" width="1.25" height="1.25" fill="#8888b0"/>
<rect x="162.33" y="723.45" width="1.25" height="1.25" fill="#8888b0"/>
<rect x="152.31" y="723.00" width="1.25" height="1.25" fill="#8888b0"/>
<rect x="146.26" y="723.37" width="1.25" height="1.25" fill="#8888b0"/>
<rect x="145.34" y="726.44" width="1.25" height="1.25" fill="#8888b0"/>
<rect x="144.17" y="726.31" width="1.25" height="1.25" fill="#8888b0"/>
<rect x="137.93" y="733.16" width="1.25" height="1.25" fill="#8888b0"/>
<rect x="155.19" y="733.66" width="1.25" height="1.25" fill="#8888b0"/>
<rect x="135.01" y="735.95" width="1.25" height="1.25" fill="#8888b0"/>
<rect x="144.02" y="690.03" width="1.25" height="1.25" fill="#8888b0"/>
<rect x="168.85" y="689.81" width="1.25" height="1.25" fill="#8888b0"/>
<rect x="166.71" y="693.73" width="1.25" height="1.25" fill="#8888b0"/>
<rect x="147.35" y="695.92" width="1.25" height="1.25" fill="#8888b0"/>
<rect x="130.10" y="699.34" width="1.25" height="1.25" fill="#8888b0"/>
<rect x="135.99" y="698.82" width="1.25" height="1.25" fill="#8888b0"/>
<rect x="154.35" y="702.76" width="1.25" height="1.25" fill="#8888b0"/>
<rect x="150.16" y="705.12" width="1.25" height="1.25" fill="#8888b0"/>
<rect x="157.26" y="705.98" width="1.25" height="1.25" fill="#8888b0"/>
<rect x="170.35" y="706.42" width="1.25" height="1.25" fill="#8888b0"/>
<rect x="153.63" y="705.59" width="1.25" height="1.25" fill="#8888b0"/>
<rect x="171.10" y="706.01" width="1.25" height="1.25" fill="#8888b0"/>
<rect x="146.62" y="707.00" width="1.25" height="1.25" fill="#8888b0"/>
<rect x="142.62" y="709.53" width="1.25" height="1.25" fill="#8888b0"/>
<rect x="164.01" y="711.93" width="1.25" height="1.25" fill="#8888b0"/>
<rect x="156.34" y="712.75" width="1.25" height="1.25" fill="#8888b0"/>
<rect x="160.08" y="714.78" width="1.25" height="1.25" fill="#8888b0"/>
<rect x="129.77" y="712.57" width="1.25" height="1.25" fill="#8888b0"/>
<rect x="131.46" y="715.09" width="1.25" height="1.25" fill="#8888b0"/>
<rect x="158.56" y="715.00" width="1.25" height="1.25" fill="#8888b0"/>
<rect x="166.82" y="715.61" width="1.25" height="1.25" fill="#8888b0"/>
<rect x="137.71" y="715.57" width="1.25" height="1.25" fill="#8888b0"/>
<rect x="150.90" y="716.33" width="1.25" height="1.25" fill="#8888b0"/>
<rect x="142.44" y="718.16" width="1.25" height="1.25" fill="#8888b0"/>
<rect x="148.81" y="719.44" width="1.25" height="1.25" fill="#8888b0"/>
<rect x="134.17" y="720.95" width="1.25" height="1.25" fill="#8888b0"/>
<rect x="132.23" y="721.09" width="1.25" height="1.25" fill="#8888b0"/>
<rect x="148.35" y="722.61" width="1.25" height="1.25" fill="#8888b0"/>
<rect x="132.76" y="723.16" width="1.25" height="1.25" fill="#8888b0"/>
<rect x="161.99" y="725.00" width="1.25" height="1.25" fill="#8888b0"/>
<rect x="129.01" y="726.17" width="1.25" height="1.25" fill="#8888b0"/>
<rect x="151.77" y="727.51" width="1.25" height="1.25" fill="#8888b0"/>
<rect x="139.15" y="730.91" width="1.25" height="1.25" fill="#8888b0"/>
<rect x="165.53" y="733.94" width="1.25" height="1.25" fill="#8888b0"/>
<rect x="140.41" y="736.79" width="1.25" height="1.25" fill="#8888b0"/>
<rect x="133.44" y="737.07" width="1.25" height="1.25" fill="#8888b0"/>
<rect x="119.40" y="688.40" width="57.70" height="51.60" fill="none" stroke="#111" stroke-width="1.2"/>
<line x1="117.60" y1="693.67" x2="119.40" y2="693.67" stroke="#111" stroke-width="0.6"/>
<text x="116.80" y="695.47" font-size="5.0" text-anchor="end" fill="#222">14</text>
<line x1="117.60" y1="701.21" x2="119.40" y2="701.21" stroke="#111" stroke-width="0.6"/>
<text x="116.80" y="703.01" font-size="5.0" text-anchor="end" fill="#222">13</text>
<line x1="117.60" y1="708.74" x2="119.40" y2="708.74" stroke="#111" stroke-width="0.6"/>
<text x="116.80" y="710.54" font-size="5.0" text-anchor="end" fill="#222">12</text>
<line x1="117.60" y1="716.27" x2="119.40" y2="716.27" stroke="#111" stroke-width="0.6"/>
<text x="116.80" y="718.07" font-size="5.0" text-anchor="end" fill="#222">11</text>
<line x1="117.60" y1="723.80" x2="119.40" y2="723.80" stroke="#111" stroke-width="0.6"/>
<text x="116.80" y="725.60" font-size="5.0" text-anchor="end" fill="#222">10</text>
<line x1="117.60" y1="731.34" x2="119.40" y2="731.34" stroke="#111" stroke-width="0.6"/>
<text x="116.80" y="733.14" font-size="5.0" text-anchor="end" fill="#222">9</text>
<line x1="117.60" y1="738.87" x2="119.40" y2="738.87" stroke="#111" stroke-width="0.6"/>
<text x="116.80" y="740.67" font-size="5.0" text-anchor="end" fill="#222">8</text>
<line x1="130.70" y1="740.00" x2="130.70" y2="741.60" stroke="#111" stroke-width="0.6"/>
<text x="130.70" y="747.90" font-size="5.0" text-anchor="middle" fill="#222">2</text>
<line x1="144.67" y1="740.00" x2="144.67" y2="741.60" stroke="#111" stroke-width="0.6"/>
<text x="144.67" y="747.90" font-size="5.0" text-anchor="middle" fill="#222">3</text>
<line x1="158.63" y1="740.00" x2="158.63" y2="741.60" stroke="#111" stroke-width="0.6"/>
<text x="158.63" y="747.90" font-size="5.0" text-anchor="middle" fill="#222">4</text>
<line x1="172.60" y1="740.00" x2="172.60" y2="741.60" stroke="#111" stroke-width="0.6"/>
<text x="172.60" y="747.90" font-size="5.0" text-anchor="middle" fill="#222">5</text>
<text transform="translate(223.55,682.10) scale(0.93,1)" x="0" y="0" font-size="8.3" text-anchor="middle" fill="#1a1a1a">PIK3AP1</text>
<line x1="195.70" y1="729.68" x2="251.40" y2="706.46" stroke="#f1f1f1" stroke-width="1.7"/>
<rect x="215.56" y="689.30" width="1.25" height="1.25" fill="#8888b0"/>
<rect x="231.82" y="696.54" width="1.25" height="1.25" fill="#8888b0"/>
<rect x="223.69" y="704.31" width="1.25" height="1.25" fill="#8888b0"/>
<rect x="221.49" y="703.78" width="1.25" height="1.25" fill="#8888b0"/>
<rect x="238.94" y="709.58" width="1.25" height="1.25" fill="#8888b0"/>
<rect x="228.32" y="709.53" width="1.25" height="1.25" fill="#8888b0"/>
<rect x="230.46" y="714.74" width="1.25" height="1.25" fill="#8888b0"/>
<rect x="214.02" y="716.60" width="1.25" height="1.25" fill="#8888b0"/>
<rect x="227.39" y="714.16" width="1.25" height="1.25" fill="#8888b0"/>
<rect x="233.12" y="716.57" width="1.25" height="1.25" fill="#8888b0"/>
<rect x="214.32" y="716.48" width="1.25" height="1.25" fill="#8888b0"/>
<rect x="230.04" y="720.66" width="1.25" height="1.25" fill="#8888b0"/>
<rect x="223.19" y="723.44" width="1.25" height="1.25" fill="#8888b0"/>
<rect x="225.38" y="723.22" width="1.25" height="1.25" fill="#8888b0"/>
<rect x="241.63" y="723.33" width="1.25" height="1.25" fill="#8888b0"/>
<rect x="216.58" y="726.44" width="1.25" height="1.25" fill="#8888b0"/>
<rect x="217.44" y="726.08" width="1.25" height="1.25" fill="#8888b0"/>
<rect x="212.02" y="733.30" width="1.25" height="1.25" fill="#8888b0"/>
<rect x="232.57" y="734.10" width="1.25" height="1.25" fill="#8888b0"/>
<rect x="212.89" y="735.93" width="1.25" height="1.25" fill="#8888b0"/>
<rect x="241.03" y="689.85" width="1.25" height="1.25" fill="#8888b0"/>
<rect x="226.32" y="689.56" width="1.25" height="1.25" fill="#8888b0"/>
<rect x="236.23" y="693.67" width="1.25" height="1.25" fill="#8888b0"/>
<rect x="240.31" y="696.13" width="1.25" height="1.25" fill="#8888b0"/>
<rect x="240.65" y="699.28" width="1.25" height="1.25" fill="#8888b0"/>
<rect x="233.62" y="699.00" width="1.25" height="1.25" fill="#8888b0"/>
<rect x="231.91" y="702.65" width="1.25" height="1.25" fill="#8888b0"/>
<rect x="226.77" y="705.18" width="1.25" height="1.25" fill="#8888b0"/>
<rect x="238.71" y="706.06" width="1.25" height="1.25" fill="#8888b0"/>
<rect x="229.72" y="706.83" width="1.25" height="1.25" fill="#8888b0"/>
<rect x="235.02" y="705.72" width="1.25" height="1.25" fill="#8888b0"/>
<rect x="237.58" y="706.05" width="1.25" height="1.25" fill="#8888b0"/>
<rect x="237.82" y="707.27" width="1.25" height="1.25" fill="#8888b0"/>
<rect x="218.40" y="709.49" width="1.25" height="1.25" fill="#8888b0"/>
<rect x="228.95" y="711.70" width="1.25" height="1.25" fill="#8888b0"/>
<rect x="215.07" y="712.79" width="1.25" height="1.25" fill="#8888b0"/>
<rect x="217.20" y="715.10" width="1.25" height="1.25" fill="#8888b0"/>
<rect x="224.45" y="712.62" width="1.25" height="1.25" fill="#8888b0"/>
<rect x="219.04" y="714.91" width="1.25" height="1.25" fill="#8888b0"/>
<rect x="220.31" y="714.88" width="1.25" height="1.25" fill="#8888b0"/>
<rect x="231.24" y="715.81" width="1.25" height="1.25" fill="#8888b0"/>
<rect x="215.97" y="715.92" width="1.25" height="1.25" fill="#8888b0"/>
<rect x="221.83" y="716.63" width="1.25" height="1.25" fill="#8888b0"/>
<rect x="235.25" y="718.17" width="1.25" height="1.25" fill="#8888b0"/>
<rect x="234.46" y="719.42" width="1.25" height="1.25" fill="#8888b0"/>
<rect x="213.08" y="720.98" width="1.25" height="1.25" fill="#8888b0"/>
<rect x="223.99" y="721.13" width="1.25" height="1.25" fill="#8888b0"/>
<rect x="239.53" y="722.58" width="1.25" height="1.25" fill="#8888b0"/>
<rect x="235.65" y="723.27" width="1.25" height="1.25" fill="#8888b0"/>
<rect x="236.91" y="724.56" width="1.25" height="1.25" fill="#8888b0"/>
<rect x="227.74" y="726.23" width="1.25" height="1.25" fill="#8888b0"/>
<rect x="218.70" y="727.76" width="1.25" height="1.25" fill="#8888b0"/>
<rect x="221.11" y="730.80" width="1.25" height="1.25" fill="#8888b0"/>
<rect x="219.83" y="733.77" width="1.25" height="1.25" fill="#8888b0"/>
<rect x="225.67" y="736.84" width="1.25" height="1.25" fill="#8888b0"/>
<rect x="222.71" y="736.79" width="1.25" height="1.25" fill="#8888b0"/>
<rect x="194.70" y="688.40" width="57.70" height="51.60" fill="none" stroke="#111" stroke-width="1.2"/>
<line x1="192.90" y1="693.67" x2="194.70" y2="693.67" stroke="#111" stroke-width="0.6"/>
<text x="192.10" y="695.47" font-size="5.0" text-anchor="end" fill="#222">14</text>
<line x1="192.90" y1="701.21" x2="194.70" y2="701.21" stroke="#111" stroke-width="0.6"/>
<text x="192.10" y="703.01" font-size="5.0" text-anchor="end" fill="#222">13</text>
<line x1="192.90" y1="708.74" x2="194.70" y2="708.74" stroke="#111" stroke-width="0.6"/>
<text x="192.10" y="710.54" font-size="5.0" text-anchor="end" fill="#222">12</text>
<line x1="192.90" y1="716.27" x2="194.70" y2="716.27" stroke="#111" stroke-width="0.6"/>
<text x="192.10" y="718.07" font-size="5.0" text-anchor="end" fill="#222">11</text>
<line x1="192.90" y1="723.80" x2="194.70" y2="723.80" stroke="#111" stroke-width="0.6"/>
<text x="192.10" y="725.60" font-size="5.0" text-anchor="end" fill="#222">10</text>
<line x1="192.90" y1="731.34" x2="194.70" y2="731.34" stroke="#111" stroke-width="0.6"/>
<text x="192.10" y="733.14" font-size="5.0" text-anchor="end" fill="#222">9</text>
<line x1="192.90" y1="738.87" x2="194.70" y2="738.87" stroke="#111" stroke-width="0.6"/>
<text x="192.10" y="740.67" font-size="5.0" text-anchor="end" fill="#222">8</text>
<line x1="201.50" y1="740.00" x2="201.50" y2="741.60" stroke="#111" stroke-width="0.6"/>
<text x="201.50" y="747.90" font-size="5.0" text-anchor="middle" fill="#222">6.0</text>
<line x1="209.82" y1="740.00" x2="209.82" y2="741.60" stroke="#111" stroke-width="0.6"/>
<text x="209.82" y="747.90" font-size="5.0" text-anchor="middle" fill="#222">6.5</text>
<line x1="218.14" y1="740.00" x2="218.14" y2="741.60" stroke="#111" stroke-width="0.6"/>
<text x="218.14" y="747.90" font-size="5.0" text-anchor="middle" fill="#222">7.0</text>
<line x1="226.46" y1="740.00" x2="226.46" y2="741.60" stroke="#111" stroke-width="0.6"/>
<text x="226.46" y="747.90" font-size="5.0" text-anchor="middle" fill="#222">7.5</text>
<line x1="234.78" y1="740.00" x2="234.78" y2="741.60" stroke="#111" stroke-width="0.6"/>
<text x="234.78" y="747.90" font-size="5.0" text-anchor="middle" fill="#222">8.0</text>
<line x1="243.10" y1="740.00" x2="243.10" y2="741.60" stroke="#111" stroke-width="0.6"/>
<text x="243.10" y="747.90" font-size="5.0" text-anchor="middle" fill="#222">8.5</text>
<text transform="translate(72.10,760.50) scale(0.93,1)" x="0" y="0" font-size="8.3" text-anchor="middle" fill="#1a1a1a">CXCL13</text>
<line x1="44.30" y1="790.16" x2="99.90" y2="800.54" stroke="#f1f1f1" stroke-width="1.7"/>
<rect x="72.12" y="767.59" width="1.25" height="1.25" fill="#8888b0"/>
<rect x="64.19" y="775.23" width="1.25" height="1.25" fill="#8888b0"/>
<rect x="56.66" y="782.94" width="1.25" height="1.25" fill="#8888b0"/>
<rect x="82.57" y="781.76" width="1.25" height="1.25" fill="#8888b0"/>
<rect x="75.28" y="787.91" width="1.25" height="1.25" fill="#8888b0"/>
<rect x="57.66" y="788.14" width="1.25" height="1.25" fill="#8888b0"/>
<rect x="94.56" y="793.51" width="1.25" height="1.25" fill="#8888b0"/>
<rect x="59.44" y="795.10" width="1.25" height="1.25" fill="#8888b0"/>
<rect x="84.55" y="792.65" width="1.25" height="1.25" fill="#8888b0"/>
<rect x="87.93" y="794.74" width="1.25" height="1.25" fill="#8888b0"/>
<rect x="95.55" y="795.14" width="1.25" height="1.25" fill="#8888b0"/>
<rect x="66.77" y="799.68" width="1.25" height="1.25" fill="#8888b0"/>
<rect x="67.36" y="802.12" width="1.25" height="1.25" fill="#8888b0"/>
<rect x="81.54" y="801.58" width="1.25" height="1.25" fill="#8888b0"/>
<rect x="74.05" y="801.66" width="1.25" height="1.25" fill="#8888b0"/>
<rect x="79.02" y="804.90" width="1.25" height="1.25" fill="#8888b0"/>
<rect x="69.24" y="804.60" width="1.25" height="1.25" fill="#8888b0"/>
<rect x="92.19" y="811.81" width="1.25" height="1.25" fill="#8888b0"/>
<rect x="54.83" y="812.80" width="1.25" height="1.25" fill="#8888b0"/>
<rect x="49.42" y="815.06" width="1.25" height="1.25" fill="#8888b0"/>
<rect x="76.63" y="768.05" width="1.25" height="1.25" fill="#8888b0"/>
<rect x="53.84" y="768.41" width="1.25" height="1.25" fill="#8888b0"/>
<rect x="80.21" y="772.14" width="1.25" height="1.25" fill="#8888b0"/>
<rect x="93.22" y="774.56" width="1.25" height="1.25" fill="#8888b0"/>
<rect x="83.96" y="777.22" width="1.25" height="1.25" fill="#8888b0"/>
<rect x="47.50" y="777.56" width="1.25" height="1.25" fill="#8888b0"/>
<rect x="70.42" y="781.17" width="1.25" height="1.25" fill="#8888b0"/>
<rect x="93.91" y="783.41" width="1.25" height="1.25" fill="#8888b0"/>
<rect x="62.01" y="784.07" width="1.25" height="1.25" fill="#8888b0"/>
<rect x="50.09" y="784.85" width="1.25" height="1.25" fill="#8888b0"/>
<rect x="80.63" y="784.41" width="1.25" height="1.25" fill="#8888b0"/>
<rect x="51.33" y="784.25" width="1.25" height="1.25" fill="#8888b0"/>
<rect x="89.40" y="785.58" width="1.25" height="1.25" fill="#8888b0"/>
<rect x="55.78" y="788.26" width="1.25" height="1.25" fill="#8888b0"/>
<rect x="89.75" y="790.31" width="1.25" height="1.25" fill="#8888b0"/>
<rect x="90.88" y="791.35" width="1.25" height="1.25" fill="#8888b0"/>
<rect x="46.56" y="793.47" width="1.25" height="1.25" fill="#8888b0"/>
<rect x="65.99" y="791.26" width="1.25" height="1.25" fill="#8888b0"/>
<rect x="76.11" y="793.11" width="1.25" height="1.25" fill="#8888b0"/>
<rect x="87.07" y="793.11" width="1.25" height="1.25" fill="#8888b0"/>
<rect x="52.70" y="794.05" width="1.25" height="1.25" fill="#8888b0"/>
<rect x="52.19" y="794.42" width="1.25" height="1.25" fill="#8888b0"/>
<rect x="62.99" y="794.68" width="1.25" height="1.25" fill="#8888b0"/>
<rect x="44.38" y="796.34" width="1.25" height="1.25" fill="#8888b0"/>
<rect x="86.48" y="798.22" width="1.25" height="1.25" fill="#8888b0"/>
<rect x="48.04" y="799.40" width="1.25" height="1.25" fill="#8888b0"/>
<rect x="60.45" y="799.45" width="1.25" height="1.25" fill="#8888b0"/>
<rect x="61.64" y="801.27" width="1.25" height="1.25" fill="#8888b0"/>
<rect x="65.13" y="801.80" width="1.25" height="1.25" fill="#8888b0"/>
<rect x="45.44" y="803.18" width="1.25" height="1.25" fill="#8888b0"/>
<rect x="68.86" y="804.96" width="1.25" height="1.25" fill="#8888b0"/>
<rect x="73.21" y="806.67" width="1.25" height="1.25" fill="#8888b0"/>
<rect x="58.15" y="809.54" width="1.25" height="1.25" fill="#8888b0"/>
<rect x="71.65" y="812.33" width="1.25" height="1.25" fill="#8888b0"/>
<rect x="78.21" y="815.29" width="1.25" height="1.25" fill="#8888b0"/>
<rect x="85.48" y="815.44" width="1.25" height="1.25" fill="#8888b0"/>
<rect x="43.30" y="766.80" width="57.60" height="51.90" fill="none" stroke="#111" stroke-width="1.2"/>
<line x1="41.50" y1="772.10" x2="43.30" y2="772.10" stroke="#111" stroke-width="0.6"/>
<text x="40.70" y="773.90" font-size="5.0" text-anchor="end" fill="#222">14</text>
<line x1="41.50" y1="779.68" x2="43.30" y2="779.68" stroke="#111" stroke-width="0.6"/>
<text x="40.70" y="781.48" font-size="5.0" text-anchor="end" fill="#222">13</text>
<line x1="41.50" y1="787.26" x2="43.30" y2="787.26" stroke="#111" stroke-width="0.6"/>
<text x="40.70" y="789.06" font-size="5.0" text-anchor="end" fill="#222">12</text>
<line x1="41.50" y1="794.83" x2="43.30" y2="794.83" stroke="#111" stroke-width="0.6"/>
<text x="40.70" y="796.63" font-size="5.0" text-anchor="end" fill="#222">11</text>
<line x1="41.50" y1="802.41" x2="43.30" y2="802.41" stroke="#111" stroke-width="0.6"/>
<text x="40.70" y="804.21" font-size="5.0" text-anchor="end" fill="#222">10</text>
<line x1="41.50" y1="809.99" x2="43.30" y2="809.99" stroke="#111" stroke-width="0.6"/>
<text x="40.70" y="811.79" font-size="5.0" text-anchor="end" fill="#222">9</text>
<line x1="41.50" y1="817.56" x2="43.30" y2="817.56" stroke="#111" stroke-width="0.6"/>
<text x="40.70" y="819.36" font-size="5.0" text-anchor="end" fill="#222">8</text>
<line x1="45.50" y1="818.70" x2="45.50" y2="820.30" stroke="#111" stroke-width="0.6"/>
<text x="45.50" y="826.60" font-size="5.0" text-anchor="middle" fill="#222">0</text>
<line x1="55.00" y1="818.70" x2="55.00" y2="820.30" stroke="#111" stroke-width="0.6"/>
<text x="55.00" y="826.60" font-size="5.0" text-anchor="middle" fill="#222">1</text>
<line x1="64.50" y1="818.70" x2="64.50" y2="820.30" stroke="#111" stroke-width="0.6"/>
<text x="64.50" y="826.60" font-size="5.0" text-anchor="middle" fill="#222">2</text>
<line x1="74.00" y1="818.70" x2="74.00" y2="820.30" stroke="#111" stroke-width="0.6"/>
<text x="74.00" y="826.60" font-size="5.0" text-anchor="middle" fill="#222">3</text>
<line x1="83.50" y1="818.70" x2="83.50" y2="820.30" stroke="#111" stroke-width="0.6"/>
<text x="83.50" y="826.60" font-size="5.0" text-anchor="middle" fill="#222">4</text>
<line x1="93.00" y1="818.70" x2="93.00" y2="820.30" stroke="#111" stroke-width="0.6"/>
<text x="93.00" y="826.60" font-size="5.0" text-anchor="middle" fill="#222">5</text>
<text transform="translate(148.25,760.50) scale(0.93,1)" x="0" y="0" font-size="8.3" text-anchor="middle" fill="#1a1a1a">CD46</text>
<line x1="120.40" y1="779.78" x2="176.10" y2="800.54" stroke="#f1f1f1" stroke-width="1.7"/>
<rect x="151.97" y="767.70" width="1.25" height="1.25" fill="#8888b0"/>
<rect x="154.75" y="775.17" width="1.25" height="1.25" fill="#8888b0"/>
<rect x="147.70" y="783.09" width="1.25" height="1.25" fill="#8888b0"/>
<rect x="150.53" y="782.16" width="1.25" height="1.25" fill="#8888b0"/>
<rect x="167.22" y="788.05" width="1.25" height="1.25" fill="#8888b0"/>
<rect x="162.83" y="788.44" width="1.25" height="1.25" fill="#8888b0"/>
<rect x="151.23" y="793.53" width="1.25" height="1.25" fill="#8888b0"/>
<rect x="155.55" y="794.87" width="1.25" height="1.25" fill="#8888b0"/>
<rect x="151.44" y="792.51" width="1.25" height="1.25" fill="#8888b0"/>
<rect x="149.75" y="794.99" width="1.25" height="1.25" fill="#8888b0"/>
<rect x="164.19" y="794.90" width="1.25" height="1.25" fill="#8888b0"/>
<rect x="157.20" y="799.54" width="1.25" height="1.25" fill="#8888b0"/>
<rect x="163.74" y="802.10" width="1.25" height="1.25" fill="#8888b0"/>
<rect x="165.64" y="802.03" width="1.25" height="1.25" fill="#8888b0"/>
<rect x="161.46" y="801.75" width="1.25" height="1.25" fill="#8888b0"/>
<rect x="172.61" y="804.98" width="1.25" height="1.25" fill="#8888b0"/>
<rect x="171.38" y="804.65" width="1.25" height="1.25" fill="#8888b0"/>
<rect x="156.05" y="811.53" width="1.25" height="1.25" fill="#8888b0"/>
<rect x="165.36" y="812.42" width="1.25" height="1.25" fill="#8888b0"/>
<rect x="158.63" y="814.82" width="1.25" height="1.25" fill="#8888b0"/>
<rect x="153.32" y="768.22" width="1.25" height="1.25" fill="#8888b0"/>
<rect x="156.64" y="767.99" width="1.25" height="1.25" fill="#8888b0"/>
<rect x="163.45" y="772.11" width="1.25" height="1.25" fill="#8888b0"/>
<rect x="158.03" y="774.44" width="1.25" height="1.25" fill="#8888b0"/>
<rect x="157.35" y="777.66" width="1.25" height="1.25" fill="#8888b0"/>
<rect x="160.35" y="777.80" width="1.25" height="1.25" fill="#8888b0"/>
<rect x="150.23" y="781.33" width="1.25" height="1.25" fill="#8888b0"/>
<rect x="170.51" y="783.31" width="1.25" height="1.25" fill="#8888b0"/>
<rect x="158.87" y="784.47" width="1.25" height="1.25" fill="#8888b0"/>
<rect x="152.38" y="785.14" width="1.25" height="1.25" fill="#8888b0"/>
<rect x="169.70" y="784.25" width="1.25" height="1.25" fill="#8888b0"/>
<rect x="171.55" y="784.10" width="1.25" height="1.25" fill="#8888b0"/>
<rect x="169.11" y="785.70" width="1.25" height="1.25" fill="#8888b0"/>
<rect x="160.67" y="788.47" width="1.25" height="1.25" fill="#8888b0"/>
<rect x="172.31" y="790.70" width="1.25" height="1.25" fill="#8888b0"/>
<rect x="153.90" y="791.36" width="1.25" height="1.25" fill="#8888b0"/>
<rect x="149.46" y="793.46" width="1.25" height="1.25" fill="#8888b0"/>
<rect x="148.83" y="791.31" width="1.25" height="1.25" fill="#8888b0"/>
<rect x="154.38" y="793.52" width="1.25" height="1.25" fill="#8888b0"/>
<rect x="169.49" y="793.59" width="1.25" height="1.25" fill="#8888b0"/>
<rect x="168.24" y="794.18" width="1.25" height="1.25" fill="#8888b0"/>
<rect x="155.05" y="794.45" width="1.25" height="1.25" fill="#8888b0"/>
<rect x="152.81" y="795.24" width="1.25" height="1.25" fill="#8888b0"/>
<rect x="161.93" y="796.73" width="1.25" height="1.25" fill="#8888b0"/>
<rect x="162.63" y="797.98" width="1.25" height="1.25" fill="#8888b0"/>
<rect x="166.71" y="799.24" width="1.25" height="1.25" fill="#8888b0"/>
<rect x="159.97" y="799.42" width="1.25" height="1.25" fill="#8888b0"/>
<rect x="170.77" y="801.02" width="1.25" height="1.25" fill="#8888b0"/>
<rect x="161.26" y="801.94" width="1.25" height="1.25" fill="#8888b0"/>
<rect x="173.08" y="803.56" width="1.25" height="1.25" fill="#8888b0"/>
<rect x="164.67" y="804.94" width="1.25" height="1.25" fill="#8888b0"/>
<rect x="166.15" y="806.12" width="1.25" height="1.25" fill="#8888b0"/>
<rect x="148.32" y="809.51" width="1.25" height="1.25" fill="#8888b0"/>
<rect x="167.58" y="812.46" width="1.25" height="1.25" fill="#8888b0"/>
<rect x="168.38" y="815.54" width="1.25" height="1.25" fill="#8888b0"/>
<rect x="159.27" y="815.59" width="1.25" height="1.25" fill="#8888b0"/>
<rect x="119.40" y="766.80" width="57.70" height="51.90" fill="none" stroke="#111" stroke-width="1.2"/>
<line x1="117.60" y1="772.10" x2="119.40" y2="772.10" stroke="#111" stroke-width="0.6"/>
<text x="116.80" y="773.90" font-size="5.0" text-anchor="end" fill="#222">14</text>
<line x1="117.60" y1="779.68" x2="119.40" y2="779.68" stroke="#111" stroke-width="0.6"/>
<text x="116.80" y="781.48" font-size="5.0" text-anchor="end" fill="#222">13</text>
<line x1="117.60" y1="787.26" x2="119.40" y2="787.26" stroke="#111" stroke-width="0.6"/>
<text x="116.80" y="789.06" font-size="5.0" text-anchor="end" fill="#222">12</text>
<line x1="117.60" y1="794.83" x2="119.40" y2="794.83" stroke="#111" stroke-width="0.6"/>
<text x="116.80" y="796.63" font-size="5.0" text-anchor="end" fill="#222">11</text>
<line x1="117.60" y1="802.41" x2="119.40" y2="802.41" stroke="#111" stroke-width="0.6"/>
<text x="116.80" y="804.21" font-size="5.0" text-anchor="end" fill="#222">10</text>
<line x1="117.60" y1="809.99" x2="119.40" y2="809.99" stroke="#111" stroke-width="0.6"/>
<text x="116.80" y="811.79" font-size="5.0" text-anchor="end" fill="#222">9</text>
<line x1="117.60" y1="817.56" x2="119.40" y2="817.56" stroke="#111" stroke-width="0.6"/>
<text x="116.80" y="819.36" font-size="5.0" text-anchor="end" fill="#222">8</text>
<line x1="126.30" y1="818.70" x2="126.30" y2="820.30" stroke="#111" stroke-width="0.6"/>
<text x="126.30" y="826.60" font-size="5.0" text-anchor="middle" fill="#222">4.5</text>
<line x1="134.20" y1="818.70" x2="134.20" y2="820.30" stroke="#111" stroke-width="0.6"/>
<text x="134.20" y="826.60" font-size="5.0" text-anchor="middle" fill="#222">5.0</text>
<line x1="142.10" y1="818.70" x2="142.10" y2="820.30" stroke="#111" stroke-width="0.6"/>
<text x="142.10" y="826.60" font-size="5.0" text-anchor="middle" fill="#222">5.5</text>
<line x1="150.00" y1="818.70" x2="150.00" y2="820.30" stroke="#111" stroke-width="0.6"/>
<text x="150.00" y="826.60" font-size="5.0" text-anchor="middle" fill="#222">6.0</text>
<line x1="157.90" y1="818.70" x2="157.90" y2="820.30" stroke="#111" stroke-width="0.6"/>
<text x="157.90" y="826.60" font-size="5.0" text-anchor="middle" fill="#222">6.5</text>
<line x1="165.80" y1="818.70" x2="165.80" y2="820.30" stroke="#111" stroke-width="0.6"/>
<text x="165.80" y="826.60" font-size="5.0" text-anchor="middle" fill="#222">7.0</text>
<line x1="173.70" y1="818.70" x2="173.70" y2="820.30" stroke="#111" stroke-width="0.6"/>
<text x="173.70" y="826.60" font-size="5.0" text-anchor="middle" fill="#222">7.5</text>
<text transform="translate(223.55,760.50) scale(0.93,1)" x="0" y="0" font-size="8.3" text-anchor="middle" fill="#1a1a1a">PIK3CD</text>
<line x1="195.70" y1="803.13" x2="251.40" y2="787.56" stroke="#f1f1f1" stroke-width="1.7"/>
<rect x="246.37" y="767.38" width="1.25" height="1.25" fill="#8888b0"/>
<rect x="220.71" y="775.49" width="1.25" height="1.25" fill="#8888b0"/>
<rect x="230.35" y="782.53" width="1.25" height="1.25" fill="#8888b0"/>
<rect x="245.26" y="782.13" width="1.25" height="1.25" fill="#8888b0"/>
<rect x="237.43" y="788.45" width="1.25" height="1.25" fill="#8888b0"/>
<rect x="219.27" y="788.33" width="1.25" height="1.25" fill="#8888b0"/>
<rect x="245.20" y="793.32" width="1.25" height="1.25" fill="#8888b0"/>
<rect x="214.79" y="795.09" width="1.25" height="1.25" fill="#8888b0"/>
<rect x="247.73" y="792.92" width="1.25" height="1.25" fill="#8888b0"/>
<rect x="243.87" y="795.06" width="1.25" height="1.25" fill="#8888b0"/>
<rect x="225.41" y="794.97" width="1.25" height="1.25" fill="#8888b0"/>
<rect x="242.84" y="799.72" width="1.25" height="1.25" fill="#8888b0"/>
<rect x="207.77" y="801.73" width="1.25" height="1.25" fill="#8888b0"/>
<rect x="231.94" y="801.91" width="1.25" height="1.25" fill="#8888b0"/>
<rect x="202.68" y="801.81" width="1.25" height="1.25" fill="#8888b0"/>
<rect x="223.63" y="804.76" width="1.25" height="1.25" fill="#8888b0"/>
<rect x="201.72" y="804.99" width="1.25" height="1.25" fill="#8888b0"/>
<rect x="208.06" y="811.50" width="1.25" height="1.25" fill="#8888b0"/>
<rect x="206.48" y="812.87" width="1.25" height="1.25" fill="#8888b0"/>
<rect x="226.51" y="814.83" width="1.25" height="1.25" fill="#8888b0"/>
<rect x="234.15" y="768.14" width="1.25" height="1.25" fill="#8888b0"/>
<rect x="240.00" y="768.41" width="1.25" height="1.25" fill="#8888b0"/>
<rect x="237.74" y="771.88" width="1.25" height="1.25" fill="#8888b0"/>
<rect x="229.76" y="774.19" width="1.25" height="1.25" fill="#8888b0"/>
<rect x="231.53" y="777.64" width="1.25" height="1.25" fill="#8888b0"/>
<rect x="248.17" y="777.57" width="1.25" height="1.25" fill="#8888b0"/>
<rect x="221.86" y="781.28" width="1.25" height="1.25" fill="#8888b0"/>
<rect x="215.65" y="783.15" width="1.25" height="1.25" fill="#8888b0"/>
<rect x="218.63" y="784.32" width="1.25" height="1.25" fill="#8888b0"/>
<rect x="224.31" y="785.10" width="1.25" height="1.25" fill="#8888b0"/>
<rect x="241.67" y="784.22" width="1.25" height="1.25" fill="#8888b0"/>
<rect x="235.26" y="784.11" width="1.25" height="1.25" fill="#8888b0"/>
<rect x="219.93" y="785.65" width="1.25" height="1.25" fill="#8888b0"/>
<rect x="209.88" y="788.01" width="1.25" height="1.25" fill="#8888b0"/>
<rect x="209.48" y="790.58" width="1.25" height="1.25" fill="#8888b0"/>
<rect x="236.39" y="791.31" width="1.25" height="1.25" fill="#8888b0"/>
<rect x="232.85" y="793.70" width="1.25" height="1.25" fill="#8888b0"/>
<rect x="241.88" y="791.34" width="1.25" height="1.25" fill="#8888b0"/>
<rect x="227.13" y="793.52" width="1.25" height="1.25" fill="#8888b0"/>
<rect x="205.46" y="793.52" width="1.25" height="1.25" fill="#8888b0"/>
<rect x="217.12" y="794.42" width="1.25" height="1.25" fill="#8888b0"/>
<rect x="214.64" y="794.27" width="1.25" height="1.25" fill="#8888b0"/>
<rect x="238.66" y="795.07" width="1.25" height="1.25" fill="#8888b0"/>
<rect x="202.75" y="796.63" width="1.25" height="1.25" fill="#8888b0"/>
<rect x="210.50" y="798.29" width="1.25" height="1.25" fill="#8888b0"/>
<rect x="228.31" y="799.65" width="1.25" height="1.25" fill="#8888b0"/>
<rect x="213.54" y="799.34" width="1.25" height="1.25" fill="#8888b0"/>
<rect x="235.04" y="801.08" width="1.25" height="1.25" fill="#8888b0"/>
<rect x="217.76" y="801.67" width="1.25" height="1.25" fill="#8888b0"/>
<rect x="204.20" y="803.20" width="1.25" height="1.25" fill="#8888b0"/>
<rect x="211.49" y="804.60" width="1.25" height="1.25" fill="#8888b0"/>
<rect x="240.80" y="806.26" width="1.25" height="1.25" fill="#8888b0"/>
<rect x="222.42" y="809.57" width="1.25" height="1.25" fill="#8888b0"/>
<rect x="204.73" y="812.69" width="1.25" height="1.25" fill="#8888b0"/>
<rect x="212.80" y="815.37" width="1.25" height="1.25" fill="#8888b0"/>
<rect x="227.78" y="815.56" width="1.25" height="1.25" fill="#8888b0"/>
<rect x="194.70" y="766.80" width="57.70" height="51.90" fill="none" stroke="#111" stroke-width="1.2"/>
<line x1="192.90" y1="772.10" x2="194.70" y2="772.10" stroke="#111" stroke-width="0.6"/>
<text x="192.10" y="773.90" font-size="5.0" text-anchor="end" fill="#222">14</text>
<line x1="192.90" y1="779.68" x2="194.70" y2="779.68" stroke="#111" stroke-width="0.6"/>
<text x="192.10" y="781.48" font-size="5.0" text-anchor="end" fill="#222">13</text>
<line x1="192.90" y1="787.26" x2="194.70" y2="787.26" stroke="#111" stroke-width="0.6"/>
<text x="192.10" y="789.06" font-size="5.0" text-anchor="end" fill="#222">12</text>
<line x1="192.90" y1="794.83" x2="194.70" y2="794.83" stroke="#111" stroke-width="0.6"/>
<text x="192.10" y="796.63" font-size="5.0" text-anchor="end" fill="#222">11</text>
<line x1="192.90" y1="802.41" x2="194.70" y2="802.41" stroke="#111" stroke-width="0.6"/>
<text x="192.10" y="804.21" font-size="5.0" text-anchor="end" fill="#222">10</text>
<line x1="192.90" y1="809.99" x2="194.70" y2="809.99" stroke="#111" stroke-width="0.6"/>
<text x="192.10" y="811.79" font-size="5.0" text-anchor="end" fill="#222">9</text>
<line x1="192.90" y1="817.56" x2="194.70" y2="817.56" stroke="#111" stroke-width="0.6"/>
<text x="192.10" y="819.36" font-size="5.0" text-anchor="end" fill="#222">8</text>
<line x1="201.00" y1="818.70" x2="201.00" y2="820.30" stroke="#111" stroke-width="0.6"/>
<text x="201.00" y="826.60" font-size="5.0" text-anchor="middle" fill="#222">4.5</text>
<line x1="209.66" y1="818.70" x2="209.66" y2="820.30" stroke="#111" stroke-width="0.6"/>
<text x="209.66" y="826.60" font-size="5.0" text-anchor="middle" fill="#222">5.0</text>
<line x1="218.32" y1="818.70" x2="218.32" y2="820.30" stroke="#111" stroke-width="0.6"/>
<text x="218.32" y="826.60" font-size="5.0" text-anchor="middle" fill="#222">5.5</text>
<line x1="226.98" y1="818.70" x2="226.98" y2="820.30" stroke="#111" stroke-width="0.6"/>
<text x="226.98" y="826.60" font-size="5.0" text-anchor="middle" fill="#222">6.0</text>
<line x1="235.64" y1="818.70" x2="235.64" y2="820.30" stroke="#111" stroke-width="0.6"/>
<text x="235.64" y="826.60" font-size="5.0" text-anchor="middle" fill="#222">6.5</text>
<line x1="244.30" y1="818.70" x2="244.30" y2="820.30" stroke="#111" stroke-width="0.6"/>
<text x="244.30" y="826.60" font-size="5.0" text-anchor="middle" fill="#222">7.0</text>
<text x="370.70" y="604.00" font-size="11.4" textLength="59.10" lengthAdjust="spacingAndGlyphs">Final Model</text>
<circle cx="407.60" cy="626.80" r="1.65" fill="#a42624"/>
<circle cx="380.20" cy="648.30" r="1.65" fill="#a42624"/>
<circle cx="360.80" cy="669.60" r="1.65" fill="#a42624"/>
<circle cx="407.60" cy="667.30" r="1.65" fill="#a42624"/>
<circle cx="413.00" cy="684.60" r="1.65" fill="#a42624"/>
<circle cx="427.20" cy="684.60" r="1.65" fill="#a42624"/>
<circle cx="425.60" cy="699.40" r="1.65" fill="#a42624"/>
<circle cx="423.90" cy="703.80" r="1.65" fill="#a42624"/>
<circle cx="378.50" cy="697.40" r="1.65" fill="#a42624"/>
<circle cx="355.70" cy="703.50" r="1.65" fill="#a42624"/>
<circle cx="399.00" cy="703.60" r="1.65" fill="#a42624"/>
<circle cx="363.00" cy="716.30" r="1.65" fill="#a42624"/>
<circle cx="389.70" cy="722.80" r="1.65" fill="#a42624"/>
<circle cx="403.50" cy="722.70" r="1.65" fill="#a42624"/>
<circle cx="365.00" cy="722.80" r="1.65" fill="#a42624"/>
<circle cx="369.40" cy="731.30" r="1.65" fill="#a42624"/>
<circle cx="375.50" cy="731.30" r="1.65" fill="#a42624"/>
<circle cx="359.10" cy="750.50" r="1.65" fill="#a42624"/>
<circle cx="379.30" cy="752.80" r="1.65" fill="#a42624"/>
<circle cx="345.60" cy="759.20" r="1.65" fill="#a42624"/>
<circle cx="409.70" cy="628.90" r="1.65" fill="#1515a6"/>
<circle cx="425.50" cy="628.90" r="1.65" fill="#1515a6"/>
<circle cx="454.20" cy="639.70" r="1.65" fill="#1515a6"/>
<circle cx="413.80" cy="646.10" r="1.65" fill="#1515a6"/>
<circle cx="408.70" cy="654.80" r="1.65" fill="#1515a6"/>
<circle cx="422.20" cy="654.80" r="1.65" fill="#1515a6"/>
<circle cx="401.40" cy="665.30" r="1.65" fill="#1515a6"/>
<circle cx="410.30" cy="671.20" r="1.65" fill="#1515a6"/>
<circle cx="410.00" cy="673.80" r="1.65" fill="#1515a6"/>
<circle cx="410.00" cy="675.90" r="1.65" fill="#1515a6"/>
<circle cx="416.10" cy="673.80" r="1.65" fill="#1515a6"/>
<circle cx="435.50" cy="673.80" r="1.65" fill="#1515a6"/>
<circle cx="421.10" cy="677.80" r="1.65" fill="#1515a6"/>
<circle cx="401.10" cy="684.60" r="1.65" fill="#1515a6"/>
<circle cx="406.30" cy="690.80" r="1.65" fill="#1515a6"/>
<circle cx="417.80" cy="692.90" r="1.65" fill="#1515a6"/>
<circle cx="409.40" cy="699.30" r="1.65" fill="#1515a6"/>
<circle cx="382.30" cy="693.10" r="1.65" fill="#1515a6"/>
<circle cx="380.00" cy="699.20" r="1.65" fill="#1515a6"/>
<circle cx="386.20" cy="699.20" r="1.65" fill="#1515a6"/>
<circle cx="383.90" cy="701.40" r="1.65" fill="#1515a6"/>
<circle cx="375.30" cy="701.40" r="1.65" fill="#1515a6"/>
<circle cx="371.90" cy="703.50" r="1.65" fill="#1515a6"/>
<circle cx="368.90" cy="707.80" r="1.65" fill="#1515a6"/>
<circle cx="385.40" cy="712.10" r="1.65" fill="#1515a6"/>
<circle cx="368.50" cy="716.30" r="1.65" fill="#1515a6"/>
<circle cx="402.70" cy="716.40" r="1.65" fill="#1515a6"/>
<circle cx="390.20" cy="720.80" r="1.65" fill="#1515a6"/>
<circle cx="349.00" cy="722.80" r="1.65" fill="#1515a6"/>
<circle cx="397.50" cy="727.20" r="1.65" fill="#1515a6"/>
<circle cx="344.70" cy="731.30" r="1.65" fill="#1515a6"/>
<circle cx="403.30" cy="735.50" r="1.65" fill="#1515a6"/>
<circle cx="348.20" cy="744.10" r="1.65" fill="#1515a6"/>
<circle cx="357.20" cy="752.80" r="1.65" fill="#1515a6"/>
<circle cx="341.80" cy="761.10" r="1.65" fill="#1515a6"/>
<circle cx="368.10" cy="761.10" r="1.65" fill="#1515a6"/>
<rect x="310.50" y="611.20" width="179.50" height="159.80" fill="none" stroke="#111" stroke-width="1.3"/>
<line x1="307.30" y1="765.00" x2="310.50" y2="765.00" stroke="#111" stroke-width="1.0"/>
<text transform="translate(303.50,767.70) scale(1.07,1)" x="0" y="0" font-size="9.3" text-anchor="end" fill="#111">8</text>
<line x1="307.30" y1="743.82" x2="310.50" y2="743.82" stroke="#111" stroke-width="1.0"/>
<text transform="translate(303.50,746.52) scale(1.07,1)" x="0" y="0" font-size="9.3" text-anchor="end" fill="#111">9</text>
<line x1="307.30" y1="722.64" x2="310.50" y2="722.64" stroke="#111" stroke-width="1.0"/>
<text transform="translate(303.50,725.34) scale(1.07,1)" x="0" y="0" font-size="9.3" text-anchor="end" fill="#111">10</text>
<line x1="307.30" y1="701.46" x2="310.50" y2="701.46" stroke="#111" stroke-width="1.0"/>
<text transform="translate(303.50,704.16) scale(1.07,1)" x="0" y="0" font-size="9.3" text-anchor="end" fill="#111">11</text>
<line x1="307.30" y1="680.29" x2="310.50" y2="680.29" stroke="#111" stroke-width="1.0"/>
<text transform="translate(303.50,682.99) scale(1.07,1)" x="0" y="0" font-size="9.3" text-anchor="end" fill="#111">12</text>
<line x1="307.30" y1="659.11" x2="310.50" y2="659.11" stroke="#111" stroke-width="1.0"/>
<text transform="translate(303.50,661.81) scale(1.07,1)" x="0" y="0" font-size="9.3" text-anchor="end" fill="#111">13</text>
<line x1="307.30" y1="637.93" x2="310.50" y2="637.93" stroke="#111" stroke-width="1.0"/>
<text transform="translate(303.50,640.63) scale(1.07,1)" x="0" y="0" font-size="9.3" text-anchor="end" fill="#111">14</text>
<line x1="307.30" y1="616.75" x2="310.50" y2="616.75" stroke="#111" stroke-width="1.0"/>
<text transform="translate(303.50,619.45) scale(1.07,1)" x="0" y="0" font-size="9.3" text-anchor="end" fill="#111">15</text>
<line x1="317.50" y1="771.00" x2="317.50" y2="774.20" stroke="#111" stroke-width="1.0"/>
<text transform="translate(317.50,786.60) scale(1.07,1)" x="0" y="0" font-size="9.3" text-anchor="middle" fill="#111">8</text>
<line x1="341.23" y1="771.00" x2="341.23" y2="774.20" stroke="#111" stroke-width="1.0"/>
<text transform="translate(341.23,786.60) scale(1.07,1)" x="0" y="0" font-size="9.3" text-anchor="middle" fill="#111">9</text>
<line x1="364.96" y1="771.00" x2="364.96" y2="774.20" stroke="#111" stroke-width="1.0"/>
<text transform="translate(364.96,786.60) scale(1.07,1)" x="0" y="0" font-size="9.3" text-anchor="middle" fill="#111">10</text>
<line x1="388.69" y1="771.00" x2="388.69" y2="774.20" stroke="#111" stroke-width="1.0"/>
<text transform="translate(388.69,786.60) scale(1.07,1)" x="0" y="0" font-size="9.3" text-anchor="middle" fill="#111">11</text>
<line x1="412.41" y1="771.00" x2="412.41" y2="774.20" stroke="#111" stroke-width="1.0"/>
<text transform="translate(412.41,786.60) scale(1.07,1)" x="0" y="0" font-size="9.3" text-anchor="middle" fill="#111">12</text>
<line x1="436.14" y1="771.00" x2="436.14" y2="774.20" stroke="#111" stroke-width="1.0"/>
<text transform="translate(436.14,786.60) scale(1.07,1)" x="0" y="0" font-size="9.3" text-anchor="middle" fill="#111">13</text>
<line x1="459.87" y1="771.00" x2="459.87" y2="774.20" stroke="#111" stroke-width="1.0"/>
<text transform="translate(459.87,786.60) scale(1.07,1)" x="0" y="0" font-size="9.3" text-anchor="middle" fill="#111">14</text>
<line x1="483.60" y1="771.00" x2="483.60" y2="774.20" stroke="#111" stroke-width="1.0"/>
<text transform="translate(483.60,786.60) scale(1.07,1)" x="0" y="0" font-size="9.3" text-anchor="middle" fill="#111">15</text>
<text x="349.20" y="805.00" font-size="13.0" textLength="102.80" lengthAdjust="spacingAndGlyphs">Predicted Levels (g/dl)</text>
<text transform="translate(286.00,749.00) rotate(-90)" font-size="12.8" textLength="121.30" lengthAdjust="spacingAndGlyphs">Hemoglobin Levels (g/dl)</text>
<text x="304.30" y="819.60" font-size="9.2" font-style="italic" textLength="97.90" lengthAdjust="spacingAndGlyphs">Adjusted R-squared: 0.3</text>
<text x="410.30" y="819.60" font-size="9.2" font-style="italic" textLength="81.40" lengthAdjust="spacingAndGlyphs">Training RMSE: 0.95</text>
<text x="304.30" y="833.40" font-size="9.2" font-style="italic" textLength="70.90" lengthAdjust="spacingAndGlyphs">P-value: 2.354e-4</text>
<text x="410.30" y="833.40" font-size="9.2" font-style="italic" textLength="95.10" lengthAdjust="spacingAndGlyphs">Validation RMSE: 1.492</text>
</svg>
</body></html>
